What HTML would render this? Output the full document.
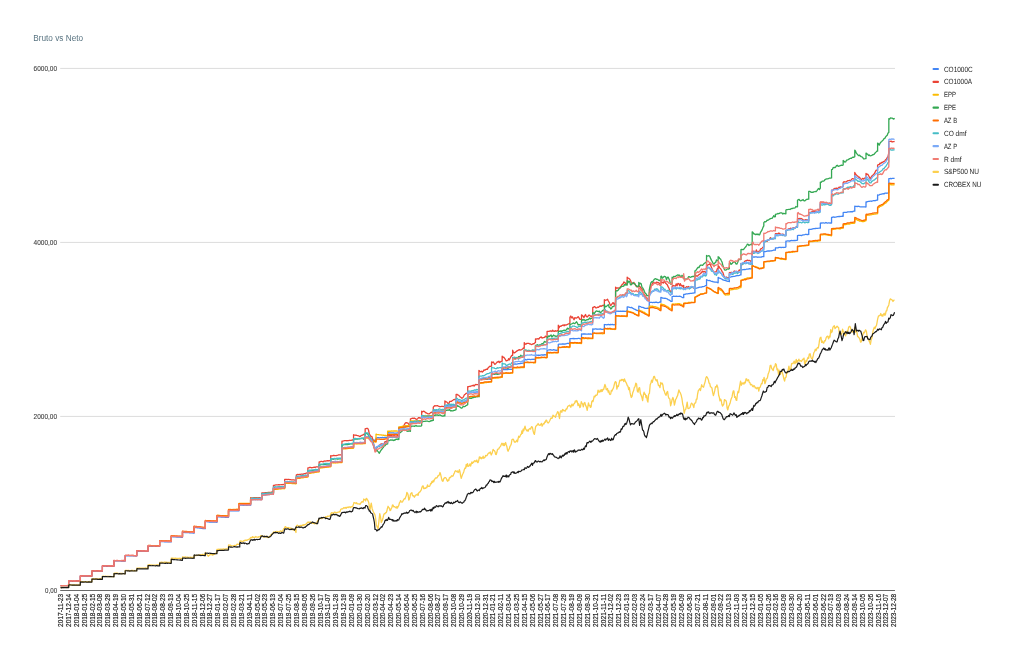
<!DOCTYPE html>
<html lang="hr"><head><meta charset="utf-8"><title>Bruto vs Neto</title>
<style>
html,body{margin:0;padding:0;background:#fff}
body{width:1024px;height:661px;position:relative;overflow:hidden;font-family:"Liberation Sans",Arial,sans-serif}
svg text{font-family:"Liberation Sans",Arial,sans-serif}
</style></head><body>
<svg width="1024" height="661" viewBox="0 0 1024 661" style="position:absolute;left:0;top:0">
<rect width="1024" height="661" fill="#fff"/>
<rect x="60.2" y="67.90" width="834.80" height="1" fill="#dcdcdc"/>
<rect x="60.2" y="241.90" width="834.80" height="1" fill="#dcdcdc"/>
<rect x="60.2" y="415.90" width="834.80" height="1" fill="#dcdcdc"/>
<g fill="none" stroke-width="1.30" stroke-linejoin="round" stroke-linecap="butt">
<path d="M60.50 585.88 L61.32 585.90 L62.14 585.94 L62.96 585.89 L63.77 585.83 L64.59 585.87 L65.41 585.91 L66.23 585.96 L67.05 585.86 L67.87 585.83 L68.69 585.90 L68.69 581.12 L69.51 581.20 L70.34 581.21 L71.17 581.17 L72.00 581.16 L72.83 581.30 L73.66 581.22 L74.49 581.18 L75.32 581.16 L76.14 581.22 L76.97 581.25 L77.80 581.25 L78.63 581.27 L79.46 581.30 L80.29 581.32 L80.29 576.14 L81.12 576.16 L81.95 576.07 L82.78 576.17 L83.60 576.11 L84.43 576.16 L85.26 576.12 L86.09 576.19 L86.92 576.18 L87.75 576.24 L88.58 576.41 L89.41 576.32 L90.24 576.34 L91.06 576.26 L91.89 576.31 L91.89 571.13 L92.70 571.14 L93.51 571.17 L94.31 571.18 L95.12 571.14 L95.92 571.21 L96.73 571.18 L97.54 571.31 L98.34 571.25 L99.15 571.30 L99.96 571.29 L100.76 571.34 L101.57 571.30 L102.37 571.34 L102.37 566.14 L103.20 566.21 L104.03 566.21 L104.86 566.20 L105.69 566.16 L106.52 566.23 L107.35 566.25 L108.18 566.32 L109.01 566.26 L109.83 566.29 L110.66 566.31 L111.49 566.31 L112.32 566.32 L113.15 566.33 L113.98 566.33 L113.98 560.72 L114.78 560.72 L115.58 560.80 L116.39 560.88 L117.19 560.90 L117.99 560.92 L118.79 560.93 L119.59 560.95 L120.40 560.94 L121.20 560.98 L122.00 561.05 L122.80 561.00 L123.60 560.97 L124.41 561.10 L125.21 561.05 L125.21 555.67 L126.04 555.73 L126.87 555.66 L127.70 555.82 L128.52 555.85 L129.35 555.81 L130.18 555.83 L131.01 555.82 L131.84 555.79 L132.67 555.83 L133.50 555.88 L134.33 555.94 L135.15 555.96 L135.98 555.95 L136.81 555.97 L136.81 551.15 L137.61 551.20 L138.42 551.26 L139.22 551.22 L140.02 551.15 L140.82 551.19 L141.63 551.26 L142.43 551.32 L143.23 551.40 L144.03 551.32 L144.83 551.36 L145.64 551.41 L146.44 551.41 L147.24 551.32 L148.04 551.45 L148.04 546.18 L148.87 546.26 L149.70 546.18 L150.53 546.19 L151.36 546.24 L152.19 546.37 L153.02 546.35 L153.84 546.33 L154.67 546.40 L155.50 546.37 L156.33 546.46 L157.16 546.39 L157.99 546.38 L158.82 546.45 L159.65 546.47 L159.65 541.65 L160.48 541.69 L161.30 541.61 L162.13 541.64 L162.96 541.67 L163.79 541.70 L164.62 541.78 L165.45 541.78 L166.28 541.84 L167.11 541.84 L167.94 541.84 L168.76 541.87 L169.59 541.91 L170.42 541.96 L171.25 541.94 L171.25 536.72 L172.05 536.70 L172.85 536.86 L173.66 536.94 L174.46 536.92 L175.26 536.92 L176.06 536.92 L176.87 537.01 L177.67 537.07 L178.47 537.21 L179.27 537.20 L180.07 537.18 L180.88 537.12 L181.68 537.30 L182.48 537.33 L182.48 532.29 L183.31 532.35 L184.14 532.35 L184.97 532.62 L185.80 532.64 L186.62 532.66 L187.45 532.67 L188.28 532.62 L189.11 532.73 L189.94 532.74 L190.77 532.88 L191.60 532.84 L192.43 532.92 L193.26 533.08 L194.08 533.14 L194.08 527.39 L194.89 527.41 L195.69 527.60 L196.49 527.72 L197.29 527.74 L198.10 527.82 L198.90 527.91 L199.70 527.98 L200.50 528.09 L201.30 528.27 L202.11 528.37 L202.91 528.53 L203.71 528.55 L204.51 528.61 L205.31 528.69 L205.31 521.73 L206.14 521.71 L206.97 521.71 L207.80 521.86 L208.63 521.97 L209.46 522.01 L210.29 522.07 L211.12 522.07 L211.95 522.06 L212.77 522.12 L213.60 522.14 L214.43 522.15 L215.26 522.15 L216.09 522.19 L216.92 522.32 L216.92 516.76 L217.75 516.78 L218.58 516.91 L219.40 516.92 L220.23 516.97 L221.06 517.05 L221.89 517.01 L222.72 516.97 L223.55 517.11 L224.38 517.12 L225.21 517.24 L226.04 517.27 L226.86 517.34 L227.69 517.38 L228.52 517.34 L228.52 511.00 L229.33 510.95 L230.13 510.92 L230.94 510.92 L231.75 510.96 L232.55 510.97 L233.36 510.97 L234.17 510.84 L234.97 510.83 L235.78 510.73 L236.58 510.80 L237.39 510.84 L238.20 510.78 L239.00 510.80 L239.00 505.15 L239.83 505.21 L240.66 505.14 L241.49 505.12 L242.32 505.13 L243.15 505.25 L243.98 505.27 L244.81 505.22 L245.63 505.22 L246.46 505.23 L247.29 505.23 L248.12 505.22 L248.95 505.22 L249.78 505.18 L250.61 505.23 L250.61 499.62 L251.41 499.64 L252.21 499.62 L253.01 499.60 L253.82 499.60 L254.62 499.62 L255.42 499.58 L256.22 499.60 L257.02 499.61 L257.83 499.57 L258.63 499.55 L259.43 499.54 L260.23 499.53 L261.04 499.62 L261.84 499.57 L261.84 495.09 L262.67 494.99 L263.50 494.93 L264.32 494.90 L265.15 494.89 L265.98 494.80 L266.81 494.71 L267.64 494.62 L268.47 494.57 L269.30 494.56 L270.13 494.44 L270.95 494.26 L271.78 494.14 L272.61 494.07 L273.44 494.13 L273.44 488.41 L274.24 488.40 L275.05 488.29 L275.85 488.41 L276.65 488.18 L277.45 488.23 L278.25 488.22 L279.06 487.92 L279.86 487.78 L280.66 487.77 L281.46 487.94 L282.26 488.01 L283.07 487.72 L283.87 487.84 L284.67 487.70 L284.67 482.19 L285.50 482.16 L286.33 482.21 L287.16 482.08 L287.99 482.15 L288.82 482.17 L289.64 482.40 L290.47 482.68 L291.30 482.87 L292.13 482.62 L292.96 482.40 L293.79 482.49 L294.62 482.49 L295.45 482.84 L296.28 482.74 L296.28 477.69 L297.10 477.68 L297.93 477.58 L298.76 477.23 L299.59 477.16 L300.42 477.10 L301.25 477.03 L302.08 476.96 L302.91 476.81 L303.74 476.74 L304.56 476.56 L305.39 476.40 L306.22 476.54 L307.05 476.39 L307.88 476.22 L307.88 472.55 L308.68 472.41 L309.48 472.44 L310.29 472.13 L311.09 472.22 L311.89 472.01 L312.69 471.95 L313.49 471.80 L314.30 471.71 L315.10 471.71 L315.90 471.46 L316.70 471.52 L317.51 471.20 L318.31 471.00 L319.11 471.01 L319.11 467.17 L319.94 467.03 L320.77 467.09 L321.60 467.08 L322.42 466.69 L323.25 466.74 L324.08 466.85 L324.91 466.76 L325.74 466.50 L326.57 466.31 L327.40 466.22 L328.23 466.03 L329.06 466.00 L329.88 465.94 L330.71 465.89 L330.71 462.24 L331.52 462.17 L332.32 461.96 L333.12 462.13 L333.92 461.93 L334.72 461.90 L335.53 461.90 L336.33 461.84 L337.13 461.72 L337.93 461.74 L338.73 461.99 L339.54 461.74 L340.34 461.67 L341.14 461.76 L341.94 461.64 L341.94 448.24 L342.77 448.27 L343.60 447.89 L344.43 447.83 L345.26 447.87 L346.09 447.88 L346.92 447.93 L347.75 447.81 L348.57 447.64 L349.40 447.56 L350.23 447.46 L351.06 447.43 L351.89 447.42 L352.72 447.26 L353.55 447.17 L353.55 443.16 L354.38 443.23 L355.21 443.28 L356.03 443.24 L356.86 443.18 L357.69 443.13 L358.52 442.99 L359.35 442.99 L360.18 442.77 L361.01 442.76 L361.84 442.67 L362.66 442.77 L363.49 442.64 L364.32 442.61 L365.15 442.61 L365.15 437.05 L365.99 437.02 L366.82 436.99 L367.66 437.20 L368.49 437.15 L369.33 437.86 L370.16 438.38 L371.00 438.99 L371.83 439.33 L372.67 439.78 L373.50 439.96 L374.34 440.12 L375.17 440.67 L376.01 440.54 L376.01 437.83 L376.84 437.88 L377.66 437.70 L378.49 437.68 L379.32 437.83 L380.15 437.69 L380.98 437.68 L381.81 437.68 L382.64 437.51 L383.47 437.56 L384.30 437.50 L385.12 437.38 L385.95 437.57 L386.78 437.60 L387.61 437.51 L387.61 432.97 L388.41 432.74 L389.22 432.96 L390.02 432.98 L390.82 432.80 L391.62 432.92 L392.42 432.80 L393.23 432.93 L394.03 432.99 L394.83 433.03 L395.63 433.04 L396.43 433.03 L397.24 432.88 L398.04 432.91 L398.84 432.97 L398.84 427.48 L399.67 427.40 L400.50 427.36 L401.33 427.39 L402.16 426.86 L402.99 426.93 L403.81 426.82 L404.64 426.99 L405.47 426.83 L406.30 426.42 L407.13 426.43 L407.96 426.26 L408.79 426.30 L409.62 426.02 L410.44 425.99 L410.44 422.49 L411.25 422.41 L412.05 422.28 L412.85 422.05 L413.65 422.18 L414.46 422.24 L415.26 422.10 L416.06 421.89 L416.86 421.91 L417.66 421.91 L418.47 421.78 L419.27 421.71 L420.07 421.80 L420.87 421.50 L421.67 421.47 L421.67 416.43 L422.50 416.30 L423.33 416.29 L424.16 416.24 L424.99 416.22 L425.82 416.47 L426.65 416.32 L427.48 416.25 L428.31 416.46 L429.13 416.26 L429.96 415.98 L430.79 416.09 L431.62 415.96 L432.45 416.18 L433.28 415.97 L433.28 410.77 L434.11 410.60 L434.94 410.76 L435.77 410.71 L436.59 410.80 L437.42 410.81 L438.25 410.79 L439.08 410.97 L439.91 411.04 L440.74 410.98 L441.57 410.86 L442.40 410.81 L443.23 410.95 L444.05 411.24 L444.88 411.01 L444.88 405.98 L445.69 405.86 L446.49 405.77 L447.29 405.73 L448.09 405.78 L448.89 405.95 L449.70 405.83 L450.50 405.71 L451.30 405.52 L452.10 405.63 L452.90 405.62 L453.71 405.46 L454.51 405.40 L455.31 405.47 L456.11 405.53 L456.11 400.53 L456.94 400.77 L457.77 400.91 L458.60 401.17 L459.43 401.36 L460.26 401.82 L461.09 401.74 L461.91 401.94 L462.74 401.83 L463.57 401.44 L464.40 401.30 L465.23 400.91 L466.06 400.60 L466.89 400.25 L467.72 399.95 L467.72 392.45 L468.52 392.65 L469.32 392.57 L470.12 392.51 L470.93 392.50 L471.73 392.43 L472.53 392.44 L473.33 392.27 L474.13 392.20 L474.94 392.28 L475.74 392.14 L476.54 391.96 L477.34 391.99 L478.14 391.95 L478.95 392.01 L478.95 379.18 L479.79 379.04 L480.63 379.06 L481.47 379.35 L482.31 379.20 L483.15 379.18 L483.99 379.13 L484.83 379.15 L485.67 379.25 L486.51 379.34 L487.35 378.91 L488.19 379.20 L489.03 379.09 L489.87 378.99 L490.71 379.36 L491.55 379.03 L491.55 374.10 L492.37 374.22 L493.18 373.86 L494.00 373.93 L494.81 373.97 L495.63 373.83 L496.44 373.43 L497.26 373.56 L498.08 373.60 L498.89 373.46 L499.71 373.82 L500.52 373.61 L501.34 373.49 L502.15 373.48 L502.15 369.76 L502.96 369.60 L503.77 369.68 L504.57 369.71 L505.38 369.58 L506.19 369.57 L506.99 369.35 L507.80 369.53 L508.60 369.38 L509.41 369.44 L510.22 369.28 L511.02 369.25 L511.83 369.32 L512.64 369.24 L512.64 364.29 L513.46 364.23 L514.29 364.09 L515.12 363.90 L515.95 364.14 L516.78 364.15 L517.61 363.95 L518.44 363.59 L519.27 363.55 L520.10 363.67 L520.92 363.49 L521.75 363.29 L522.58 363.18 L523.41 363.16 L524.24 363.28 L524.24 359.46 L525.04 359.44 L525.84 359.87 L526.65 359.86 L527.45 359.43 L528.25 359.47 L529.05 359.44 L529.85 359.39 L530.66 359.54 L531.46 359.37 L532.26 359.31 L533.06 359.27 L533.87 359.29 L534.67 359.49 L535.47 359.35 L535.47 355.26 L536.30 355.15 L537.13 355.07 L537.96 355.26 L538.79 355.21 L539.61 355.27 L540.44 355.13 L541.27 354.78 L542.10 354.99 L542.93 355.00 L543.76 355.02 L544.59 354.74 L545.42 354.82 L546.25 354.72 L547.07 354.76 L547.07 350.10 L547.88 350.14 L548.68 349.97 L549.48 349.78 L550.28 349.60 L551.08 349.81 L551.89 350.13 L552.69 350.07 L553.49 349.71 L554.29 349.79 L555.10 350.00 L555.90 350.26 L556.70 350.27 L557.50 350.15 L558.30 350.02 L558.30 344.36 L559.13 344.21 L559.96 344.17 L560.79 344.04 L561.62 344.07 L562.45 343.97 L563.28 343.99 L564.11 344.12 L564.93 344.01 L565.76 343.88 L566.59 343.69 L567.42 343.39 L568.25 343.45 L569.08 343.52 L569.91 343.36 L569.91 338.74 L570.74 338.68 L571.57 338.72 L572.39 338.63 L573.22 338.44 L574.05 338.87 L574.88 338.52 L575.71 338.70 L576.54 338.54 L577.37 338.59 L578.20 338.44 L579.03 338.44 L579.85 338.63 L580.68 338.84 L581.51 338.50 L581.51 333.90 L582.31 334.05 L583.12 333.87 L583.92 334.01 L584.72 333.84 L585.52 333.99 L586.32 334.03 L587.13 334.16 L587.93 334.08 L588.73 333.83 L589.53 334.02 L590.34 333.83 L591.14 334.04 L591.94 334.24 L592.74 334.05 L592.74 328.89 L593.57 329.10 L594.40 329.05 L595.23 328.85 L596.06 328.93 L596.89 329.25 L597.71 329.13 L598.54 329.17 L599.37 329.14 L600.20 328.95 L601.03 329.09 L601.86 329.28 L602.69 329.36 L603.52 329.35 L604.35 329.30 L604.35 324.52 L605.15 324.64 L605.95 324.72 L606.75 324.80 L607.55 324.58 L608.36 324.49 L609.16 324.60 L609.96 324.85 L610.76 324.45 L611.57 324.54 L612.37 324.50 L613.17 324.69 L613.97 324.90 L614.77 324.72 L615.58 324.65 L615.58 311.28 L616.40 311.24 L617.23 311.05 L618.06 311.34 L618.89 311.24 L619.72 311.38 L620.55 311.13 L621.38 311.40 L622.21 311.12 L623.04 311.39 L623.86 311.06 L624.69 311.42 L625.52 311.28 L626.35 311.06 L627.18 311.26 L627.18 306.90 L628.01 306.93 L628.84 307.13 L629.67 307.43 L630.50 307.59 L631.32 307.32 L632.15 307.82 L632.98 308.39 L633.81 308.81 L634.64 309.30 L635.47 309.45 L636.30 310.23 L637.13 310.47 L637.96 310.72 L638.78 310.76 L638.78 306.06 L639.59 306.40 L640.40 306.55 L641.20 307.05 L642.01 307.34 L642.82 307.29 L643.62 307.59 L644.43 308.13 L645.23 308.39 L646.04 308.35 L646.85 308.34 L647.65 308.21 L648.46 308.33 L649.27 308.00 L649.27 302.28 L650.09 302.33 L650.92 302.42 L651.75 302.46 L652.58 302.58 L653.41 302.32 L654.24 302.48 L655.07 302.43 L655.90 302.19 L656.72 302.24 L657.55 302.59 L658.38 302.52 L659.21 302.30 L660.04 301.94 L660.87 302.23 L660.87 297.34 L661.67 297.53 L662.47 298.10 L663.28 298.19 L664.08 298.29 L664.88 298.25 L665.68 298.33 L666.48 298.63 L667.29 298.82 L668.09 299.73 L668.89 299.94 L669.69 300.33 L670.49 301.07 L671.30 301.46 L672.10 301.35 L672.10 296.54 L672.93 296.46 L673.76 296.21 L674.59 296.35 L675.41 296.39 L676.24 296.26 L677.07 296.33 L677.90 296.35 L678.73 296.32 L679.56 296.26 L680.39 296.32 L681.22 296.81 L682.05 297.32 L682.87 297.59 L683.70 297.68 L683.70 294.41 L684.51 294.33 L685.31 294.30 L686.11 293.84 L686.91 293.95 L687.71 293.87 L688.52 293.71 L689.32 293.54 L690.12 293.31 L690.92 293.35 L691.72 293.47 L692.53 293.20 L693.33 293.18 L694.13 292.93 L694.93 292.90 L694.93 288.56 L695.76 288.38 L696.59 288.12 L697.42 287.97 L698.25 287.63 L699.08 287.29 L699.91 287.15 L700.73 287.16 L701.56 287.10 L702.39 286.65 L703.22 286.52 L704.05 286.32 L704.88 286.06 L705.71 285.53 L706.54 285.49 L706.54 279.55 L707.37 280.01 L708.19 280.33 L709.02 280.60 L709.85 280.41 L710.68 281.00 L711.51 281.41 L712.34 281.44 L713.17 281.84 L714.00 281.95 L714.83 282.06 L715.65 282.12 L716.48 282.19 L717.31 282.41 L718.14 282.82 L718.14 277.35 L718.94 277.82 L719.75 278.09 L720.55 278.47 L721.35 278.89 L722.15 279.27 L722.95 279.94 L723.76 280.13 L724.56 280.47 L725.36 280.43 L726.16 280.86 L726.96 281.00 L727.77 281.29 L728.57 281.41 L729.37 281.56 L729.37 277.34 L730.20 277.11 L731.03 276.93 L731.86 276.64 L732.69 276.59 L733.52 276.38 L734.34 276.29 L735.17 276.16 L736.00 275.84 L736.83 275.52 L737.66 275.56 L738.49 275.54 L739.32 275.39 L740.15 274.95 L740.97 274.91 L740.97 269.82 L741.78 269.79 L742.58 269.73 L743.38 269.54 L744.18 269.51 L744.99 269.55 L745.79 269.30 L746.59 269.03 L747.39 269.08 L748.19 269.09 L749.00 268.74 L749.80 268.74 L750.60 268.87 L751.40 268.76 L752.20 268.70 L752.20 256.64 L753.03 256.84 L753.86 257.13 L754.69 256.98 L755.52 256.90 L756.35 256.85 L757.18 257.19 L758.01 257.24 L758.84 257.02 L759.66 257.20 L760.49 257.15 L761.32 257.06 L762.15 256.63 L762.98 256.68 L763.81 256.72 L763.81 251.45 L764.64 251.48 L765.47 251.54 L766.30 251.44 L767.12 251.07 L767.95 250.88 L768.78 251.00 L769.61 250.98 L770.44 250.95 L771.27 250.86 L772.10 250.58 L772.93 250.36 L773.76 250.01 L774.58 250.21 L775.41 250.20 L775.41 248.01 L776.22 247.86 L777.03 247.91 L777.83 247.83 L778.64 247.48 L779.44 247.41 L780.25 247.27 L781.06 247.63 L781.86 247.29 L782.67 247.35 L783.48 247.48 L784.28 247.46 L785.09 247.33 L785.89 247.01 L785.89 241.23 L786.72 241.09 L787.55 240.94 L788.38 240.89 L789.21 241.25 L790.04 240.68 L790.87 240.75 L791.70 240.45 L792.52 240.67 L793.35 240.69 L794.18 240.36 L795.01 240.58 L795.84 240.30 L796.67 240.32 L797.50 240.04 L797.50 235.59 L798.30 235.44 L799.10 235.38 L799.90 235.42 L800.71 235.30 L801.51 235.54 L802.31 235.18 L803.11 234.96 L803.92 234.79 L804.72 234.67 L805.52 234.47 L806.32 234.41 L807.12 234.62 L807.93 234.51 L808.73 234.39 L808.73 229.41 L809.56 229.48 L810.39 229.37 L811.21 229.29 L812.04 229.00 L812.87 228.89 L813.70 228.71 L814.53 228.69 L815.36 228.51 L816.19 228.46 L817.02 228.41 L817.85 228.32 L818.67 228.22 L819.50 228.10 L820.33 228.15 L820.33 223.10 L821.13 222.95 L821.94 223.07 L822.74 222.93 L823.54 222.88 L824.34 223.03 L825.14 222.83 L825.95 222.52 L826.75 222.94 L827.55 223.20 L828.35 222.88 L829.16 222.89 L829.96 223.11 L830.76 222.81 L831.56 223.03 L831.56 217.42 L832.39 217.29 L833.22 216.98 L834.05 217.25 L834.88 217.12 L835.71 217.09 L836.54 216.93 L837.36 216.54 L838.19 216.65 L839.02 216.45 L839.85 216.52 L840.68 216.36 L841.51 216.32 L842.34 216.27 L843.17 216.28 L843.17 212.54 L843.99 212.31 L844.82 212.28 L845.65 212.43 L846.48 212.29 L847.31 211.99 L848.14 211.92 L848.97 211.81 L849.80 211.90 L850.63 211.74 L851.45 211.68 L852.28 211.87 L853.11 211.35 L853.94 211.16 L854.77 211.15 L854.77 206.14 L855.57 206.30 L856.37 206.39 L857.18 206.65 L857.98 206.23 L858.78 206.28 L859.58 206.67 L860.38 206.78 L861.19 206.82 L861.99 206.87 L862.79 206.79 L863.59 206.78 L864.40 206.82 L865.20 206.98 L866.00 206.91 L866.00 201.92 L866.83 202.00 L867.66 201.54 L868.49 201.35 L869.32 201.39 L870.14 201.19 L870.97 201.05 L871.80 201.25 L872.63 200.98 L873.46 200.67 L874.29 200.70 L875.12 200.84 L875.95 200.26 L876.78 200.03 L877.60 199.99 L877.60 194.97 L878.41 195.11 L879.21 194.82 L880.01 194.47 L880.81 194.36 L881.61 194.01 L882.42 193.80 L883.22 193.72 L884.02 193.92 L884.82 193.18 L885.63 193.20 L886.43 193.23 L887.23 193.03 L888.03 193.03 L888.83 192.56 L888.83 178.73 L889.66 178.67 L890.48 178.49 L891.31 178.77 L892.13 178.42 L892.95 178.43 L893.78 178.34 L894.60 178.35" stroke="#4285f4"/>
<path d="M60.50 585.57 L61.32 585.58 L62.14 585.57 L62.96 585.56 L63.77 585.65 L64.59 585.62 L65.41 585.59 L66.23 585.71 L67.05 585.61 L67.87 585.52 L68.69 585.56 L68.69 580.78 L69.51 580.83 L70.34 580.89 L71.17 580.94 L72.00 581.01 L72.83 581.04 L73.66 580.99 L74.49 581.03 L75.32 581.00 L76.14 580.92 L76.97 581.00 L77.80 580.98 L78.63 580.97 L79.46 581.12 L80.29 581.03 L80.29 575.80 L81.12 575.81 L81.95 575.99 L82.78 575.89 L83.60 575.92 L84.43 575.94 L85.26 575.95 L86.09 575.96 L86.92 575.91 L87.75 575.90 L88.58 575.92 L89.41 575.93 L90.24 576.02 L91.06 576.11 L91.89 576.00 L91.89 570.81 L92.70 570.77 L93.51 570.77 L94.31 570.81 L95.12 570.86 L95.92 570.85 L96.73 570.71 L97.54 570.94 L98.34 570.92 L99.15 570.90 L99.96 570.99 L100.76 570.94 L101.57 570.88 L102.37 571.00 L102.37 565.81 L103.20 565.77 L104.03 565.87 L104.86 565.89 L105.69 565.80 L106.52 565.97 L107.35 565.94 L108.18 565.85 L109.01 565.93 L109.83 565.95 L110.66 566.02 L111.49 565.90 L112.32 566.02 L113.15 566.07 L113.98 566.02 L113.98 560.42 L114.78 560.54 L115.58 560.54 L116.39 560.51 L117.19 560.45 L117.99 560.57 L118.79 560.62 L119.59 560.61 L120.40 560.60 L121.20 560.66 L122.00 560.47 L122.80 560.61 L123.60 560.48 L124.41 560.64 L125.21 560.72 L125.21 555.35 L126.04 555.35 L126.87 555.38 L127.70 555.38 L128.52 555.24 L129.35 555.41 L130.18 555.43 L131.01 555.46 L131.84 555.41 L132.67 555.47 L133.50 555.52 L134.33 555.62 L135.15 555.61 L135.98 555.83 L136.81 555.62 L136.81 550.70 L137.61 550.72 L138.42 550.69 L139.22 550.85 L140.02 550.86 L140.82 550.75 L141.63 550.82 L142.43 550.93 L143.23 550.81 L144.03 550.88 L144.83 550.90 L145.64 551.09 L146.44 551.04 L147.24 550.98 L148.04 550.99 L148.04 545.64 L148.87 545.63 L149.70 545.80 L150.53 545.62 L151.36 545.66 L152.19 545.68 L153.02 545.68 L153.84 545.72 L154.67 545.81 L155.50 545.76 L156.33 545.71 L157.16 545.89 L157.99 545.98 L158.82 545.88 L159.65 545.91 L159.65 540.95 L160.48 541.04 L161.30 540.96 L162.13 541.00 L162.96 541.21 L163.79 541.07 L164.62 541.12 L165.45 541.08 L166.28 541.02 L167.11 541.07 L167.94 541.19 L168.76 541.14 L169.59 541.19 L170.42 541.31 L171.25 541.30 L171.25 535.97 L172.05 536.12 L172.85 536.12 L173.66 536.24 L174.46 536.14 L175.26 536.32 L176.06 536.21 L176.87 536.17 L177.67 536.27 L178.47 536.34 L179.27 536.43 L180.07 536.44 L180.88 536.55 L181.68 536.66 L182.48 536.60 L182.48 531.47 L183.31 531.50 L184.14 531.65 L184.97 531.74 L185.80 531.73 L186.62 531.72 L187.45 531.82 L188.28 531.96 L189.11 531.93 L189.94 532.10 L190.77 532.12 L191.60 532.17 L192.43 532.16 L193.26 532.33 L194.08 532.31 L194.08 526.47 L194.89 526.62 L195.69 526.67 L196.49 526.85 L197.29 526.91 L198.10 526.94 L198.90 527.06 L199.70 527.12 L200.50 527.18 L201.30 527.32 L202.11 527.48 L202.91 527.55 L203.71 527.62 L204.51 527.67 L205.31 527.81 L205.31 520.81 L206.14 520.92 L206.97 520.94 L207.80 521.09 L208.63 520.93 L209.46 521.00 L210.29 521.09 L211.12 521.17 L211.95 521.07 L212.77 521.08 L213.60 521.19 L214.43 521.33 L215.26 521.41 L216.09 521.29 L216.92 521.40 L216.92 515.82 L217.75 515.87 L218.58 515.83 L219.40 515.86 L220.23 515.86 L221.06 516.06 L221.89 516.06 L222.72 516.07 L223.55 516.08 L224.38 516.16 L225.21 516.16 L226.04 516.18 L226.86 516.28 L227.69 516.33 L228.52 516.41 L228.52 510.01 L229.33 510.07 L230.13 510.00 L230.94 509.98 L231.75 509.97 L232.55 509.88 L233.36 509.98 L234.17 509.88 L234.97 509.77 L235.78 509.91 L236.58 509.91 L237.39 509.82 L238.20 509.88 L239.00 509.83 L239.00 503.92 L239.83 503.86 L240.66 503.91 L241.49 503.85 L242.32 503.87 L243.15 503.88 L243.98 503.87 L244.81 503.96 L245.63 503.91 L246.46 503.99 L247.29 503.99 L248.12 503.95 L248.95 503.99 L249.78 504.04 L250.61 504.03 L250.61 497.71 L251.41 497.82 L252.21 497.78 L253.01 497.82 L253.82 497.65 L254.62 497.61 L255.42 497.75 L256.22 497.71 L257.02 497.74 L257.83 497.79 L258.63 497.64 L259.43 497.71 L260.23 497.84 L261.04 497.80 L261.84 497.71 L261.84 492.92 L262.67 492.86 L263.50 492.83 L264.32 492.82 L265.15 492.67 L265.98 492.63 L266.81 492.55 L267.64 492.52 L268.47 492.47 L269.30 492.28 L270.13 492.45 L270.95 492.43 L271.78 492.01 L272.61 491.97 L273.44 491.91 L273.44 485.35 L274.24 485.34 L275.05 485.05 L275.85 484.97 L276.65 484.88 L277.45 484.83 L278.25 484.76 L279.06 484.63 L279.86 484.85 L280.66 484.73 L281.46 484.53 L282.26 484.75 L283.07 484.49 L283.87 484.63 L284.67 484.35 L284.67 479.46 L285.50 479.44 L286.33 479.31 L287.16 479.55 L287.99 479.33 L288.82 479.33 L289.64 479.61 L290.47 479.60 L291.30 479.79 L292.13 479.84 L292.96 479.90 L293.79 479.93 L294.62 480.08 L295.45 480.02 L296.28 480.07 L296.28 475.08 L297.10 474.59 L297.93 474.31 L298.76 474.75 L299.59 474.43 L300.42 474.35 L301.25 474.18 L302.08 474.11 L302.91 474.36 L303.74 473.81 L304.56 473.67 L305.39 473.52 L306.22 473.18 L307.05 473.01 L307.88 473.06 L307.88 467.99 L308.68 467.97 L309.48 467.47 L310.29 467.31 L311.09 467.80 L311.89 467.57 L312.69 467.62 L313.49 467.34 L314.30 467.12 L315.10 467.53 L315.90 466.97 L316.70 466.78 L317.51 466.95 L318.31 466.82 L319.11 466.61 L319.11 461.88 L319.94 461.93 L320.77 461.47 L321.60 461.44 L322.42 461.62 L323.25 461.84 L324.08 461.05 L324.91 461.02 L325.74 461.09 L326.57 460.87 L327.40 460.74 L328.23 460.71 L329.06 460.83 L329.88 460.51 L330.71 460.63 L330.71 455.66 L331.52 455.80 L332.32 455.90 L333.12 455.51 L333.92 455.44 L334.72 455.58 L335.53 455.66 L336.33 455.59 L337.13 455.28 L337.93 455.14 L338.73 454.90 L339.54 454.96 L340.34 454.86 L341.14 454.88 L341.94 454.96 L341.94 441.04 L342.77 441.14 L343.60 440.93 L344.43 440.60 L345.26 440.64 L346.09 440.71 L346.92 440.76 L347.75 440.61 L348.57 440.63 L349.40 440.31 L350.23 440.40 L351.06 440.40 L351.89 440.15 L352.72 439.93 L353.55 440.06 L353.55 434.77 L354.38 435.07 L355.21 435.13 L356.03 435.25 L356.86 435.42 L357.69 435.56 L358.52 435.79 L359.35 436.33 L360.18 436.49 L361.01 435.57 L361.84 435.27 L362.66 435.12 L363.49 434.31 L364.32 434.85 L365.15 434.19 L365.15 428.86 L365.99 428.55 L366.82 428.32 L367.66 428.31 L368.49 430.00 L369.33 433.77 L370.16 435.24 L371.00 436.77 L371.83 436.37 L372.67 439.04 L373.50 443.19 L374.34 447.36 L375.17 451.11 L376.01 450.93 L376.01 448.62 L376.84 447.86 L377.66 446.66 L378.49 445.98 L379.32 445.13 L380.15 444.78 L380.98 443.94 L381.81 443.99 L382.64 443.99 L383.47 444.31 L384.30 443.14 L385.12 441.52 L385.95 441.77 L386.78 441.08 L387.61 440.19 L387.61 435.86 L388.41 435.49 L389.22 435.53 L390.02 435.94 L390.82 435.67 L391.62 435.74 L392.42 435.87 L393.23 435.78 L394.03 435.59 L394.83 435.81 L395.63 436.19 L396.43 436.29 L397.24 435.46 L398.04 435.81 L398.84 435.31 L398.84 427.77 L399.67 427.63 L400.50 427.65 L401.33 427.82 L402.16 426.47 L402.99 426.94 L403.81 425.77 L404.64 424.11 L405.47 422.87 L406.30 422.62 L407.13 422.82 L407.96 423.21 L408.79 424.35 L409.62 424.86 L410.44 425.42 L410.44 418.79 L411.25 418.58 L412.05 418.27 L412.85 418.10 L413.65 418.54 L414.46 418.06 L415.26 418.65 L416.06 419.10 L416.86 419.34 L417.66 418.66 L418.47 417.76 L419.27 417.65 L420.07 418.17 L420.87 418.02 L421.67 417.22 L421.67 411.15 L422.50 411.89 L423.33 411.20 L424.16 411.38 L424.99 412.02 L425.82 412.92 L426.65 412.98 L427.48 413.67 L428.31 413.89 L429.13 413.93 L429.96 413.24 L430.79 412.51 L431.62 412.18 L432.45 412.90 L433.28 413.18 L433.28 407.09 L434.11 406.22 L434.94 405.62 L435.77 405.82 L436.59 405.73 L437.42 405.59 L438.25 406.21 L439.08 406.50 L439.91 406.53 L440.74 406.57 L441.57 406.34 L442.40 406.28 L443.23 406.53 L444.05 406.44 L444.88 406.45 L444.88 400.84 L445.69 401.76 L446.49 401.84 L447.29 402.60 L448.09 403.49 L448.89 403.41 L449.70 401.48 L450.50 401.42 L451.30 401.44 L452.10 400.70 L452.90 400.21 L453.71 399.59 L454.51 399.50 L455.31 399.58 L456.11 399.26 L456.11 394.32 L456.94 394.37 L457.77 395.06 L458.60 395.13 L459.43 396.07 L460.26 397.02 L461.09 397.54 L461.91 398.25 L462.74 397.66 L463.57 396.54 L464.40 394.82 L465.23 394.31 L466.06 393.39 L466.89 393.05 L467.72 392.62 L467.72 386.70 L468.52 386.74 L469.32 386.32 L470.12 386.48 L470.93 385.91 L471.73 385.96 L472.53 385.66 L473.33 385.10 L474.13 386.01 L474.94 385.04 L475.74 384.38 L476.54 384.62 L477.34 384.71 L478.14 384.58 L478.95 384.21 L478.95 370.36 L479.79 371.21 L480.63 371.76 L481.47 371.17 L482.31 372.12 L483.15 371.34 L483.99 369.82 L484.83 370.27 L485.67 369.50 L486.51 369.05 L487.35 369.37 L488.19 367.76 L489.03 366.94 L489.87 366.24 L490.71 366.36 L491.55 366.19 L491.55 361.99 L492.37 362.61 L493.18 361.88 L494.00 363.20 L494.81 364.41 L495.63 363.78 L496.44 362.84 L497.26 361.78 L498.08 362.08 L498.89 361.18 L499.71 362.57 L500.52 361.86 L501.34 361.30 L502.15 361.18 L502.15 356.21 L502.96 357.23 L503.77 357.15 L504.57 358.32 L505.38 359.46 L506.19 360.87 L506.99 360.63 L507.80 360.45 L508.60 358.70 L509.41 359.85 L510.22 358.01 L511.02 356.47 L511.83 355.49 L512.64 355.29 L512.64 350.22 L513.46 352.36 L514.29 352.95 L515.12 352.41 L515.95 351.74 L516.78 351.12 L517.61 350.52 L518.44 350.21 L519.27 349.62 L520.10 350.20 L520.92 349.79 L521.75 349.61 L522.58 348.95 L523.41 348.02 L524.24 348.31 L524.24 342.54 L525.04 343.91 L525.84 344.25 L526.65 343.32 L527.45 343.33 L528.25 343.39 L529.05 343.47 L529.85 344.10 L530.66 344.01 L531.46 344.52 L532.26 344.33 L533.06 343.71 L533.87 343.89 L534.67 342.97 L535.47 342.53 L535.47 339.01 L536.30 339.01 L537.13 338.79 L537.96 338.70 L538.79 339.18 L539.61 337.85 L540.44 337.32 L541.27 336.86 L542.10 338.07 L542.93 337.73 L543.76 337.54 L544.59 337.40 L545.42 336.09 L546.25 336.93 L547.07 336.73 L547.07 331.36 L547.88 331.41 L548.68 331.28 L549.48 331.23 L550.28 330.94 L551.08 331.01 L551.89 331.47 L552.69 330.20 L553.49 331.23 L554.29 331.46 L555.10 330.61 L555.90 331.10 L556.70 331.12 L557.50 330.67 L558.30 331.05 L558.30 325.22 L559.13 327.76 L559.96 326.05 L560.79 326.37 L561.62 325.71 L562.45 325.40 L563.28 324.89 L564.11 325.78 L564.93 324.74 L565.76 325.09 L566.59 324.77 L567.42 324.44 L568.25 323.97 L569.08 323.90 L569.91 322.87 L569.91 317.30 L570.74 315.97 L571.57 317.79 L572.39 316.85 L573.22 318.36 L574.05 319.79 L574.88 317.59 L575.71 318.04 L576.54 318.06 L577.37 317.39 L578.20 316.76 L579.03 317.85 L579.85 319.42 L580.68 319.30 L581.51 319.52 L581.51 314.82 L582.31 315.50 L583.12 316.26 L583.92 317.73 L584.72 315.85 L585.52 314.45 L586.32 316.41 L587.13 316.98 L587.93 316.26 L588.73 315.15 L589.53 315.25 L590.34 315.89 L591.14 316.84 L591.94 315.85 L592.74 315.06 L592.74 307.29 L593.57 307.38 L594.40 306.55 L595.23 307.14 L596.06 308.00 L596.89 307.63 L597.71 307.17 L598.54 307.30 L599.37 306.53 L600.20 305.86 L601.03 306.41 L601.86 305.91 L602.69 305.31 L603.52 305.66 L604.35 305.56 L604.35 299.64 L605.15 300.52 L605.95 300.03 L606.75 299.87 L607.55 299.23 L608.36 301.00 L609.16 302.24 L609.96 304.52 L610.76 305.54 L611.57 304.64 L612.37 303.24 L613.17 302.59 L613.97 304.11 L614.77 304.42 L615.58 301.45 L615.58 287.18 L616.40 288.23 L617.23 287.90 L618.06 288.15 L618.89 288.00 L619.72 288.25 L620.55 286.60 L621.38 285.58 L622.21 284.39 L623.04 283.94 L623.86 281.87 L624.69 282.59 L625.52 283.29 L626.35 284.63 L627.18 284.05 L627.18 277.10 L628.01 277.94 L628.84 278.43 L629.67 279.06 L630.50 280.58 L631.32 282.53 L632.15 283.65 L632.98 283.57 L633.81 282.38 L634.64 283.67 L635.47 285.03 L636.30 286.35 L637.13 286.88 L637.96 286.54 L638.78 285.96 L638.78 285.40 L639.59 286.71 L640.40 286.95 L641.20 288.75 L642.01 288.89 L642.82 291.90 L643.62 294.04 L644.43 294.65 L645.23 296.02 L646.04 297.05 L646.85 297.73 L647.65 299.90 L648.46 299.64 L649.27 299.10 L649.27 293.03 L650.09 289.84 L650.92 285.25 L651.75 285.06 L652.58 283.31 L653.41 282.71 L654.24 282.46 L655.07 283.59 L655.90 282.51 L656.72 282.11 L657.55 282.52 L658.38 282.67 L659.21 283.00 L660.04 285.36 L660.87 284.94 L660.87 281.30 L661.67 282.53 L662.47 282.28 L663.28 283.10 L664.08 281.46 L664.88 282.05 L665.68 283.33 L666.48 283.95 L667.29 284.79 L668.09 286.63 L668.89 288.02 L669.69 289.98 L670.49 291.48 L671.30 291.36 L672.10 291.73 L672.10 286.41 L672.93 285.47 L673.76 285.81 L674.59 285.81 L675.41 286.15 L676.24 283.81 L677.07 285.84 L677.90 283.40 L678.73 283.52 L679.56 285.62 L680.39 283.68 L681.22 285.88 L682.05 285.34 L682.87 286.56 L683.70 285.42 L683.70 288.82 L684.51 288.13 L685.31 287.96 L686.11 287.06 L686.91 286.58 L687.71 287.64 L688.52 286.52 L689.32 287.40 L690.12 287.50 L690.92 287.54 L691.72 286.92 L692.53 286.60 L693.33 288.06 L694.13 287.30 L694.93 287.81 L694.93 274.90 L695.76 275.13 L696.59 276.08 L697.42 276.22 L698.25 275.20 L699.08 274.57 L699.91 274.15 L700.73 273.16 L701.56 272.61 L702.39 271.06 L703.22 272.03 L704.05 271.37 L704.88 271.59 L705.71 272.87 L706.54 271.39 L706.54 264.60 L707.37 265.56 L708.19 264.63 L709.02 264.37 L709.85 263.81 L710.68 265.39 L711.51 267.52 L712.34 269.59 L713.17 271.15 L714.00 271.93 L714.83 272.07 L715.65 271.73 L716.48 271.20 L717.31 268.67 L718.14 269.68 L718.14 265.64 L718.94 266.42 L719.75 267.98 L720.55 268.64 L721.35 269.99 L722.15 271.65 L722.95 272.65 L723.76 275.31 L724.56 277.26 L725.36 278.05 L726.16 277.04 L726.96 277.45 L727.77 277.62 L728.57 278.13 L729.37 278.37 L729.37 272.55 L730.20 272.46 L731.03 273.01 L731.86 272.26 L732.69 272.72 L733.52 272.26 L734.34 270.97 L735.17 271.49 L736.00 271.74 L736.83 271.28 L737.66 272.73 L738.49 271.37 L739.32 269.94 L740.15 270.30 L740.97 270.61 L740.97 263.29 L741.78 265.01 L742.58 263.60 L743.38 263.48 L744.18 262.14 L744.99 261.17 L745.79 260.70 L746.59 260.62 L747.39 260.11 L748.19 260.50 L749.00 260.56 L749.80 260.44 L750.60 260.99 L751.40 262.64 L752.20 262.57 L752.20 251.10 L753.03 252.49 L753.86 251.05 L754.69 252.00 L755.52 252.38 L756.35 249.97 L757.18 251.85 L758.01 252.44 L758.84 251.28 L759.66 251.79 L760.49 248.93 L761.32 248.84 L762.15 248.13 L762.98 247.05 L763.81 246.98 L763.81 241.48 L764.64 241.40 L765.47 241.31 L766.30 241.38 L767.12 241.27 L767.95 240.03 L768.78 239.94 L769.61 239.16 L770.44 237.60 L771.27 238.68 L772.10 238.99 L772.93 238.46 L773.76 238.80 L774.58 237.89 L775.41 237.29 L775.41 233.61 L776.22 233.57 L777.03 234.00 L777.83 233.90 L778.64 233.07 L779.44 233.32 L780.25 233.99 L781.06 234.89 L781.86 234.43 L782.67 234.04 L783.48 234.36 L784.28 235.20 L785.09 235.69 L785.89 234.93 L785.89 230.07 L786.72 230.45 L787.55 230.10 L788.38 228.90 L789.21 229.11 L790.04 228.49 L790.87 228.10 L791.70 228.94 L792.52 228.13 L793.35 227.93 L794.18 228.02 L795.01 228.08 L795.84 227.28 L796.67 226.41 L797.50 226.23 L797.50 218.65 L798.30 218.71 L799.10 218.90 L799.90 218.41 L800.71 218.65 L801.51 218.52 L802.31 219.21 L803.11 219.94 L803.92 220.25 L804.72 220.19 L805.52 219.71 L806.32 220.05 L807.12 219.64 L807.93 220.50 L808.73 220.39 L808.73 212.34 L809.56 213.04 L810.39 212.74 L811.21 211.92 L812.04 211.94 L812.87 211.50 L813.70 211.40 L814.53 211.48 L815.36 211.25 L816.19 211.60 L817.02 212.08 L817.85 211.28 L818.67 210.91 L819.50 210.78 L820.33 211.10 L820.33 202.47 L821.13 202.22 L821.94 202.11 L822.74 202.21 L823.54 203.08 L824.34 203.42 L825.14 203.62 L825.95 203.33 L826.75 202.74 L827.55 203.68 L828.35 204.45 L829.16 203.41 L829.96 203.12 L830.76 203.86 L831.56 203.64 L831.56 190.11 L832.39 190.79 L833.22 189.65 L834.05 188.75 L834.88 188.42 L835.71 188.37 L836.54 188.13 L837.36 188.33 L838.19 188.07 L839.02 187.14 L839.85 187.36 L840.68 186.86 L841.51 187.35 L842.34 187.21 L843.17 186.20 L843.17 182.48 L843.99 181.66 L844.82 182.01 L845.65 181.81 L846.48 181.78 L847.31 180.84 L848.14 180.54 L848.97 180.44 L849.80 180.32 L850.63 180.50 L851.45 179.65 L852.28 178.58 L853.11 178.70 L853.94 179.16 L854.77 178.84 L854.77 172.47 L855.57 173.85 L856.37 174.90 L857.18 175.83 L857.98 176.28 L858.78 177.35 L859.58 177.18 L860.38 178.89 L861.19 179.84 L861.99 179.05 L862.79 178.32 L863.59 179.18 L864.40 178.15 L865.20 178.05 L866.00 178.50 L866.00 173.38 L866.83 174.37 L867.66 174.23 L868.49 175.44 L869.32 177.06 L870.14 178.79 L870.97 177.44 L871.80 176.20 L872.63 175.22 L873.46 174.71 L874.29 173.77 L875.12 172.13 L875.95 170.45 L876.78 170.10 L877.60 170.19 L877.60 165.32 L878.41 164.57 L879.21 164.64 L880.01 163.11 L880.81 163.64 L881.61 162.48 L882.42 162.34 L883.22 161.83 L884.02 161.44 L884.82 160.92 L885.63 159.71 L886.43 159.16 L887.23 157.50 L888.03 156.55 L888.83 152.36 L888.83 141.54 L889.66 141.47 L890.48 141.45 L891.31 141.16 L892.13 142.01 L892.95 141.65 L893.78 141.64 L894.60 141.29" stroke="#ea4335"/>
<path d="M216.92 515.32 L217.75 515.43 L218.58 515.39 L219.40 515.36 L220.23 515.47 L221.06 515.56 L221.89 515.60 L222.72 515.65 L223.55 515.67 L224.38 515.68 L225.21 515.71 L226.04 515.77 L226.86 515.81 L227.69 515.91 L228.52 515.93 L228.52 509.49 L229.33 509.51 L230.13 509.48 L230.94 509.51 L231.75 509.53 L232.55 509.49 L233.36 509.35 L234.17 509.41 L234.97 509.31 L235.78 509.42 L236.58 509.34 L237.39 509.32 L238.20 509.40 L239.00 509.29 L239.00 503.40 L239.83 503.36 L240.66 503.38 L241.49 503.38 L242.32 503.45 L243.15 503.43 L243.98 503.46 L244.81 503.49 L245.63 503.40 L246.46 503.51 L247.29 503.48 L248.12 503.41 L248.95 503.44 L249.78 503.52 L250.61 503.52 L250.61 498.50 L251.41 498.51 L252.21 498.52 L253.01 498.56 L253.82 498.52 L254.62 498.56 L255.42 498.48 L256.22 498.47 L257.02 498.52 L257.83 498.55 L258.63 498.52 L259.43 498.54 L260.23 498.53 L261.04 498.55 L261.84 498.52 L261.84 493.92 L262.67 493.90 L263.50 493.78 L264.32 493.69 L265.15 493.53 L265.98 493.56 L266.81 493.52 L267.64 493.48 L268.47 493.31 L269.30 493.28 L270.13 493.17 L270.95 492.97 L271.78 493.17 L272.61 493.23 L273.44 492.98 L273.44 489.36 L274.24 489.52 L275.05 489.19 L275.85 489.30 L276.65 489.36 L277.45 489.39 L278.25 488.99 L279.06 488.85 L279.86 488.91 L280.66 489.01 L281.46 488.73 L282.26 488.66 L283.07 488.56 L283.87 488.74 L284.67 488.59 L284.67 483.12 L285.50 483.25 L286.33 483.35 L287.16 483.33 L287.99 483.34 L288.82 483.45 L289.64 483.44 L290.47 483.26 L291.30 483.31 L292.13 483.51 L292.96 483.52 L293.79 483.49 L294.62 483.57 L295.45 483.97 L296.28 483.64 L296.28 478.64 L297.10 478.60 L297.93 478.40 L298.76 478.43 L299.59 478.33 L300.42 478.18 L301.25 477.86 L302.08 477.97 L302.91 477.88 L303.74 477.69 L304.56 477.25 L305.39 477.33 L306.22 477.16 L307.05 477.14 L307.88 477.08 L307.88 473.47 L308.68 473.48 L309.48 473.33 L310.29 473.33 L311.09 473.01 L311.89 472.91 L312.69 472.97 L313.49 472.80 L314.30 472.55 L315.10 472.37 L315.90 472.27 L316.70 472.21 L317.51 472.21 L318.31 472.07 L319.11 471.94 L319.11 468.14 L319.94 468.08 L320.77 468.10 L321.60 467.98 L322.42 467.78 L323.25 467.65 L324.08 467.56 L324.91 467.38 L325.74 467.19 L326.57 467.22 L327.40 467.11 L328.23 467.14 L329.06 466.95 L329.88 466.90 L330.71 466.81 L330.71 463.09 L331.52 463.08 L332.32 462.95 L333.12 462.91 L333.92 463.01 L334.72 462.97 L335.53 462.88 L336.33 462.74 L337.13 462.83 L337.93 462.98 L338.73 462.53 L339.54 462.71 L340.34 462.65 L341.14 462.70 L341.94 462.56 L341.94 449.09 L342.77 449.23 L343.60 448.97 L344.43 448.87 L345.26 448.89 L346.09 448.77 L346.92 448.72 L347.75 448.57 L348.57 448.41 L349.40 448.43 L350.23 448.26 L351.06 448.44 L351.89 448.32 L352.72 448.37 L353.55 448.08 L353.55 444.13 L354.38 443.82 L355.21 443.97 L356.03 443.88 L356.86 444.01 L357.69 443.83 L358.52 443.74 L359.35 443.87 L360.18 443.81 L361.01 443.89 L361.84 443.90 L362.66 443.82 L363.49 443.59 L364.32 443.52 L365.15 443.67 L365.15 437.92 L365.99 438.02 L366.82 438.05 L367.66 438.08 L368.49 438.16 L369.33 438.75 L370.16 439.38 L371.00 439.85 L371.83 440.79 L372.67 441.06 L373.50 441.24 L374.34 441.75 L375.17 442.16 L376.01 442.06 L376.01 434.17 L376.84 434.46 L377.66 434.55 L378.49 434.65 L379.32 434.82 L380.15 434.82 L380.98 434.88 L381.81 435.19 L382.64 435.17 L383.47 435.25 L384.30 435.43 L385.12 435.50 L385.95 435.46 L386.78 435.87 L387.61 435.82 L387.61 431.17 L388.41 431.25 L389.22 431.05 L390.02 431.25 L390.82 431.12 L391.62 431.00 L392.42 431.04 L393.23 430.81 L394.03 431.02 L394.83 430.95 L395.63 430.98 L396.43 430.91 L397.24 431.06 L398.04 431.08 L398.84 431.05 L398.84 426.88 L399.67 426.82 L400.50 426.64 L401.33 426.53 L402.16 426.29 L402.99 426.16 L403.81 426.19 L404.64 425.94 L405.47 425.65 L406.30 425.66 L407.13 425.66 L407.96 425.72 L408.79 425.42 L409.62 425.22 L410.44 425.20 L410.44 421.00 L411.25 421.00 L412.05 420.89 L412.85 420.91 L413.65 420.81 L414.46 420.93 L415.26 420.86 L416.06 420.85 L416.86 420.71 L417.66 420.53 L418.47 420.60 L419.27 420.60 L420.07 420.70 L420.87 420.70 L421.67 420.52 L421.67 415.71 L422.50 415.59 L423.33 415.64 L424.16 415.68 L424.99 415.61 L425.82 415.51 L426.65 415.73 L427.48 415.54 L428.31 415.76 L429.13 415.78 L429.96 415.81 L430.79 415.55 L431.62 415.61 L432.45 415.40 L433.28 415.48 L433.28 411.24 L434.11 411.15 L434.94 411.19 L435.77 411.36 L436.59 411.43 L437.42 411.29 L438.25 411.24 L439.08 411.15 L439.91 411.09 L440.74 410.99 L441.57 411.13 L442.40 411.26 L443.23 411.15 L444.05 411.24 L444.88 411.17 L444.88 406.76 L445.69 406.67 L446.49 406.82 L447.29 406.69 L448.09 406.77 L448.89 406.66 L449.70 406.51 L450.50 406.34 L451.30 406.44 L452.10 406.40 L452.90 406.57 L453.71 406.56 L454.51 406.31 L455.31 406.48 L456.11 406.43 L456.11 401.31 L456.94 401.42 L457.77 401.82 L458.60 401.90 L459.43 402.18 L460.26 402.56 L461.09 402.81 L461.91 403.07 L462.74 402.82 L463.57 402.37 L464.40 402.40 L465.23 402.01 L466.06 401.87 L466.89 401.37 L467.72 401.03 L467.72 397.02 L468.52 396.98 L469.32 396.98 L470.12 396.95 L470.93 396.98 L471.73 396.91 L472.53 396.83 L473.33 396.83 L474.13 396.91 L474.94 396.76 L475.74 396.75 L476.54 396.67 L477.34 396.38 L478.14 396.38 L478.95 396.45 L478.95 383.44 L479.79 383.27 L480.63 382.99 L481.47 383.14 L482.31 383.01 L483.15 383.16 L483.99 383.02 L484.83 382.66 L485.67 382.63 L486.51 382.59 L487.35 382.41 L488.19 382.32 L489.03 382.12 L489.87 382.04 L490.71 382.09 L491.55 381.99 L491.55 378.35 L492.37 377.99 L493.18 377.97 L494.00 377.98 L494.81 378.21 L495.63 378.20 L496.44 378.09 L497.26 378.04 L498.08 378.07 L498.89 377.90 L499.71 377.66 L500.52 377.59 L501.34 377.39 L502.15 377.38 L502.15 373.61 L502.96 373.51 L503.77 373.53 L504.57 373.43 L505.38 373.24 L506.19 373.13 L506.99 373.38 L507.80 373.35 L508.60 373.43 L509.41 373.29 L510.22 373.24 L511.02 373.23 L511.83 373.11 L512.64 373.16 L512.64 368.07 L513.46 368.11 L514.29 367.83 L515.12 367.79 L515.95 367.86 L516.78 368.00 L517.61 367.85 L518.44 367.77 L519.27 367.81 L520.10 367.73 L520.92 367.64 L521.75 367.45 L522.58 367.70 L523.41 367.58 L524.24 367.48 L524.24 362.79 L525.04 362.60 L525.84 362.49 L526.65 362.43 L527.45 362.73 L528.25 362.58 L529.05 362.74 L529.85 362.61 L530.66 362.47 L531.46 362.60 L532.26 362.62 L533.06 362.64 L533.87 363.00 L534.67 362.90 L535.47 362.79 L535.47 358.13 L536.30 358.07 L537.13 358.22 L537.96 357.85 L538.79 358.09 L539.61 357.84 L540.44 357.78 L541.27 357.88 L542.10 357.71 L542.93 357.54 L543.76 357.65 L544.59 357.69 L545.42 357.48 L546.25 357.78 L547.07 357.67 L547.07 352.96 L547.88 352.91 L548.68 352.95 L549.48 353.11 L550.28 352.68 L551.08 352.84 L551.89 353.01 L552.69 352.97 L553.49 352.90 L554.29 352.71 L555.10 352.85 L555.90 352.77 L556.70 352.82 L557.50 352.66 L558.30 352.77 L558.30 347.68 L559.13 347.42 L559.96 347.70 L560.79 347.60 L561.62 347.37 L562.45 347.42 L563.28 347.47 L564.11 347.39 L564.93 347.24 L565.76 347.28 L566.59 347.11 L567.42 346.98 L568.25 347.33 L569.08 347.51 L569.91 347.31 L569.91 343.14 L570.74 343.40 L571.57 343.06 L572.39 343.02 L573.22 343.27 L574.05 343.15 L574.88 343.15 L575.71 343.22 L576.54 343.34 L577.37 343.14 L578.20 343.30 L579.03 343.44 L579.85 343.14 L580.68 343.53 L581.51 343.54 L581.51 338.28 L582.31 338.58 L583.12 338.52 L583.92 338.53 L584.72 338.71 L585.52 338.19 L586.32 338.41 L587.13 338.67 L587.93 338.84 L588.73 338.70 L589.53 338.66 L590.34 338.58 L591.14 338.64 L591.94 338.60 L592.74 338.68 L592.74 333.53 L593.57 333.37 L594.40 333.43 L595.23 333.47 L596.06 333.48 L596.89 333.57 L597.71 333.58 L598.54 333.54 L599.37 333.49 L600.20 333.54 L601.03 333.53 L601.86 333.56 L602.69 333.79 L603.52 333.70 L604.35 333.59 L604.35 328.81 L605.15 328.61 L605.95 328.42 L606.75 328.94 L607.55 329.18 L608.36 329.07 L609.16 329.04 L609.96 329.19 L610.76 329.28 L611.57 329.00 L612.37 329.14 L613.17 329.20 L613.97 329.11 L614.77 329.50 L615.58 329.45 L615.58 316.09 L616.40 316.11 L617.23 316.07 L618.06 316.08 L618.89 316.12 L619.72 316.36 L620.55 316.31 L621.38 316.24 L622.21 316.21 L623.04 316.35 L623.86 316.25 L624.69 316.13 L625.52 316.32 L626.35 316.66 L627.18 316.49 L627.18 310.80 L628.01 311.02 L628.84 311.47 L629.67 311.68 L630.50 311.66 L631.32 312.26 L632.15 312.44 L632.98 312.69 L633.81 313.11 L634.64 313.62 L635.47 314.23 L636.30 314.52 L637.13 314.83 L637.96 315.53 L638.78 315.59 L638.78 309.81 L639.59 310.23 L640.40 310.65 L641.20 310.96 L642.01 311.23 L642.82 311.87 L643.62 312.04 L644.43 312.30 L645.23 313.03 L646.04 313.67 L646.85 314.13 L647.65 314.34 L648.46 314.79 L649.27 314.95 L649.27 306.66 L650.09 306.17 L650.92 306.19 L651.75 306.45 L652.58 306.09 L653.41 306.58 L654.24 306.70 L655.07 306.56 L655.90 307.09 L656.72 307.14 L657.55 307.53 L658.38 307.86 L659.21 308.36 L660.04 308.91 L660.87 309.44 L660.87 303.84 L661.67 304.02 L662.47 304.62 L663.28 304.64 L664.08 304.94 L664.88 305.23 L665.68 305.73 L666.48 306.10 L667.29 306.65 L668.09 307.03 L668.89 308.03 L669.69 308.14 L670.49 308.79 L671.30 309.28 L672.10 309.50 L672.10 304.08 L672.93 303.95 L673.76 304.10 L674.59 304.12 L675.41 303.93 L676.24 303.82 L677.07 303.80 L677.90 303.71 L678.73 303.72 L679.56 303.74 L680.39 304.16 L681.22 304.34 L682.05 304.94 L682.87 305.33 L683.70 306.00 L683.70 303.19 L684.51 303.13 L685.31 303.00 L686.11 303.04 L686.91 303.05 L687.71 302.81 L688.52 302.42 L689.32 302.44 L690.12 302.67 L690.92 302.29 L691.72 302.19 L692.53 302.46 L693.33 302.38 L694.13 302.13 L694.93 301.83 L694.93 297.05 L695.76 296.84 L696.59 296.40 L697.42 295.57 L698.25 295.22 L699.08 294.80 L699.91 294.38 L700.73 293.84 L701.56 294.10 L702.39 293.58 L703.22 293.63 L704.05 293.41 L704.88 293.12 L705.71 292.97 L706.54 292.74 L706.54 287.28 L707.37 287.60 L708.19 288.22 L709.02 288.64 L709.85 288.95 L710.68 289.21 L711.51 289.61 L712.34 290.57 L713.17 291.26 L714.00 291.73 L714.83 292.20 L715.65 292.45 L716.48 292.91 L717.31 293.43 L718.14 293.66 L718.14 288.70 L718.94 289.23 L719.75 289.59 L720.55 290.10 L721.35 290.43 L722.15 291.11 L722.95 292.25 L723.76 293.49 L724.56 294.45 L725.36 294.99 L726.16 294.82 L726.96 294.84 L727.77 294.68 L728.57 294.87 L729.37 294.60 L729.37 289.80 L730.20 289.89 L731.03 289.92 L731.86 289.49 L732.69 289.67 L733.52 289.31 L734.34 289.14 L735.17 289.05 L736.00 289.24 L736.83 288.94 L737.66 288.95 L738.49 288.53 L739.32 288.00 L740.15 287.61 L740.97 287.50 L740.97 280.11 L741.78 279.77 L742.58 279.57 L743.38 279.25 L744.18 279.02 L744.99 278.72 L745.79 278.63 L746.59 278.23 L747.39 277.88 L748.19 277.85 L749.00 277.80 L749.80 277.82 L750.60 277.66 L751.40 277.28 L752.20 277.15 L752.20 265.50 L753.03 265.85 L753.86 266.24 L754.69 266.67 L755.52 266.49 L756.35 266.87 L757.18 267.37 L758.01 267.51 L758.84 268.16 L759.66 268.33 L760.49 268.27 L761.32 268.00 L762.15 267.89 L762.98 267.75 L763.81 267.53 L763.81 262.05 L764.64 261.67 L765.47 261.78 L766.30 261.88 L767.12 261.69 L767.95 261.58 L768.78 261.65 L769.61 261.56 L770.44 261.22 L771.27 261.20 L772.10 261.07 L772.93 261.00 L773.76 260.89 L774.58 260.89 L775.41 260.71 L775.41 257.82 L776.22 257.98 L777.03 258.08 L777.83 258.15 L778.64 258.40 L779.44 258.61 L780.25 258.94 L781.06 259.29 L781.86 259.04 L782.67 259.05 L783.48 259.40 L784.28 259.40 L785.09 259.57 L785.89 259.65 L785.89 252.81 L786.72 252.51 L787.55 252.70 L788.38 252.44 L789.21 252.45 L790.04 252.51 L790.87 252.20 L791.70 252.14 L792.52 252.39 L793.35 251.90 L794.18 251.90 L795.01 251.53 L795.84 251.68 L796.67 251.60 L797.50 251.50 L797.50 246.48 L798.30 246.57 L799.10 246.51 L799.90 246.16 L800.71 246.27 L801.51 246.00 L802.31 245.87 L803.11 245.94 L803.92 245.83 L804.72 245.83 L805.52 245.85 L806.32 245.55 L807.12 245.56 L807.93 245.47 L808.73 245.24 L808.73 241.96 L809.56 242.03 L810.39 241.63 L811.21 241.59 L812.04 241.71 L812.87 241.68 L813.70 241.43 L814.53 241.30 L815.36 241.19 L816.19 240.95 L817.02 241.01 L817.85 241.27 L818.67 240.78 L819.50 240.76 L820.33 240.66 L820.33 235.15 L821.13 234.81 L821.94 234.94 L822.74 234.85 L823.54 234.55 L824.34 234.45 L825.14 234.50 L825.95 234.91 L826.75 234.94 L827.55 235.18 L828.35 235.35 L829.16 235.36 L829.96 235.45 L830.76 235.56 L831.56 235.78 L831.56 229.54 L832.39 229.61 L833.22 229.27 L834.05 229.14 L834.88 229.20 L835.71 229.02 L836.54 228.72 L837.36 228.54 L838.19 228.71 L839.02 228.76 L839.85 228.68 L840.68 228.74 L841.51 228.25 L842.34 227.99 L843.17 228.17 L843.17 224.98 L843.99 224.73 L844.82 224.70 L845.65 224.61 L846.48 224.38 L847.31 224.15 L848.14 224.07 L848.97 223.98 L849.80 223.99 L850.63 223.75 L851.45 223.49 L852.28 223.29 L853.11 223.23 L853.94 223.26 L854.77 223.07 L854.77 218.67 L855.57 219.09 L856.37 219.44 L857.18 220.05 L857.98 220.25 L858.78 220.57 L859.58 221.12 L860.38 220.94 L861.19 221.12 L861.99 221.55 L862.79 221.54 L863.59 221.53 L864.40 221.31 L865.20 220.90 L866.00 220.63 L866.00 215.59 L866.83 215.42 L867.66 215.17 L868.49 214.95 L869.32 215.08 L870.14 214.89 L870.97 214.80 L871.80 214.64 L872.63 214.40 L873.46 214.27 L874.29 214.11 L875.12 214.05 L875.95 213.85 L876.78 213.88 L877.60 213.66 L877.60 208.10 L878.41 207.66 L879.21 207.29 L880.01 206.33 L880.81 206.25 L881.61 205.88 L882.42 205.34 L883.22 204.87 L884.02 204.17 L884.82 203.31 L885.63 203.22 L886.43 202.27 L887.23 201.58 L888.03 200.65 L888.83 200.16 L888.83 184.78 L889.66 184.70 L890.48 184.64 L891.31 184.73 L892.13 184.81 L892.95 184.95 L893.78 184.79 L894.60 184.65" stroke="#fbbc04"/>
<path d="M250.61 498.62 L251.41 498.69 L252.21 498.54 L253.01 498.45 L253.82 498.54 L254.62 498.63 L255.42 498.60 L256.22 498.50 L257.02 498.53 L257.83 498.67 L258.63 498.53 L259.43 498.65 L260.23 498.65 L261.04 498.65 L261.84 498.62 L261.84 493.90 L262.67 493.82 L263.50 493.89 L264.32 493.72 L265.15 493.62 L265.98 493.48 L266.81 493.45 L267.64 493.48 L268.47 493.48 L269.30 493.40 L270.13 493.45 L270.95 493.37 L271.78 493.25 L272.61 493.30 L273.44 493.02 L273.44 487.77 L274.24 487.71 L275.05 487.31 L275.85 487.19 L276.65 487.32 L277.45 487.28 L278.25 487.08 L279.06 487.06 L279.86 487.20 L280.66 487.25 L281.46 487.31 L282.26 486.97 L283.07 487.05 L283.87 487.16 L284.67 486.94 L284.67 482.31 L285.50 482.28 L286.33 482.29 L287.16 482.35 L287.99 482.28 L288.82 482.35 L289.64 482.45 L290.47 482.46 L291.30 482.40 L292.13 482.41 L292.96 482.50 L293.79 482.29 L294.62 482.56 L295.45 482.44 L296.28 482.66 L296.28 477.03 L297.10 476.91 L297.93 476.75 L298.76 476.63 L299.59 476.42 L300.42 476.42 L301.25 476.61 L302.08 475.97 L302.91 476.09 L303.74 475.99 L304.56 475.76 L305.39 475.43 L306.22 475.76 L307.05 475.53 L307.88 475.37 L307.88 471.10 L308.68 470.87 L309.48 471.07 L310.29 471.01 L311.09 470.74 L311.89 470.60 L312.69 470.65 L313.49 470.34 L314.30 470.17 L315.10 470.19 L315.90 470.33 L316.70 470.29 L317.51 470.10 L318.31 470.18 L319.11 469.82 L319.11 464.78 L319.94 465.13 L320.77 464.70 L321.60 464.69 L322.42 464.63 L323.25 464.48 L324.08 464.40 L324.91 464.40 L325.74 464.33 L326.57 464.04 L327.40 464.00 L328.23 464.19 L329.06 464.08 L329.88 463.78 L330.71 463.70 L330.71 459.15 L331.52 458.87 L332.32 458.93 L333.12 459.32 L333.92 459.02 L334.72 458.65 L335.53 458.84 L336.33 458.77 L337.13 458.99 L337.93 459.13 L338.73 458.87 L339.54 458.84 L340.34 458.62 L341.14 458.91 L341.94 458.68 L341.94 444.79 L342.77 445.15 L343.60 444.63 L344.43 444.59 L345.26 444.49 L346.09 444.50 L346.92 444.45 L347.75 444.57 L348.57 444.37 L349.40 444.28 L350.23 443.86 L351.06 443.96 L351.89 443.62 L352.72 443.92 L353.55 443.71 L353.55 439.26 L354.38 439.14 L355.21 439.17 L356.03 439.12 L356.86 439.17 L357.69 439.05 L358.52 438.89 L359.35 438.85 L360.18 438.60 L361.01 438.42 L361.84 438.22 L362.66 438.04 L363.49 439.23 L364.32 438.62 L365.15 438.56 L365.15 433.37 L365.99 433.55 L366.82 433.44 L367.66 433.92 L368.49 435.54 L369.33 437.01 L370.16 438.82 L371.00 439.65 L371.83 441.02 L372.67 442.55 L373.50 445.31 L374.34 448.13 L375.17 449.96 L376.01 450.57 L376.01 449.18 L376.84 449.73 L377.66 451.12 L378.49 452.09 L379.32 453.26 L380.15 451.62 L380.98 450.21 L381.81 449.25 L382.64 448.16 L383.47 447.26 L384.30 445.80 L385.12 445.65 L385.95 444.39 L386.78 444.13 L387.61 443.89 L387.61 440.36 L388.41 440.36 L389.22 440.69 L390.02 440.17 L390.82 439.94 L391.62 440.13 L392.42 439.86 L393.23 440.64 L394.03 439.91 L394.83 440.31 L395.63 439.33 L396.43 439.06 L397.24 439.53 L398.04 438.87 L398.84 439.48 L398.84 432.43 L399.67 432.24 L400.50 432.56 L401.33 431.63 L402.16 431.06 L402.99 429.98 L403.81 429.70 L404.64 430.07 L405.47 429.36 L406.30 430.49 L407.13 431.17 L407.96 431.38 L408.79 430.83 L409.62 430.99 L410.44 431.29 L410.44 426.21 L411.25 426.59 L412.05 426.21 L412.85 426.17 L413.65 426.20 L414.46 426.39 L415.26 425.80 L416.06 425.56 L416.86 426.13 L417.66 426.20 L418.47 426.20 L419.27 426.01 L420.07 426.20 L420.87 426.14 L421.67 425.76 L421.67 421.29 L422.50 421.86 L423.33 421.47 L424.16 421.47 L424.99 421.30 L425.82 421.06 L426.65 421.18 L427.48 421.15 L428.31 421.42 L429.13 421.66 L429.96 421.45 L430.79 420.70 L431.62 420.77 L432.45 420.49 L433.28 420.44 L433.28 415.57 L434.11 415.11 L434.94 415.60 L435.77 414.72 L436.59 415.13 L437.42 414.84 L438.25 415.34 L439.08 415.26 L439.91 414.86 L440.74 415.32 L441.57 415.78 L442.40 416.00 L443.23 416.19 L444.05 415.59 L444.88 415.77 L444.88 410.83 L445.69 410.71 L446.49 410.06 L447.29 410.30 L448.09 409.86 L448.89 410.26 L449.70 409.63 L450.50 410.77 L451.30 410.72 L452.10 410.95 L452.90 410.83 L453.71 410.34 L454.51 410.25 L455.31 410.06 L456.11 409.60 L456.11 404.90 L456.94 405.18 L457.77 406.26 L458.60 406.03 L459.43 406.87 L460.26 407.16 L461.09 408.07 L461.91 408.05 L462.74 406.93 L463.57 406.20 L464.40 406.65 L465.23 406.34 L466.06 405.51 L466.89 405.24 L467.72 404.75 L467.72 398.18 L468.52 397.92 L469.32 398.04 L470.12 398.45 L470.93 398.42 L471.73 398.25 L472.53 397.67 L473.33 397.70 L474.13 397.15 L474.94 396.96 L475.74 397.02 L476.54 396.51 L477.34 396.79 L478.14 396.09 L478.95 396.82 L478.95 379.85 L479.79 379.87 L480.63 379.24 L481.47 378.95 L482.31 378.87 L483.15 378.12 L483.99 378.40 L484.83 378.17 L485.67 378.91 L486.51 379.34 L487.35 379.46 L488.19 377.98 L489.03 377.37 L489.87 378.52 L490.71 378.50 L491.55 378.03 L491.55 372.79 L492.37 373.22 L493.18 374.36 L494.00 374.30 L494.81 374.35 L495.63 373.68 L496.44 373.86 L497.26 374.38 L498.08 374.05 L498.89 373.99 L499.71 373.29 L500.52 373.39 L501.34 372.65 L502.15 372.56 L502.15 367.66 L502.96 368.64 L503.77 367.87 L504.57 367.71 L505.38 367.69 L506.19 367.76 L506.99 367.94 L507.80 368.31 L508.60 367.91 L509.41 367.40 L510.22 367.26 L511.02 365.89 L511.83 366.05 L512.64 366.37 L512.64 358.54 L513.46 358.11 L514.29 358.36 L515.12 358.75 L515.95 358.15 L516.78 357.45 L517.61 358.45 L518.44 356.73 L519.27 356.57 L520.10 356.37 L520.92 355.26 L521.75 356.55 L522.58 357.09 L523.41 355.41 L524.24 355.70 L524.24 350.03 L525.04 350.41 L525.84 350.16 L526.65 350.49 L527.45 350.57 L528.25 350.30 L529.05 350.33 L529.85 351.05 L530.66 350.63 L531.46 350.71 L532.26 350.37 L533.06 350.62 L533.87 351.15 L534.67 350.53 L535.47 350.07 L535.47 345.38 L536.30 345.64 L537.13 344.75 L537.96 344.92 L538.79 345.88 L539.61 344.86 L540.44 345.15 L541.27 344.18 L542.10 343.62 L542.93 343.61 L543.76 342.70 L544.59 341.41 L545.42 342.03 L546.25 341.74 L547.07 342.18 L547.07 336.90 L547.88 337.24 L548.68 335.97 L549.48 336.51 L550.28 335.53 L551.08 334.95 L551.89 336.96 L552.69 336.04 L553.49 335.03 L554.29 335.75 L555.10 335.92 L555.90 336.29 L556.70 336.06 L557.50 335.94 L558.30 336.12 L558.30 331.72 L559.13 331.14 L559.96 331.37 L560.79 330.84 L561.62 331.38 L562.45 330.90 L563.28 330.49 L564.11 330.08 L564.93 330.28 L565.76 330.38 L566.59 329.56 L567.42 328.10 L568.25 328.97 L569.08 328.30 L569.91 328.46 L569.91 324.13 L570.74 324.23 L571.57 323.91 L572.39 323.45 L573.22 322.95 L574.05 323.34 L574.88 323.53 L575.71 322.60 L576.54 321.79 L577.37 323.19 L578.20 325.06 L579.03 324.47 L579.85 324.84 L580.68 324.85 L581.51 325.34 L581.51 320.65 L582.31 319.68 L583.12 320.12 L583.92 319.66 L584.72 320.11 L585.52 320.68 L586.32 320.05 L587.13 319.49 L587.93 319.88 L588.73 319.16 L589.53 317.96 L590.34 319.09 L591.14 318.38 L591.94 318.38 L592.74 318.46 L592.74 312.78 L593.57 312.87 L594.40 313.31 L595.23 312.03 L596.06 311.10 L596.89 310.96 L597.71 311.48 L598.54 311.64 L599.37 311.07 L600.20 312.69 L601.03 312.17 L601.86 311.37 L602.69 310.29 L603.52 310.27 L604.35 310.26 L604.35 304.44 L605.15 306.78 L605.95 306.82 L606.75 306.12 L607.55 305.46 L608.36 304.67 L609.16 307.25 L609.96 307.46 L610.76 309.06 L611.57 308.44 L612.37 306.56 L613.17 306.61 L613.97 306.12 L614.77 305.73 L615.58 305.77 L615.58 291.52 L616.40 290.75 L617.23 290.85 L618.06 290.25 L618.89 289.10 L619.72 288.28 L620.55 287.45 L621.38 286.69 L622.21 286.30 L623.04 286.39 L623.86 285.86 L624.69 284.32 L625.52 285.10 L626.35 284.47 L627.18 285.12 L627.18 280.75 L628.01 282.77 L628.84 281.15 L629.67 281.79 L630.50 284.86 L631.32 284.75 L632.15 283.56 L632.98 282.79 L633.81 283.51 L634.64 283.68 L635.47 284.95 L636.30 285.64 L637.13 286.52 L637.96 286.26 L638.78 286.38 L638.78 282.34 L639.59 284.14 L640.40 283.20 L641.20 283.79 L642.01 287.42 L642.82 288.04 L643.62 289.60 L644.43 291.60 L645.23 293.21 L646.04 293.69 L646.85 295.38 L647.65 295.63 L648.46 295.97 L649.27 296.03 L649.27 290.09 L650.09 285.85 L650.92 282.60 L651.75 281.71 L652.58 282.04 L653.41 280.59 L654.24 279.41 L655.07 278.93 L655.90 278.72 L656.72 279.39 L657.55 279.35 L658.38 280.08 L659.21 280.67 L660.04 279.87 L660.87 280.31 L660.87 276.37 L661.67 276.23 L662.47 278.17 L663.28 277.39 L664.08 276.50 L664.88 276.48 L665.68 276.91 L666.48 279.83 L667.29 277.57 L668.09 277.07 L668.89 278.80 L669.69 280.85 L670.49 283.92 L671.30 284.34 L672.10 282.93 L672.10 277.09 L672.93 277.94 L673.76 276.35 L674.59 276.61 L675.41 276.41 L676.24 275.81 L677.07 275.24 L677.90 274.81 L678.73 275.44 L679.56 275.19 L680.39 276.33 L681.22 276.74 L682.05 275.30 L682.87 276.40 L683.70 276.36 L683.70 278.87 L684.51 278.46 L685.31 279.23 L686.11 279.11 L686.91 279.01 L687.71 278.62 L688.52 276.62 L689.32 276.65 L690.12 277.29 L690.92 277.10 L691.72 276.68 L692.53 276.50 L693.33 276.63 L694.13 275.90 L694.93 276.49 L694.93 270.89 L695.76 270.61 L696.59 269.28 L697.42 268.02 L698.25 267.27 L699.08 267.59 L699.91 265.64 L700.73 265.13 L701.56 265.09 L702.39 265.37 L703.22 264.72 L704.05 263.54 L704.88 263.07 L705.71 262.35 L706.54 263.05 L706.54 255.48 L707.37 256.09 L708.19 255.97 L709.02 255.70 L709.85 256.46 L710.68 258.66 L711.51 260.35 L712.34 261.76 L713.17 263.50 L714.00 264.12 L714.83 262.91 L715.65 262.45 L716.48 259.96 L717.31 260.68 L718.14 260.34 L718.14 256.75 L718.94 257.20 L719.75 258.54 L720.55 259.09 L721.35 260.80 L722.15 262.28 L722.95 265.89 L723.76 267.56 L724.56 269.94 L725.36 270.07 L726.16 269.90 L726.96 269.16 L727.77 268.56 L728.57 269.12 L729.37 268.76 L729.37 263.40 L730.20 262.66 L731.03 264.38 L731.86 263.82 L732.69 262.75 L733.52 262.13 L734.34 261.94 L735.17 262.26 L736.00 263.97 L736.83 264.14 L737.66 262.52 L738.49 260.06 L739.32 259.35 L740.15 259.57 L740.97 259.39 L740.97 249.67 L741.78 249.31 L742.58 249.60 L743.38 249.56 L744.18 248.73 L744.99 247.60 L745.79 246.84 L746.59 245.51 L747.39 244.09 L748.19 244.35 L749.00 245.54 L749.80 244.84 L750.60 244.64 L751.40 244.11 L752.20 244.99 L752.20 231.86 L753.03 232.51 L753.86 234.01 L754.69 233.86 L755.52 234.68 L756.35 234.09 L757.18 234.61 L758.01 234.04 L758.84 234.89 L759.66 234.77 L760.49 232.41 L761.32 231.19 L762.15 229.61 L762.98 227.37 L763.81 225.83 L763.81 222.58 L764.64 221.73 L765.47 221.84 L766.30 221.39 L767.12 220.24 L767.95 220.33 L768.78 219.72 L769.61 219.10 L770.44 218.63 L771.27 218.32 L772.10 218.34 L772.93 217.21 L773.76 215.65 L774.58 216.80 L775.41 216.63 L775.41 214.31 L776.22 214.13 L777.03 214.16 L777.83 213.36 L778.64 213.73 L779.44 213.32 L780.25 212.96 L781.06 212.97 L781.86 212.81 L782.67 213.98 L783.48 213.39 L784.28 213.55 L785.09 213.51 L785.89 213.77 L785.89 210.02 L786.72 209.69 L787.55 209.57 L788.38 209.44 L789.21 209.28 L790.04 209.48 L790.87 208.86 L791.70 208.50 L792.52 208.51 L793.35 208.06 L794.18 208.03 L795.01 207.96 L795.84 206.46 L796.67 206.89 L797.50 206.82 L797.50 200.36 L798.30 199.66 L799.10 199.49 L799.90 200.51 L800.71 200.88 L801.51 200.44 L802.31 200.16 L803.11 199.53 L803.92 200.76 L804.72 200.86 L805.52 200.25 L806.32 199.48 L807.12 199.47 L807.93 199.17 L808.73 199.20 L808.73 191.48 L809.56 191.28 L810.39 191.65 L811.21 192.45 L812.04 192.23 L812.87 192.37 L813.70 191.89 L814.53 191.73 L815.36 191.51 L816.19 191.54 L817.02 190.57 L817.85 189.24 L818.67 188.50 L819.50 189.53 L820.33 188.19 L820.33 182.22 L821.13 182.32 L821.94 181.45 L822.74 181.04 L823.54 181.19 L824.34 180.49 L825.14 179.53 L825.95 179.13 L826.75 178.88 L827.55 178.87 L828.35 178.73 L829.16 178.18 L829.96 178.07 L830.76 178.08 L831.56 177.90 L831.56 169.54 L832.39 169.41 L833.22 167.55 L834.05 167.45 L834.88 167.63 L835.71 166.97 L836.54 165.67 L837.36 165.25 L838.19 166.46 L839.02 166.20 L839.85 165.69 L840.68 165.51 L841.51 165.19 L842.34 165.31 L843.17 165.00 L843.17 160.50 L843.99 161.20 L844.82 162.05 L845.65 161.96 L846.48 160.22 L847.31 160.01 L848.14 159.67 L848.97 159.17 L849.80 158.50 L850.63 158.25 L851.45 158.33 L852.28 157.43 L853.11 157.23 L853.94 157.23 L854.77 156.73 L854.77 150.07 L855.57 151.16 L856.37 153.17 L857.18 154.15 L857.98 155.09 L858.78 155.71 L859.58 155.16 L860.38 156.14 L861.19 156.60 L861.99 156.88 L862.79 157.60 L863.59 158.96 L864.40 158.84 L865.20 158.72 L866.00 158.52 L866.00 153.03 L866.83 153.83 L867.66 154.13 L868.49 155.54 L869.32 154.98 L870.14 155.95 L870.97 155.72 L871.80 155.36 L872.63 154.75 L873.46 154.63 L874.29 154.13 L875.12 152.99 L875.95 152.06 L876.78 151.08 L877.60 151.18 L877.60 143.09 L878.41 143.78 L879.21 145.19 L880.01 143.29 L880.81 142.14 L881.61 141.71 L882.42 140.66 L883.22 140.05 L884.02 138.63 L884.82 138.37 L885.63 136.87 L886.43 135.93 L887.23 135.16 L888.03 133.03 L888.83 132.42 L888.83 118.73 L889.66 119.01 L890.48 117.96 L891.31 118.13 L892.13 118.05 L892.95 118.67 L893.78 119.17 L894.60 118.31" stroke="#34a853"/>
<path d="M148.04 545.45 L148.87 545.47 L149.70 545.49 L150.53 545.49 L151.36 545.53 L152.19 545.56 L153.02 545.63 L153.84 545.57 L154.67 545.73 L155.50 545.53 L156.33 545.63 L157.16 545.71 L157.99 545.71 L158.82 545.69 L159.65 545.75 L159.65 540.82 L160.48 540.90 L161.30 540.81 L162.13 540.87 L162.96 540.86 L163.79 540.96 L164.62 540.93 L165.45 540.96 L166.28 541.03 L167.11 541.01 L167.94 541.04 L168.76 541.01 L169.59 541.04 L170.42 540.98 L171.25 541.09 L171.25 535.76 L172.05 535.76 L172.85 535.94 L173.66 535.82 L174.46 535.81 L175.26 535.95 L176.06 536.04 L176.87 536.08 L177.67 536.17 L178.47 536.27 L179.27 536.22 L180.07 536.18 L180.88 536.25 L181.68 536.37 L182.48 536.38 L182.48 531.24 L183.31 531.30 L184.14 531.36 L184.97 531.33 L185.80 531.45 L186.62 531.48 L187.45 531.55 L188.28 531.60 L189.11 531.68 L189.94 531.79 L190.77 531.81 L191.60 531.87 L192.43 531.96 L193.26 532.01 L194.08 532.03 L194.08 526.21 L194.89 526.28 L195.69 526.36 L196.49 526.48 L197.29 526.64 L198.10 526.64 L198.90 526.73 L199.70 526.84 L200.50 526.90 L201.30 527.02 L202.11 527.18 L202.91 527.15 L203.71 527.29 L204.51 527.36 L205.31 527.52 L205.31 520.50 L206.14 520.57 L206.97 520.57 L207.80 520.56 L208.63 520.64 L209.46 520.70 L210.29 520.74 L211.12 520.86 L211.95 520.89 L212.77 520.84 L213.60 520.88 L214.43 520.95 L215.26 520.94 L216.09 521.01 L216.92 521.07 L216.92 515.46 L217.75 515.51 L218.58 515.52 L219.40 515.64 L220.23 515.62 L221.06 515.70 L221.89 515.68 L222.72 515.70 L223.55 515.75 L224.38 515.81 L225.21 515.92 L226.04 515.87 L226.86 516.03 L227.69 515.98 L228.52 516.08 L228.52 509.66 L229.33 509.62 L230.13 509.65 L230.94 509.59 L231.75 509.58 L232.55 509.57 L233.36 509.69 L234.17 509.54 L234.97 509.61 L235.78 509.53 L236.58 509.46 L237.39 509.44 L238.20 509.51 L239.00 509.45 L239.00 503.54 L239.83 503.57 L240.66 503.58 L241.49 503.62 L242.32 503.54 L243.15 503.64 L243.98 503.67 L244.81 503.59 L245.63 503.58 L246.46 503.62 L247.29 503.61 L248.12 503.66 L248.95 503.67 L249.78 503.65 L250.61 503.63 L250.61 498.66 L251.41 498.67 L252.21 498.63 L253.01 498.72 L253.82 498.79 L254.62 498.73 L255.42 498.75 L256.22 498.77 L257.02 498.76 L257.83 498.66 L258.63 498.64 L259.43 498.65 L260.23 498.68 L261.04 498.65 L261.84 498.70 L261.84 494.22 L262.67 494.13 L263.50 494.07 L264.32 493.95 L265.15 493.91 L265.98 493.91 L266.81 493.88 L267.64 493.78 L268.47 493.66 L269.30 493.70 L270.13 493.38 L270.95 493.37 L271.78 493.29 L272.61 493.31 L273.44 493.31 L273.44 488.74 L274.24 489.08 L275.05 489.00 L275.85 488.80 L276.65 488.55 L277.45 488.30 L278.25 488.49 L279.06 488.49 L279.86 488.41 L280.66 488.45 L281.46 488.33 L282.26 488.03 L283.07 487.84 L283.87 487.91 L284.67 487.99 L284.67 482.51 L285.50 482.58 L286.33 482.56 L287.16 482.50 L287.99 482.66 L288.82 482.76 L289.64 482.67 L290.47 482.62 L291.30 482.68 L292.13 482.66 L292.96 482.82 L293.79 482.73 L294.62 482.90 L295.45 482.85 L296.28 483.00 L296.28 478.08 L297.10 477.85 L297.93 477.77 L298.76 477.94 L299.59 477.76 L300.42 477.54 L301.25 477.44 L302.08 477.24 L302.91 476.97 L303.74 476.67 L304.56 476.71 L305.39 476.66 L306.22 476.78 L307.05 476.65 L307.88 476.45 L307.88 472.89 L308.68 472.63 L309.48 472.74 L310.29 472.45 L311.09 472.49 L311.89 472.35 L312.69 472.15 L313.49 472.19 L314.30 471.98 L315.10 471.58 L315.90 471.69 L316.70 471.50 L317.51 471.42 L318.31 471.39 L319.11 471.32 L319.11 467.51 L319.94 467.29 L320.77 467.18 L321.60 467.03 L322.42 467.02 L323.25 466.91 L324.08 466.98 L324.91 466.77 L325.74 466.83 L326.57 466.88 L327.40 466.69 L328.23 466.49 L329.06 466.51 L329.88 466.23 L330.71 466.19 L330.71 462.54 L331.52 462.56 L332.32 462.42 L333.12 462.33 L333.92 462.24 L334.72 462.41 L335.53 462.50 L336.33 462.45 L337.13 462.24 L337.93 462.17 L338.73 461.98 L339.54 461.86 L340.34 461.99 L341.14 462.01 L341.94 461.86 L341.94 448.44 L342.77 448.39 L343.60 448.18 L344.43 448.34 L345.26 448.36 L346.09 448.05 L346.92 447.99 L347.75 448.07 L348.57 448.06 L349.40 447.89 L350.23 447.77 L351.06 447.67 L351.89 447.68 L352.72 447.64 L353.55 447.50 L353.55 443.58 L354.38 443.51 L355.21 443.46 L356.03 443.39 L356.86 443.24 L357.69 443.32 L358.52 443.40 L359.35 443.32 L360.18 443.39 L361.01 443.29 L361.84 443.27 L362.66 443.25 L363.49 442.88 L364.32 443.04 L365.15 443.03 L365.15 437.27 L365.99 437.09 L366.82 437.18 L367.66 437.33 L368.49 437.54 L369.33 438.01 L370.16 438.74 L371.00 439.30 L371.83 440.02 L372.67 440.37 L373.50 440.76 L374.34 441.04 L375.17 441.37 L376.01 441.52 L376.01 439.26 L376.84 439.21 L377.66 439.15 L378.49 439.15 L379.32 439.08 L380.15 439.27 L380.98 439.29 L381.81 439.15 L382.64 439.34 L383.47 439.19 L384.30 439.27 L385.12 438.99 L385.95 438.94 L386.78 438.90 L387.61 439.05 L387.61 434.45 L388.41 434.40 L389.22 434.42 L390.02 434.38 L390.82 434.37 L391.62 434.27 L392.42 434.45 L393.23 434.45 L394.03 434.32 L394.83 434.40 L395.63 434.49 L396.43 434.45 L397.24 434.37 L398.04 434.45 L398.84 434.43 L398.84 428.07 L399.67 427.91 L400.50 427.82 L401.33 427.68 L402.16 427.51 L402.99 427.44 L403.81 427.18 L404.64 427.09 L405.47 426.92 L406.30 426.98 L407.13 426.85 L407.96 426.68 L408.79 426.60 L409.62 426.62 L410.44 426.48 L410.44 421.90 L411.25 422.06 L412.05 421.85 L412.85 421.87 L413.65 421.61 L414.46 421.55 L415.26 421.54 L416.06 421.51 L416.86 421.36 L417.66 421.53 L418.47 421.25 L419.27 421.15 L420.07 421.35 L420.87 421.15 L421.67 420.95 L421.67 416.90 L422.50 416.89 L423.33 416.94 L424.16 416.98 L424.99 416.74 L425.82 416.73 L426.65 416.57 L427.48 416.36 L428.31 416.25 L429.13 416.16 L429.96 416.02 L430.79 416.28 L431.62 416.07 L432.45 415.89 L433.28 415.98 L433.28 412.15 L434.11 412.24 L434.94 412.40 L435.77 412.28 L436.59 412.17 L437.42 412.09 L438.25 412.15 L439.08 412.21 L439.91 412.23 L440.74 412.07 L441.57 412.08 L442.40 411.88 L443.23 411.99 L444.05 412.10 L444.88 412.04 L444.88 407.48 L445.69 407.27 L446.49 407.58 L447.29 407.44 L448.09 407.34 L448.89 407.35 L449.70 407.26 L450.50 407.30 L451.30 407.29 L452.10 407.12 L452.90 406.96 L453.71 406.98 L454.51 406.65 L455.31 406.98 L456.11 406.97 L456.11 401.85 L456.94 402.11 L457.77 402.42 L458.60 402.56 L459.43 402.70 L460.26 402.80 L461.09 403.08 L461.91 403.34 L462.74 402.97 L463.57 402.81 L464.40 402.63 L465.23 402.31 L466.06 402.29 L466.89 401.86 L467.72 401.52 L467.72 396.63 L468.52 396.80 L469.32 396.56 L470.12 396.48 L470.93 396.37 L471.73 396.35 L472.53 396.27 L473.33 396.08 L474.13 396.00 L474.94 396.18 L475.74 396.34 L476.54 396.20 L477.34 395.99 L478.14 395.86 L478.95 396.03 L478.95 383.07 L479.79 383.11 L480.63 382.88 L481.47 382.65 L482.31 382.74 L483.15 382.51 L483.99 382.24 L484.83 381.90 L485.67 381.96 L486.51 381.98 L487.35 381.82 L488.19 382.05 L489.03 381.71 L489.87 381.84 L490.71 381.67 L491.55 381.50 L491.55 377.83 L492.37 377.58 L493.18 377.81 L494.00 377.56 L494.81 377.44 L495.63 377.50 L496.44 377.43 L497.26 377.20 L498.08 377.33 L498.89 377.05 L499.71 377.06 L500.52 376.90 L501.34 376.90 L502.15 376.92 L502.15 373.10 L502.96 372.91 L503.77 373.13 L504.57 373.10 L505.38 372.86 L506.19 372.80 L506.99 372.75 L507.80 373.17 L508.60 372.94 L509.41 373.03 L510.22 372.91 L511.02 372.86 L511.83 372.73 L512.64 372.52 L512.64 367.46 L513.46 367.46 L514.29 367.31 L515.12 367.59 L515.95 367.44 L516.78 367.34 L517.61 366.95 L518.44 367.28 L519.27 367.38 L520.10 367.02 L520.92 366.88 L521.75 367.16 L522.58 366.88 L523.41 367.00 L524.24 366.98 L524.24 362.35 L525.04 362.34 L525.84 362.38 L526.65 362.28 L527.45 361.99 L528.25 362.16 L529.05 362.44 L529.85 362.31 L530.66 362.33 L531.46 362.29 L532.26 362.38 L533.06 362.40 L533.87 362.49 L534.67 362.20 L535.47 362.20 L535.47 357.61 L536.30 357.50 L537.13 357.51 L537.96 357.72 L538.79 357.47 L539.61 357.71 L540.44 357.51 L541.27 357.12 L542.10 357.26 L542.93 357.32 L543.76 357.32 L544.59 357.25 L545.42 357.60 L546.25 357.56 L547.07 357.27 L547.07 352.50 L547.88 352.47 L548.68 352.52 L549.48 352.70 L550.28 352.30 L551.08 352.57 L551.89 352.64 L552.69 352.54 L553.49 352.50 L554.29 352.32 L555.10 352.31 L555.90 352.51 L556.70 352.48 L557.50 352.55 L558.30 352.36 L558.30 347.20 L559.13 347.31 L559.96 347.44 L560.79 347.47 L561.62 347.28 L562.45 346.87 L563.28 347.06 L564.11 346.71 L564.93 347.09 L565.76 346.83 L566.59 346.66 L567.42 346.91 L568.25 346.89 L569.08 346.80 L569.91 346.77 L569.91 342.51 L570.74 342.64 L571.57 342.68 L572.39 342.73 L573.22 342.77 L574.05 342.80 L574.88 342.48 L575.71 342.60 L576.54 342.75 L577.37 342.67 L578.20 342.92 L579.03 342.85 L579.85 342.75 L580.68 342.98 L581.51 342.96 L581.51 337.76 L582.31 337.73 L583.12 337.75 L583.92 337.89 L584.72 338.07 L585.52 337.92 L586.32 338.03 L587.13 338.00 L587.93 338.04 L588.73 337.96 L589.53 338.17 L590.34 338.13 L591.14 338.16 L591.94 338.15 L592.74 338.25 L592.74 333.10 L593.57 333.07 L594.40 332.88 L595.23 333.17 L596.06 333.37 L596.89 333.09 L597.71 333.21 L598.54 333.04 L599.37 333.09 L600.20 333.21 L601.03 332.99 L601.86 332.90 L602.69 332.94 L603.52 333.09 L604.35 333.13 L604.35 328.38 L605.15 328.43 L605.95 328.74 L606.75 328.64 L607.55 328.37 L608.36 328.57 L609.16 328.42 L609.96 328.47 L610.76 328.52 L611.57 328.82 L612.37 329.09 L613.17 329.10 L613.97 329.09 L614.77 328.86 L615.58 328.96 L615.58 315.68 L616.40 315.57 L617.23 315.93 L618.06 315.82 L618.89 315.77 L619.72 315.88 L620.55 316.10 L621.38 315.89 L622.21 316.01 L623.04 316.16 L623.86 315.98 L624.69 316.15 L625.52 316.05 L626.35 315.96 L627.18 316.01 L627.18 311.22 L628.01 311.67 L628.84 312.02 L629.67 312.19 L630.50 312.31 L631.32 312.50 L632.15 312.76 L632.98 312.93 L633.81 313.60 L634.64 314.28 L635.47 314.42 L636.30 314.93 L637.13 315.36 L637.96 315.77 L638.78 315.85 L638.78 310.62 L639.59 311.01 L640.40 311.50 L641.20 311.77 L642.01 312.35 L642.82 312.66 L643.62 313.10 L644.43 313.48 L645.23 314.14 L646.04 314.51 L646.85 314.89 L647.65 315.10 L648.46 315.98 L649.27 315.96 L649.27 308.01 L650.09 307.76 L650.92 307.65 L651.75 307.52 L652.58 307.33 L653.41 307.58 L654.24 307.82 L655.07 308.19 L655.90 308.43 L656.72 308.36 L657.55 308.79 L658.38 309.09 L659.21 309.84 L660.04 310.38 L660.87 310.76 L660.87 305.09 L661.67 305.35 L662.47 305.81 L663.28 305.92 L664.08 306.27 L664.88 306.21 L665.68 306.54 L666.48 307.20 L667.29 307.72 L668.09 308.18 L668.89 308.94 L669.69 309.44 L670.49 310.04 L671.30 310.54 L672.10 310.75 L672.10 305.03 L672.93 304.67 L673.76 304.91 L674.59 305.09 L675.41 304.95 L676.24 304.92 L677.07 304.77 L677.90 304.86 L678.73 304.78 L679.56 304.54 L680.39 305.26 L681.22 305.52 L682.05 305.77 L682.87 306.60 L683.70 307.01 L683.70 303.71 L684.51 303.41 L685.31 303.49 L686.11 303.38 L686.91 303.27 L687.71 303.41 L688.52 303.19 L689.32 303.18 L690.12 302.88 L690.92 302.80 L691.72 302.61 L692.53 302.67 L693.33 302.65 L694.13 302.52 L694.93 302.31 L694.93 297.34 L695.76 296.83 L696.59 296.72 L697.42 296.16 L698.25 295.73 L699.08 295.45 L699.91 294.77 L700.73 294.24 L701.56 294.11 L702.39 294.05 L703.22 293.99 L704.05 293.71 L704.88 293.35 L705.71 293.21 L706.54 293.02 L706.54 287.07 L707.37 287.30 L708.19 287.81 L709.02 288.19 L709.85 288.65 L710.68 289.10 L711.51 289.77 L712.34 290.23 L713.17 290.76 L714.00 291.64 L714.83 291.80 L715.65 292.46 L716.48 292.72 L717.31 292.93 L718.14 293.35 L718.14 287.40 L718.94 287.87 L719.75 288.27 L720.55 288.93 L721.35 289.16 L722.15 290.11 L722.95 291.09 L723.76 292.34 L724.56 293.48 L725.36 293.88 L726.16 293.58 L726.96 293.46 L727.77 293.26 L728.57 293.35 L729.37 293.27 L729.37 288.59 L730.20 288.32 L731.03 288.38 L731.86 288.62 L732.69 288.34 L733.52 288.23 L734.34 287.99 L735.17 287.86 L736.00 287.87 L736.83 287.63 L737.66 287.48 L738.49 287.24 L739.32 286.44 L740.15 286.24 L740.97 286.11 L740.97 280.74 L741.78 280.51 L742.58 280.18 L743.38 280.16 L744.18 279.70 L744.99 279.58 L745.79 279.77 L746.59 279.30 L747.39 278.86 L748.19 278.79 L749.00 278.68 L749.80 278.35 L750.60 278.27 L751.40 278.07 L752.20 277.98 L752.20 265.89 L753.03 265.94 L753.86 266.41 L754.69 266.76 L755.52 267.32 L756.35 267.49 L757.18 267.61 L758.01 268.10 L758.84 268.59 L759.66 268.98 L760.49 268.41 L761.32 268.63 L762.15 268.28 L762.98 267.93 L763.81 267.94 L763.81 261.83 L764.64 261.58 L765.47 261.62 L766.30 261.46 L767.12 261.38 L767.95 261.06 L768.78 261.13 L769.61 261.15 L770.44 260.99 L771.27 260.84 L772.10 260.67 L772.93 260.95 L773.76 260.68 L774.58 260.38 L775.41 260.35 L775.41 257.50 L776.22 257.63 L777.03 257.60 L777.83 257.79 L778.64 257.96 L779.44 258.29 L780.25 258.35 L781.06 258.37 L781.86 258.22 L782.67 258.69 L783.48 258.89 L784.28 258.86 L785.09 259.10 L785.89 259.35 L785.89 252.49 L786.72 252.42 L787.55 252.46 L788.38 252.18 L789.21 251.97 L790.04 252.06 L790.87 251.87 L791.70 251.64 L792.52 251.37 L793.35 251.47 L794.18 251.65 L795.01 251.50 L795.84 251.47 L796.67 251.44 L797.50 251.33 L797.50 246.26 L798.30 246.28 L799.10 246.12 L799.90 245.99 L800.71 245.85 L801.51 245.87 L802.31 245.68 L803.11 245.67 L803.92 245.52 L804.72 245.33 L805.52 245.28 L806.32 245.17 L807.12 245.19 L807.93 245.03 L808.73 245.00 L808.73 241.22 L809.56 240.95 L810.39 241.07 L811.21 241.13 L812.04 241.04 L812.87 240.75 L813.70 240.58 L814.53 240.57 L815.36 240.33 L816.19 240.61 L817.02 240.48 L817.85 240.39 L818.67 240.21 L819.50 240.19 L820.33 240.06 L820.33 234.39 L821.13 234.15 L821.94 234.19 L822.74 234.21 L823.54 233.89 L824.34 233.95 L825.14 233.99 L825.95 233.95 L826.75 234.44 L827.55 234.36 L828.35 234.49 L829.16 234.75 L829.96 234.83 L830.76 234.95 L831.56 235.00 L831.56 228.74 L832.39 228.67 L833.22 228.35 L834.05 228.64 L834.88 228.42 L835.71 228.38 L836.54 228.13 L837.36 228.20 L838.19 228.05 L839.02 228.23 L839.85 227.79 L840.68 227.75 L841.51 227.41 L842.34 227.57 L843.17 227.57 L843.17 223.78 L843.99 223.75 L844.82 223.76 L845.65 223.59 L846.48 223.30 L847.31 222.96 L848.14 222.99 L848.97 222.86 L849.80 222.79 L850.63 222.40 L851.45 222.31 L852.28 222.58 L853.11 222.22 L853.94 222.04 L854.77 221.94 L854.77 217.51 L855.57 217.55 L856.37 218.16 L857.18 218.62 L857.98 218.84 L858.78 219.28 L859.58 219.50 L860.38 219.92 L861.19 220.25 L861.99 220.67 L862.79 220.60 L863.59 220.21 L864.40 220.24 L865.20 219.78 L866.00 219.52 L866.00 214.39 L866.83 214.25 L867.66 214.45 L868.49 214.12 L869.32 213.96 L870.14 213.80 L870.97 213.61 L871.80 213.53 L872.63 213.14 L873.46 213.20 L874.29 212.91 L875.12 212.97 L875.95 212.88 L876.78 212.70 L877.60 212.50 L877.60 206.96 L878.41 206.50 L879.21 205.65 L880.01 205.33 L880.81 205.04 L881.61 204.54 L882.42 204.27 L883.22 203.96 L884.02 203.01 L884.82 202.18 L885.63 201.63 L886.43 200.94 L887.23 200.05 L888.03 199.67 L888.83 198.98 L888.83 183.50 L889.66 183.09 L890.48 183.38 L891.31 183.34 L892.13 183.54 L892.95 183.38 L893.78 183.58 L894.60 183.27" stroke="#ff6d01"/>
<path d="M250.61 498.29 L251.41 498.33 L252.21 498.26 L253.01 498.31 L253.82 498.24 L254.62 498.32 L255.42 498.30 L256.22 498.38 L257.02 498.37 L257.83 498.33 L258.63 498.29 L259.43 498.32 L260.23 498.30 L261.04 498.25 L261.84 498.30 L261.84 493.66 L262.67 493.59 L263.50 493.67 L264.32 493.57 L265.15 493.39 L265.98 493.42 L266.81 493.34 L267.64 493.22 L268.47 493.14 L269.30 493.11 L270.13 493.16 L270.95 493.01 L271.78 493.17 L272.61 492.86 L273.44 492.83 L273.44 487.15 L274.24 486.82 L275.05 486.96 L275.85 487.02 L276.65 487.22 L277.45 486.95 L278.25 486.91 L279.06 486.65 L279.86 486.70 L280.66 486.74 L281.46 486.59 L282.26 486.70 L283.07 486.75 L283.87 486.62 L284.67 486.41 L284.67 481.70 L285.50 481.82 L286.33 481.66 L287.16 481.90 L287.99 481.80 L288.82 481.90 L289.64 481.77 L290.47 481.78 L291.30 481.82 L292.13 482.03 L292.96 482.07 L293.79 482.11 L294.62 482.27 L295.45 482.09 L296.28 482.23 L296.28 476.59 L297.10 476.34 L297.93 476.22 L298.76 476.32 L299.59 476.34 L300.42 475.97 L301.25 475.69 L302.08 475.44 L302.91 475.49 L303.74 475.47 L304.56 475.38 L305.39 475.24 L306.22 475.26 L307.05 475.01 L307.88 474.82 L307.88 470.60 L308.68 470.38 L309.48 470.07 L310.29 470.20 L311.09 470.11 L311.89 470.02 L312.69 469.92 L313.49 469.91 L314.30 469.86 L315.10 469.46 L315.90 469.51 L316.70 469.58 L317.51 469.53 L318.31 469.38 L319.11 469.30 L319.11 464.24 L319.94 464.19 L320.77 464.09 L321.60 464.05 L322.42 464.07 L323.25 463.95 L324.08 463.69 L324.91 463.43 L325.74 463.49 L326.57 463.52 L327.40 463.52 L328.23 463.57 L329.06 463.45 L329.88 463.35 L330.71 463.13 L330.71 458.71 L331.52 458.69 L332.32 458.92 L333.12 458.79 L333.92 458.52 L334.72 458.52 L335.53 458.57 L336.33 458.35 L337.13 458.15 L337.93 458.34 L338.73 458.26 L339.54 458.25 L340.34 458.26 L341.14 458.19 L341.94 458.23 L341.94 444.32 L342.77 444.28 L343.60 444.27 L344.43 444.10 L345.26 443.83 L346.09 443.85 L346.92 443.63 L347.75 443.71 L348.57 443.49 L349.40 443.52 L350.23 443.66 L351.06 443.57 L351.89 443.29 L352.72 443.06 L353.55 443.16 L353.55 438.73 L354.38 438.77 L355.21 438.45 L356.03 438.64 L356.86 438.61 L357.69 438.64 L358.52 438.71 L359.35 438.41 L360.18 438.54 L361.01 438.46 L361.84 438.66 L362.66 438.33 L363.49 437.90 L364.32 438.15 L365.15 438.27 L365.15 432.80 L365.99 432.79 L366.82 432.93 L367.66 432.93 L368.49 434.03 L369.33 436.37 L370.16 438.11 L371.00 438.73 L371.83 439.97 L372.67 442.36 L373.50 444.56 L374.34 446.65 L375.17 449.89 L376.01 449.86 L376.01 447.94 L376.84 446.96 L377.66 446.67 L378.49 446.67 L379.32 446.57 L380.15 445.90 L380.98 445.78 L381.81 445.73 L382.64 444.83 L383.47 444.83 L384.30 444.20 L385.12 443.12 L385.95 443.09 L386.78 442.92 L387.61 442.91 L387.61 437.28 L388.41 437.75 L389.22 437.41 L390.02 437.43 L390.82 437.23 L391.62 437.34 L392.42 437.56 L393.23 437.28 L394.03 437.03 L394.83 437.25 L395.63 437.07 L396.43 437.13 L397.24 437.34 L398.04 437.17 L398.84 437.05 L398.84 430.03 L399.67 429.96 L400.50 430.04 L401.33 430.09 L402.16 429.80 L402.99 429.08 L403.81 428.82 L404.64 429.28 L405.47 429.55 L406.30 429.53 L407.13 428.98 L407.96 428.91 L408.79 428.60 L409.62 428.68 L410.44 428.50 L410.44 421.62 L411.25 421.73 L412.05 421.64 L412.85 422.14 L413.65 422.02 L414.46 421.22 L415.26 421.56 L416.06 421.17 L416.86 421.07 L417.66 421.12 L418.47 420.80 L419.27 421.84 L420.07 421.57 L420.87 420.98 L421.67 421.09 L421.67 415.35 L422.50 415.73 L423.33 415.74 L424.16 415.82 L424.99 416.08 L425.82 416.03 L426.65 416.15 L427.48 415.83 L428.31 416.14 L429.13 416.10 L429.96 416.35 L430.79 416.29 L431.62 416.49 L432.45 416.35 L433.28 416.39 L433.28 409.70 L434.11 409.93 L434.94 409.75 L435.77 409.78 L436.59 409.65 L437.42 409.93 L438.25 409.55 L439.08 408.90 L439.91 409.19 L440.74 409.30 L441.57 409.82 L442.40 409.44 L443.23 409.37 L444.05 409.63 L444.88 409.58 L444.88 405.10 L445.69 405.40 L446.49 404.99 L447.29 404.97 L448.09 404.63 L448.89 404.12 L449.70 404.31 L450.50 404.35 L451.30 404.25 L452.10 405.04 L452.90 404.22 L453.71 404.45 L454.51 404.79 L455.31 404.64 L456.11 404.29 L456.11 398.09 L456.94 398.28 L457.77 399.09 L458.60 399.69 L459.43 399.52 L460.26 399.96 L461.09 400.22 L461.91 400.72 L462.74 399.96 L463.57 399.88 L464.40 399.20 L465.23 398.87 L466.06 398.22 L466.89 398.17 L467.72 397.50 L467.72 391.15 L468.52 391.06 L469.32 391.16 L470.12 391.02 L470.93 391.47 L471.73 390.67 L472.53 390.77 L473.33 390.36 L474.13 390.33 L474.94 389.76 L475.74 390.29 L476.54 389.43 L477.34 389.92 L478.14 389.40 L478.95 389.64 L478.95 376.42 L479.79 376.11 L480.63 376.22 L481.47 376.08 L482.31 375.76 L483.15 375.77 L483.99 375.79 L484.83 375.16 L485.67 374.58 L486.51 374.13 L487.35 373.64 L488.19 373.63 L489.03 373.36 L489.87 372.81 L490.71 372.63 L491.55 372.13 L491.55 367.47 L492.37 367.72 L493.18 367.80 L494.00 367.91 L494.81 368.37 L495.63 368.54 L496.44 368.67 L497.26 367.71 L498.08 368.04 L498.89 367.78 L499.71 367.64 L500.52 367.71 L501.34 367.80 L502.15 367.34 L502.15 362.89 L502.96 363.56 L503.77 363.81 L504.57 363.91 L505.38 364.17 L506.19 365.47 L506.99 365.38 L507.80 364.91 L508.60 364.44 L509.41 364.01 L510.22 364.38 L511.02 364.02 L511.83 362.68 L512.64 362.20 L512.64 357.31 L513.46 357.52 L514.29 357.20 L515.12 357.31 L515.95 357.91 L516.78 357.84 L517.61 357.95 L518.44 359.27 L519.27 358.33 L520.10 357.36 L520.92 357.26 L521.75 356.50 L522.58 356.14 L523.41 355.88 L524.24 355.66 L524.24 350.08 L525.04 350.15 L525.84 350.20 L526.65 350.59 L527.45 350.84 L528.25 350.58 L529.05 350.97 L529.85 351.19 L530.66 350.59 L531.46 350.78 L532.26 350.15 L533.06 349.85 L533.87 350.08 L534.67 350.43 L535.47 350.35 L535.47 346.00 L536.30 346.29 L537.13 345.39 L537.96 345.53 L538.79 345.79 L539.61 345.20 L540.44 345.14 L541.27 345.11 L542.10 345.49 L542.93 344.57 L543.76 344.23 L544.59 344.56 L545.42 344.64 L546.25 344.42 L547.07 343.99 L547.07 338.91 L547.88 339.58 L548.68 338.97 L549.48 339.12 L550.28 339.23 L551.08 338.52 L551.89 338.37 L552.69 338.66 L553.49 338.45 L554.29 338.43 L555.10 338.11 L555.90 338.10 L556.70 338.06 L557.50 338.63 L558.30 338.08 L558.30 333.65 L559.13 333.91 L559.96 333.56 L560.79 333.19 L561.62 333.19 L562.45 332.32 L563.28 332.35 L564.11 332.42 L564.93 332.21 L565.76 332.01 L566.59 331.91 L567.42 331.43 L568.25 331.81 L569.08 331.28 L569.91 331.27 L569.91 326.53 L570.74 327.38 L571.57 327.15 L572.39 326.23 L573.22 326.04 L574.05 326.06 L574.88 326.44 L575.71 326.56 L576.54 327.26 L577.37 327.57 L578.20 326.64 L579.03 326.65 L579.85 326.21 L580.68 326.46 L581.51 326.96 L581.51 322.84 L582.31 322.84 L583.12 323.14 L583.92 322.36 L584.72 322.12 L585.52 322.29 L586.32 322.51 L587.13 322.16 L587.93 322.15 L588.73 322.49 L589.53 321.84 L590.34 321.79 L591.14 321.32 L591.94 321.70 L592.74 321.27 L592.74 314.78 L593.57 315.49 L594.40 314.96 L595.23 314.60 L596.06 314.64 L596.89 314.59 L597.71 314.35 L598.54 314.16 L599.37 314.26 L600.20 314.30 L601.03 313.74 L601.86 314.11 L602.69 313.70 L603.52 313.70 L604.35 313.80 L604.35 309.94 L605.15 309.18 L605.95 311.38 L606.75 310.98 L607.55 311.31 L608.36 312.11 L609.16 313.08 L609.96 313.12 L610.76 312.75 L611.57 313.00 L612.37 312.68 L613.17 311.58 L613.97 311.19 L614.77 310.76 L615.58 310.97 L615.58 298.69 L616.40 297.81 L617.23 297.69 L618.06 296.60 L618.89 297.00 L619.72 297.32 L620.55 297.23 L621.38 296.59 L622.21 295.73 L623.04 295.48 L623.86 294.90 L624.69 294.93 L625.52 293.96 L626.35 292.99 L627.18 294.34 L627.18 290.38 L628.01 290.31 L628.84 290.91 L629.67 292.25 L630.50 292.46 L631.32 293.53 L632.15 294.01 L632.98 293.45 L633.81 294.87 L634.64 295.21 L635.47 294.47 L636.30 294.91 L637.13 294.62 L637.96 295.09 L638.78 295.53 L638.78 290.98 L639.59 291.30 L640.40 292.64 L641.20 292.80 L642.01 293.91 L642.82 295.42 L643.62 296.18 L644.43 296.25 L645.23 296.92 L646.04 298.54 L646.85 299.97 L647.65 299.77 L648.46 299.80 L649.27 299.87 L649.27 295.76 L650.09 293.58 L650.92 292.29 L651.75 291.64 L652.58 291.09 L653.41 291.37 L654.24 289.94 L655.07 289.00 L655.90 289.60 L656.72 288.75 L657.55 289.11 L658.38 290.45 L659.21 291.05 L660.04 291.43 L660.87 290.64 L660.87 286.42 L661.67 287.20 L662.47 287.12 L663.28 288.23 L664.08 289.51 L664.88 289.13 L665.68 290.79 L666.48 290.89 L667.29 290.86 L668.09 290.17 L668.89 291.03 L669.69 291.76 L670.49 292.22 L671.30 293.53 L672.10 293.63 L672.10 289.24 L672.93 289.01 L673.76 288.68 L674.59 288.09 L675.41 287.98 L676.24 289.05 L677.07 287.85 L677.90 288.20 L678.73 288.57 L679.56 288.35 L680.39 288.87 L681.22 288.59 L682.05 288.58 L682.87 288.75 L683.70 289.26 L683.70 289.63 L684.51 287.98 L685.31 288.65 L686.11 288.59 L686.91 288.57 L687.71 288.28 L688.52 288.20 L689.32 288.99 L690.12 288.30 L690.92 287.84 L691.72 286.49 L692.53 286.75 L693.33 287.23 L694.13 287.73 L694.93 288.77 L694.93 281.50 L695.76 280.14 L696.59 279.83 L697.42 279.93 L698.25 279.07 L699.08 278.89 L699.91 279.00 L700.73 277.24 L701.56 276.88 L702.39 276.85 L703.22 275.46 L704.05 275.64 L704.88 275.26 L705.71 276.01 L706.54 274.90 L706.54 267.77 L707.37 268.32 L708.19 267.48 L709.02 267.51 L709.85 268.87 L710.68 269.21 L711.51 271.21 L712.34 271.30 L713.17 271.78 L714.00 272.91 L714.83 274.69 L715.65 274.18 L716.48 275.24 L717.31 273.18 L718.14 273.16 L718.14 270.52 L718.94 271.46 L719.75 272.06 L720.55 273.31 L721.35 273.46 L722.15 275.15 L722.95 276.15 L723.76 276.99 L724.56 278.18 L725.36 278.67 L726.16 279.09 L726.96 278.24 L727.77 278.99 L728.57 279.03 L729.37 279.67 L729.37 274.33 L730.20 274.33 L731.03 273.75 L731.86 273.56 L732.69 274.58 L733.52 273.79 L734.34 272.97 L735.17 273.04 L736.00 273.01 L736.83 272.52 L737.66 273.50 L738.49 272.41 L739.32 272.08 L740.15 272.13 L740.97 271.97 L740.97 263.85 L741.78 263.85 L742.58 264.13 L743.38 264.00 L744.18 263.46 L744.99 263.18 L745.79 263.82 L746.59 263.24 L747.39 262.95 L748.19 262.90 L749.00 264.05 L749.80 263.19 L750.60 264.40 L751.40 263.84 L752.20 263.66 L752.20 252.55 L753.03 253.18 L753.86 253.44 L754.69 252.94 L755.52 252.74 L756.35 252.27 L757.18 252.50 L758.01 253.49 L758.84 253.07 L759.66 252.45 L760.49 251.83 L761.32 251.22 L762.15 251.01 L762.98 250.26 L763.81 249.69 L763.81 242.54 L764.64 242.16 L765.47 241.62 L766.30 241.08 L767.12 240.56 L767.95 240.14 L768.78 240.11 L769.61 239.14 L770.44 239.12 L771.27 239.03 L772.10 238.14 L772.93 238.97 L773.76 238.39 L774.58 238.62 L775.41 238.73 L775.41 234.90 L776.22 234.58 L777.03 235.84 L777.83 235.33 L778.64 235.02 L779.44 234.85 L780.25 235.07 L781.06 234.98 L781.86 234.76 L782.67 235.48 L783.48 235.11 L784.28 235.67 L785.09 235.93 L785.89 235.73 L785.89 230.72 L786.72 230.21 L787.55 230.26 L788.38 229.96 L789.21 229.93 L790.04 229.50 L790.87 229.79 L791.70 229.43 L792.52 229.31 L793.35 229.68 L794.18 228.50 L795.01 228.21 L795.84 227.51 L796.67 227.20 L797.50 227.38 L797.50 221.94 L798.30 221.70 L799.10 222.58 L799.90 222.43 L800.71 222.29 L801.51 222.90 L802.31 222.58 L803.11 222.06 L803.92 222.07 L804.72 222.83 L805.52 222.72 L806.32 222.10 L807.12 222.51 L807.93 222.58 L808.73 222.38 L808.73 213.75 L809.56 213.14 L810.39 212.69 L811.21 212.74 L812.04 212.92 L812.87 212.72 L813.70 212.66 L814.53 212.83 L815.36 212.46 L816.19 212.51 L817.02 211.96 L817.85 212.24 L818.67 212.91 L819.50 212.48 L820.33 211.92 L820.33 204.28 L821.13 204.91 L821.94 204.98 L822.74 205.05 L823.54 204.52 L824.34 204.84 L825.14 204.54 L825.95 204.58 L826.75 203.68 L827.55 204.19 L828.35 204.51 L829.16 205.03 L829.96 205.25 L830.76 205.25 L831.56 204.66 L831.56 195.86 L832.39 195.65 L833.22 195.89 L834.05 194.77 L834.88 194.72 L835.71 193.97 L836.54 193.89 L837.36 194.13 L838.19 194.21 L839.02 193.28 L839.85 193.15 L840.68 192.47 L841.51 193.11 L842.34 192.91 L843.17 192.92 L843.17 188.90 L843.99 188.62 L844.82 189.26 L845.65 188.47 L846.48 188.31 L847.31 187.42 L848.14 187.15 L848.97 187.73 L849.80 186.95 L850.63 186.60 L851.45 187.17 L852.28 187.22 L853.11 186.88 L853.94 185.49 L854.77 185.73 L854.77 179.36 L855.57 179.18 L856.37 179.73 L857.18 180.43 L857.98 181.48 L858.78 181.23 L859.58 181.14 L860.38 182.01 L861.19 182.66 L861.99 183.53 L862.79 183.70 L863.59 183.88 L864.40 183.23 L865.20 182.97 L866.00 182.90 L866.00 178.69 L866.83 179.40 L867.66 179.68 L868.49 180.93 L869.32 182.17 L870.14 182.92 L870.97 182.91 L871.80 181.12 L872.63 181.02 L873.46 180.17 L874.29 180.12 L875.12 179.31 L875.95 178.54 L876.78 177.87 L877.60 177.84 L877.60 172.58 L878.41 172.92 L879.21 172.66 L880.01 171.69 L880.81 171.17 L881.61 170.75 L882.42 169.90 L883.22 168.74 L884.02 168.53 L884.82 167.36 L885.63 166.51 L886.43 165.39 L887.23 164.02 L888.03 162.55 L888.83 161.89 L888.83 149.69 L889.66 149.50 L890.48 149.72 L891.31 150.21 L892.13 149.82 L892.95 150.21 L893.78 149.74 L894.60 149.80" stroke="#46bdc6"/>
<path d="M239.00 504.77 L239.83 504.76 L240.66 504.84 L241.49 504.82 L242.32 504.84 L243.15 504.75 L243.98 504.80 L244.81 504.81 L245.63 504.90 L246.46 504.89 L247.29 504.88 L248.12 504.84 L248.95 504.82 L249.78 504.87 L250.61 504.92 L250.61 499.27 L251.41 499.11 L252.21 499.35 L253.01 499.41 L253.82 499.38 L254.62 499.35 L255.42 499.29 L256.22 499.28 L257.02 499.22 L257.83 499.31 L258.63 499.29 L259.43 499.19 L260.23 499.23 L261.04 499.24 L261.84 499.28 L261.84 494.83 L262.67 494.83 L263.50 494.52 L264.32 494.58 L265.15 494.60 L265.98 494.58 L266.81 494.50 L267.64 494.26 L268.47 494.31 L269.30 494.24 L270.13 494.39 L270.95 494.25 L271.78 493.87 L272.61 494.19 L273.44 493.87 L273.44 488.24 L274.24 488.26 L275.05 488.05 L275.85 487.69 L276.65 487.73 L277.45 487.70 L278.25 487.76 L279.06 487.74 L279.86 487.96 L280.66 487.83 L281.46 487.86 L282.26 487.48 L283.07 487.42 L283.87 487.56 L284.67 487.46 L284.67 482.05 L285.50 482.03 L286.33 481.92 L287.16 482.32 L287.99 482.12 L288.82 482.12 L289.64 482.43 L290.47 482.34 L291.30 482.23 L292.13 482.43 L292.96 482.37 L293.79 482.59 L294.62 482.48 L295.45 482.36 L296.28 482.60 L296.28 477.59 L297.10 477.52 L297.93 477.32 L298.76 476.99 L299.59 476.92 L300.42 476.73 L301.25 476.90 L302.08 476.95 L302.91 476.66 L303.74 476.47 L304.56 476.46 L305.39 476.33 L306.22 476.30 L307.05 476.21 L307.88 476.03 L307.88 472.34 L308.68 472.09 L309.48 472.14 L310.29 471.69 L311.09 471.76 L311.89 471.66 L312.69 471.64 L313.49 471.48 L314.30 471.41 L315.10 471.02 L315.90 470.99 L316.70 470.87 L317.51 470.92 L318.31 470.84 L319.11 470.68 L319.11 466.87 L319.94 466.66 L320.77 466.64 L321.60 466.66 L322.42 466.64 L323.25 466.45 L324.08 466.19 L324.91 466.07 L325.74 466.19 L326.57 465.92 L327.40 465.86 L328.23 465.50 L329.06 465.78 L329.88 465.69 L330.71 465.57 L330.71 461.78 L331.52 461.81 L332.32 461.71 L333.12 461.70 L333.92 461.63 L334.72 461.41 L335.53 461.22 L336.33 461.52 L337.13 461.38 L337.93 461.55 L338.73 461.58 L339.54 461.32 L340.34 461.18 L341.14 461.12 L341.94 461.26 L341.94 447.82 L342.77 447.71 L343.60 447.77 L344.43 447.48 L345.26 447.39 L346.09 447.31 L346.92 447.31 L347.75 447.08 L348.57 447.05 L349.40 447.11 L350.23 446.92 L351.06 446.80 L351.89 446.92 L352.72 446.71 L353.55 446.77 L353.55 442.82 L354.38 442.79 L355.21 442.99 L356.03 442.75 L356.86 442.43 L357.69 442.56 L358.52 442.56 L359.35 442.61 L360.18 442.10 L361.01 442.24 L361.84 442.62 L362.66 442.47 L363.49 442.65 L364.32 442.16 L365.15 442.23 L365.15 436.51 L365.99 437.01 L366.82 436.48 L367.66 436.97 L368.49 437.53 L369.33 438.79 L370.16 439.44 L371.00 440.00 L371.83 440.73 L372.67 442.72 L373.50 444.06 L374.34 446.81 L375.17 449.46 L376.01 449.06 L376.01 447.12 L376.84 446.75 L377.66 446.58 L378.49 445.53 L379.32 445.29 L380.15 445.40 L380.98 444.88 L381.81 444.97 L382.64 444.33 L383.47 443.60 L384.30 443.76 L385.12 443.22 L385.95 442.70 L386.78 442.41 L387.61 442.23 L387.61 436.94 L388.41 437.14 L389.22 436.82 L390.02 436.85 L390.82 436.68 L391.62 436.84 L392.42 437.03 L393.23 437.09 L394.03 436.85 L394.83 436.64 L395.63 436.86 L396.43 437.09 L397.24 437.10 L398.04 437.69 L398.84 436.90 L398.84 429.49 L399.67 429.31 L400.50 429.57 L401.33 429.04 L402.16 429.01 L402.99 428.53 L403.81 428.70 L404.64 428.96 L405.47 429.09 L406.30 428.96 L407.13 428.97 L407.96 428.41 L408.79 428.82 L409.62 428.96 L410.44 428.13 L410.44 422.88 L411.25 423.02 L412.05 423.14 L412.85 423.32 L413.65 423.01 L414.46 422.53 L415.26 422.42 L416.06 422.97 L416.86 422.71 L417.66 422.09 L418.47 422.29 L419.27 422.58 L420.07 422.44 L420.87 422.55 L421.67 422.36 L421.67 417.52 L422.50 417.22 L423.33 417.39 L424.16 417.64 L424.99 417.33 L425.82 417.70 L426.65 418.07 L427.48 417.86 L428.31 417.66 L429.13 417.49 L429.96 417.15 L430.79 417.72 L431.62 417.36 L432.45 417.12 L433.28 417.44 L433.28 411.64 L434.11 411.48 L434.94 411.55 L435.77 411.59 L436.59 411.73 L437.42 411.00 L438.25 410.99 L439.08 410.85 L439.91 411.25 L440.74 411.13 L441.57 411.40 L442.40 411.90 L443.23 411.68 L444.05 411.18 L444.88 411.28 L444.88 406.53 L445.69 405.99 L446.49 406.61 L447.29 406.52 L448.09 406.63 L448.89 406.77 L449.70 406.52 L450.50 406.72 L451.30 406.53 L452.10 406.00 L452.90 406.09 L453.71 406.07 L454.51 406.30 L455.31 406.63 L456.11 405.94 L456.11 399.98 L456.94 400.07 L457.77 400.56 L458.60 401.11 L459.43 401.70 L460.26 401.15 L461.09 401.67 L461.91 402.37 L462.74 401.55 L463.57 401.46 L464.40 401.13 L465.23 401.06 L466.06 400.52 L466.89 399.32 L467.72 399.35 L467.72 392.46 L468.52 392.32 L469.32 392.26 L470.12 392.68 L470.93 392.13 L471.73 392.28 L472.53 392.55 L473.33 391.80 L474.13 392.10 L474.94 392.07 L475.74 391.91 L476.54 392.64 L477.34 392.06 L478.14 392.23 L478.95 391.94 L478.95 378.40 L479.79 378.26 L480.63 378.50 L481.47 378.06 L482.31 378.06 L483.15 377.69 L483.99 377.87 L484.83 377.53 L485.67 377.31 L486.51 377.29 L487.35 377.10 L488.19 376.80 L489.03 376.41 L489.87 376.35 L490.71 376.04 L491.55 376.12 L491.55 372.03 L492.37 372.24 L493.18 371.77 L494.00 371.92 L494.81 371.22 L495.63 371.23 L496.44 371.80 L497.26 371.63 L498.08 370.73 L498.89 370.92 L499.71 371.02 L500.52 370.83 L501.34 370.44 L502.15 370.79 L502.15 367.09 L502.96 366.89 L503.77 367.14 L504.57 367.16 L505.38 366.65 L506.19 366.78 L506.99 366.78 L507.80 366.35 L508.60 366.60 L509.41 366.61 L510.22 366.66 L511.02 366.44 L511.83 366.31 L512.64 366.47 L512.64 362.19 L513.46 362.34 L514.29 362.19 L515.12 361.94 L515.95 361.67 L516.78 361.71 L517.61 361.54 L518.44 361.22 L519.27 361.40 L520.10 361.75 L520.92 361.87 L521.75 361.38 L522.58 360.81 L523.41 361.72 L524.24 360.65 L524.24 355.88 L525.04 355.49 L525.84 355.52 L526.65 355.23 L527.45 355.00 L528.25 355.03 L529.05 355.03 L529.85 354.92 L530.66 355.05 L531.46 354.52 L532.26 355.22 L533.06 355.11 L533.87 355.37 L534.67 355.07 L535.47 355.78 L535.47 350.12 L536.30 349.89 L537.13 349.65 L537.96 349.43 L538.79 349.96 L539.61 349.36 L540.44 348.89 L541.27 348.79 L542.10 348.93 L542.93 348.77 L543.76 348.71 L544.59 348.73 L545.42 348.99 L546.25 349.20 L547.07 348.32 L547.07 342.58 L547.88 342.38 L548.68 342.68 L549.48 342.91 L550.28 342.72 L551.08 342.20 L551.89 342.11 L552.69 341.60 L553.49 341.66 L554.29 341.67 L555.10 341.34 L555.90 341.43 L556.70 341.76 L557.50 341.28 L558.30 341.23 L558.30 336.89 L559.13 336.03 L559.96 336.49 L560.79 335.86 L561.62 335.36 L562.45 335.72 L563.28 335.64 L564.11 335.59 L564.93 335.40 L565.76 335.47 L566.59 335.07 L567.42 335.04 L568.25 334.73 L569.08 333.90 L569.91 333.98 L569.91 330.34 L570.74 330.49 L571.57 330.43 L572.39 330.39 L573.22 330.95 L574.05 330.81 L574.88 330.35 L575.71 330.89 L576.54 330.82 L577.37 330.76 L578.20 330.69 L579.03 329.91 L579.85 329.62 L580.68 330.18 L581.51 330.86 L581.51 326.67 L582.31 326.07 L583.12 326.40 L583.92 326.64 L584.72 325.70 L585.52 325.42 L586.32 324.96 L587.13 324.83 L587.93 324.36 L588.73 324.43 L589.53 324.72 L590.34 324.70 L591.14 324.79 L591.94 324.75 L592.74 324.20 L592.74 317.88 L593.57 317.82 L594.40 317.90 L595.23 317.53 L596.06 318.03 L596.89 317.63 L597.71 317.82 L598.54 317.84 L599.37 318.14 L600.20 316.77 L601.03 316.34 L601.86 316.70 L602.69 317.65 L603.52 318.21 L604.35 317.24 L604.35 310.49 L605.15 311.80 L605.95 311.41 L606.75 311.85 L607.55 312.71 L608.36 313.17 L609.16 313.04 L609.96 313.82 L610.76 313.63 L611.57 312.67 L612.37 311.81 L613.17 312.04 L613.97 312.61 L614.77 311.54 L615.58 311.03 L615.58 300.41 L616.40 299.51 L617.23 299.11 L618.06 298.94 L618.89 298.32 L619.72 298.21 L620.55 297.45 L621.38 296.53 L622.21 296.76 L623.04 296.88 L623.86 297.30 L624.69 295.70 L625.52 295.37 L626.35 296.76 L627.18 295.64 L627.18 292.58 L628.01 293.27 L628.84 293.01 L629.67 293.07 L630.50 293.50 L631.32 294.89 L632.15 294.06 L632.98 294.31 L633.81 295.33 L634.64 295.71 L635.47 295.61 L636.30 295.75 L637.13 295.81 L637.96 296.11 L638.78 296.85 L638.78 292.40 L639.59 293.34 L640.40 294.28 L641.20 294.57 L642.01 293.95 L642.82 296.24 L643.62 295.89 L644.43 297.24 L645.23 298.88 L646.04 298.69 L646.85 300.53 L647.65 301.06 L648.46 300.80 L649.27 301.48 L649.27 296.85 L650.09 294.74 L650.92 293.42 L651.75 292.55 L652.58 291.27 L653.41 290.56 L654.24 290.78 L655.07 290.72 L655.90 289.94 L656.72 290.76 L657.55 290.97 L658.38 291.66 L659.21 291.88 L660.04 292.10 L660.87 292.10 L660.87 287.98 L661.67 288.82 L662.47 289.36 L663.28 289.85 L664.08 291.11 L664.88 290.67 L665.68 290.62 L666.48 291.86 L667.29 291.76 L668.09 292.22 L668.89 293.46 L669.69 294.34 L670.49 295.38 L671.30 293.92 L672.10 294.43 L672.10 288.50 L672.93 287.36 L673.76 288.40 L674.59 288.57 L675.41 286.92 L676.24 287.56 L677.07 288.03 L677.90 288.07 L678.73 288.05 L679.56 287.11 L680.39 287.79 L681.22 287.53 L682.05 287.98 L682.87 288.69 L683.70 288.84 L683.70 289.32 L684.51 288.64 L685.31 289.65 L686.11 288.57 L686.91 288.21 L687.71 288.58 L688.52 287.98 L689.32 287.54 L690.12 287.38 L690.92 286.54 L691.72 286.64 L692.53 286.87 L693.33 287.38 L694.13 287.86 L694.93 288.53 L694.93 280.10 L695.76 279.24 L696.59 278.38 L697.42 278.09 L698.25 278.19 L699.08 277.22 L699.91 277.03 L700.73 276.24 L701.56 276.45 L702.39 275.64 L703.22 274.08 L704.05 273.28 L704.88 274.65 L705.71 273.47 L706.54 273.81 L706.54 267.18 L707.37 266.59 L708.19 267.89 L709.02 267.45 L709.85 268.18 L710.68 268.56 L711.51 268.96 L712.34 270.44 L713.17 271.43 L714.00 272.57 L714.83 273.37 L715.65 274.00 L716.48 272.71 L717.31 273.34 L718.14 272.63 L718.14 269.60 L718.94 270.83 L719.75 272.02 L720.55 272.98 L721.35 273.21 L722.15 274.92 L722.95 276.11 L723.76 276.54 L724.56 278.00 L725.36 277.17 L726.16 277.98 L726.96 278.13 L727.77 278.51 L728.57 279.49 L729.37 279.26 L729.37 273.48 L730.20 274.74 L731.03 274.80 L731.86 272.55 L732.69 273.07 L733.52 272.52 L734.34 271.99 L735.17 271.63 L736.00 271.25 L736.83 271.55 L737.66 271.76 L738.49 271.97 L739.32 272.43 L740.15 271.97 L740.97 271.43 L740.97 263.77 L741.78 263.37 L742.58 262.72 L743.38 262.96 L744.18 262.59 L744.99 262.79 L745.79 263.40 L746.59 261.72 L747.39 263.03 L748.19 262.67 L749.00 262.63 L749.80 264.19 L750.60 262.60 L751.40 261.98 L752.20 262.98 L752.20 251.96 L753.03 251.86 L753.86 252.21 L754.69 251.75 L755.52 252.31 L756.35 252.57 L757.18 252.49 L758.01 253.07 L758.84 252.60 L759.66 251.90 L760.49 251.69 L761.32 250.99 L762.15 250.44 L762.98 249.57 L763.81 249.10 L763.81 241.69 L764.64 240.95 L765.47 240.70 L766.30 240.55 L767.12 240.06 L767.95 239.73 L768.78 240.18 L769.61 239.40 L770.44 239.31 L771.27 239.19 L772.10 239.08 L772.93 238.77 L773.76 238.28 L774.58 237.30 L775.41 237.80 L775.41 234.57 L776.22 234.88 L777.03 234.61 L777.83 235.16 L778.64 235.77 L779.44 234.91 L780.25 234.85 L781.06 235.21 L781.86 234.29 L782.67 234.83 L783.48 235.16 L784.28 235.60 L785.09 234.84 L785.89 235.61 L785.89 230.32 L786.72 230.30 L787.55 229.51 L788.38 229.72 L789.21 229.47 L790.04 229.74 L790.87 229.19 L791.70 229.12 L792.52 228.01 L793.35 228.55 L794.18 228.38 L795.01 227.69 L795.84 227.04 L796.67 227.18 L797.50 226.77 L797.50 219.44 L798.30 219.82 L799.10 219.86 L799.90 219.56 L800.71 219.69 L801.51 220.20 L802.31 220.60 L803.11 221.27 L803.92 220.50 L804.72 220.52 L805.52 220.83 L806.32 220.47 L807.12 220.04 L807.93 220.95 L808.73 221.10 L808.73 212.92 L809.56 213.68 L810.39 213.32 L811.21 212.77 L812.04 212.80 L812.87 212.49 L813.70 212.36 L814.53 213.13 L815.36 211.93 L816.19 212.73 L817.02 211.71 L817.85 211.49 L818.67 212.13 L819.50 211.46 L820.33 211.43 L820.33 203.08 L821.13 202.99 L821.94 203.31 L822.74 202.98 L823.54 203.68 L824.34 203.33 L825.14 203.41 L825.95 203.63 L826.75 203.03 L827.55 203.79 L828.35 203.42 L829.16 203.21 L829.96 204.10 L830.76 203.73 L831.56 203.66 L831.56 190.66 L832.39 190.17 L833.22 190.14 L834.05 190.07 L834.88 189.38 L835.71 189.55 L836.54 189.67 L837.36 189.91 L838.19 189.34 L839.02 188.53 L839.85 188.34 L840.68 188.12 L841.51 187.34 L842.34 186.86 L843.17 186.96 L843.17 184.00 L843.99 183.73 L844.82 183.79 L845.65 183.31 L846.48 183.03 L847.31 183.46 L848.14 182.69 L848.97 182.31 L849.80 182.03 L850.63 181.43 L851.45 180.97 L852.28 180.81 L853.11 180.65 L853.94 180.83 L854.77 180.28 L854.77 175.70 L855.57 176.29 L856.37 177.30 L857.18 178.17 L857.98 178.41 L858.78 178.45 L859.58 179.28 L860.38 179.70 L861.19 180.65 L861.99 181.18 L862.79 180.73 L863.59 181.02 L864.40 180.53 L865.20 179.56 L866.00 179.90 L866.00 176.30 L866.83 176.99 L867.66 177.61 L868.49 178.86 L869.32 179.84 L870.14 180.61 L870.97 179.36 L871.80 178.08 L872.63 176.73 L873.46 176.11 L874.29 175.45 L875.12 174.61 L875.95 173.72 L876.78 173.37 L877.60 173.43 L877.60 167.47 L878.41 167.34 L879.21 166.79 L880.01 166.26 L880.81 165.32 L881.61 165.42 L882.42 165.02 L883.22 163.55 L884.02 163.29 L884.82 162.85 L885.63 162.22 L886.43 160.87 L887.23 159.49 L888.03 157.96 L888.83 153.56 L888.83 139.60 L889.66 139.14 L890.48 139.46 L891.31 138.97 L892.13 139.30 L892.95 138.82 L893.78 139.29 L894.60 139.32" stroke="#7baaf7"/>
<path d="M60.50 585.71 L61.32 585.79 L62.14 585.71 L62.96 585.74 L63.77 585.65 L64.59 585.69 L65.41 585.63 L66.23 585.69 L67.05 585.69 L67.87 585.74 L68.69 585.70 L68.69 580.89 L69.51 580.85 L70.34 580.82 L71.17 580.99 L72.00 580.88 L72.83 580.95 L73.66 581.02 L74.49 581.01 L75.32 580.94 L76.14 581.03 L76.97 581.12 L77.80 581.16 L78.63 581.03 L79.46 581.08 L80.29 581.11 L80.29 575.95 L81.12 575.98 L81.95 575.97 L82.78 576.05 L83.60 575.92 L84.43 575.94 L85.26 575.87 L86.09 575.94 L86.92 575.96 L87.75 575.98 L88.58 576.07 L89.41 576.11 L90.24 576.12 L91.06 576.09 L91.89 576.09 L91.89 570.88 L92.70 570.91 L93.51 570.96 L94.31 570.93 L95.12 570.90 L95.92 570.90 L96.73 571.00 L97.54 571.08 L98.34 571.10 L99.15 571.01 L99.96 571.01 L100.76 571.00 L101.57 571.15 L102.37 571.12 L102.37 565.89 L103.20 565.93 L104.03 565.95 L104.86 565.96 L105.69 565.98 L106.52 565.94 L107.35 565.92 L108.18 566.01 L109.01 566.14 L109.83 566.00 L110.66 565.96 L111.49 566.06 L112.32 566.00 L113.15 565.90 L113.98 566.07 L113.98 560.51 L114.78 560.59 L115.58 560.62 L116.39 560.55 L117.19 560.60 L117.99 560.58 L118.79 560.58 L119.59 560.66 L120.40 560.61 L121.20 560.72 L122.00 560.76 L122.80 560.79 L123.60 560.80 L124.41 560.76 L125.21 560.84 L125.21 555.45 L126.04 555.47 L126.87 555.46 L127.70 555.44 L128.52 555.46 L129.35 555.55 L130.18 555.62 L131.01 555.55 L131.84 555.52 L132.67 555.51 L133.50 555.58 L134.33 555.60 L135.15 555.65 L135.98 555.69 L136.81 555.67 L136.81 550.80 L137.61 550.85 L138.42 550.82 L139.22 550.83 L140.02 550.79 L140.82 550.95 L141.63 550.99 L142.43 550.97 L143.23 551.04 L144.03 551.12 L144.83 551.16 L145.64 551.08 L146.44 551.08 L147.24 551.12 L148.04 551.15 L148.04 545.72 L148.87 545.75 L149.70 545.69 L150.53 545.85 L151.36 545.84 L152.19 545.90 L153.02 545.87 L153.84 545.99 L154.67 546.00 L155.50 545.94 L156.33 545.87 L157.16 545.99 L157.99 546.04 L158.82 546.02 L159.65 546.05 L159.65 541.18 L160.48 541.26 L161.30 541.33 L162.13 541.25 L162.96 541.23 L163.79 541.31 L164.62 541.23 L165.45 541.30 L166.28 541.36 L167.11 541.38 L167.94 541.49 L168.76 541.41 L169.59 541.48 L170.42 541.49 L171.25 541.49 L171.25 536.24 L172.05 536.30 L172.85 536.35 L173.66 536.34 L174.46 536.34 L175.26 536.50 L176.06 536.57 L176.87 536.58 L177.67 536.55 L178.47 536.65 L179.27 536.58 L180.07 536.65 L180.88 536.72 L181.68 536.75 L182.48 536.79 L182.48 531.78 L183.31 531.75 L184.14 531.93 L184.97 532.08 L185.80 532.09 L186.62 532.11 L187.45 532.05 L188.28 532.12 L189.11 532.09 L189.94 532.21 L190.77 532.33 L191.60 532.28 L192.43 532.38 L193.26 532.43 L194.08 532.58 L194.08 526.81 L194.89 526.94 L195.69 526.99 L196.49 527.09 L197.29 527.18 L198.10 527.19 L198.90 527.39 L199.70 527.44 L200.50 527.47 L201.30 527.60 L202.11 527.76 L202.91 527.88 L203.71 528.00 L204.51 528.07 L205.31 528.11 L205.31 521.13 L206.14 521.12 L206.97 521.26 L207.80 521.28 L208.63 521.37 L209.46 521.34 L210.29 521.39 L211.12 521.46 L211.95 521.45 L212.77 521.51 L213.60 521.56 L214.43 521.62 L215.26 521.58 L216.09 521.61 L216.92 521.70 L216.92 516.15 L217.75 516.15 L218.58 516.40 L219.40 516.32 L220.23 516.47 L221.06 516.51 L221.89 516.48 L222.72 516.54 L223.55 516.48 L224.38 516.55 L225.21 516.63 L226.04 516.83 L226.86 516.73 L227.69 516.75 L228.52 516.79 L228.52 510.42 L229.33 510.31 L230.13 510.41 L230.94 510.38 L231.75 510.35 L232.55 510.35 L233.36 510.30 L234.17 510.23 L234.97 510.28 L235.78 510.35 L236.58 510.26 L237.39 510.28 L238.20 510.22 L239.00 510.21 L239.00 504.71 L239.83 504.68 L240.66 504.78 L241.49 504.71 L242.32 504.61 L243.15 504.67 L243.98 504.71 L244.81 504.75 L245.63 504.75 L246.46 504.74 L247.29 504.90 L248.12 504.76 L248.95 504.76 L249.78 504.80 L250.61 504.81 L250.61 499.70 L251.41 499.76 L252.21 499.71 L253.01 499.79 L253.82 499.66 L254.62 499.71 L255.42 499.75 L256.22 499.68 L257.02 499.71 L257.83 499.74 L258.63 499.70 L259.43 499.70 L260.23 499.74 L261.04 499.77 L261.84 499.73 L261.84 495.22 L262.67 495.23 L263.50 495.18 L264.32 495.12 L265.15 495.01 L265.98 494.77 L266.81 494.86 L267.64 494.79 L268.47 494.69 L269.30 494.57 L270.13 494.47 L270.95 494.35 L271.78 494.15 L272.61 494.13 L273.44 494.29 L273.44 488.46 L274.24 488.39 L275.05 488.72 L275.85 488.48 L276.65 488.50 L277.45 488.21 L278.25 488.25 L279.06 488.10 L279.86 488.07 L280.66 487.84 L281.46 487.97 L282.26 488.04 L283.07 487.80 L283.87 487.83 L284.67 487.83 L284.67 482.32 L285.50 482.43 L286.33 482.36 L287.16 482.53 L287.99 482.71 L288.82 482.49 L289.64 482.66 L290.47 482.53 L291.30 482.64 L292.13 482.81 L292.96 482.58 L293.79 482.25 L294.62 482.60 L295.45 482.96 L296.28 482.86 L296.28 477.81 L297.10 477.64 L297.93 477.56 L298.76 477.45 L299.59 477.32 L300.42 477.29 L301.25 476.94 L302.08 477.11 L302.91 476.73 L303.74 477.02 L304.56 476.91 L305.39 476.60 L306.22 476.18 L307.05 476.42 L307.88 476.27 L307.88 472.71 L308.68 472.52 L309.48 472.66 L310.29 472.38 L311.09 472.32 L311.89 472.00 L312.69 471.88 L313.49 471.81 L314.30 471.81 L315.10 471.52 L315.90 471.54 L316.70 471.67 L317.51 471.28 L318.31 471.13 L319.11 471.11 L319.11 467.26 L319.94 467.09 L320.77 466.92 L321.60 466.87 L322.42 466.97 L323.25 466.78 L324.08 466.68 L324.91 466.69 L325.74 466.68 L326.57 466.49 L327.40 466.29 L328.23 466.27 L329.06 466.06 L329.88 466.11 L330.71 466.00 L330.71 462.35 L331.52 462.10 L332.32 462.26 L333.12 462.02 L333.92 461.97 L334.72 462.37 L335.53 462.18 L336.33 462.26 L337.13 462.01 L337.93 461.96 L338.73 461.79 L339.54 461.86 L340.34 461.82 L341.14 461.66 L341.94 461.70 L341.94 447.89 L342.77 447.98 L343.60 447.91 L344.43 447.92 L345.26 447.61 L346.09 447.70 L346.92 447.79 L347.75 447.51 L348.57 447.35 L349.40 447.36 L350.23 447.33 L351.06 446.99 L351.89 446.97 L352.72 447.05 L353.55 446.86 L353.55 443.33 L354.38 443.25 L355.21 443.11 L356.03 443.31 L356.86 443.30 L357.69 443.06 L358.52 443.17 L359.35 443.08 L360.18 443.19 L361.01 443.57 L361.84 442.96 L362.66 443.13 L363.49 442.82 L364.32 442.69 L365.15 442.78 L365.15 437.18 L365.99 437.26 L366.82 437.35 L367.66 437.31 L368.49 437.64 L369.33 439.42 L370.16 440.43 L371.00 441.68 L371.83 441.62 L372.67 444.15 L373.50 446.11 L374.34 448.76 L375.17 452.02 L376.01 451.41 L376.01 449.66 L376.84 449.17 L377.66 449.19 L378.49 449.13 L379.32 448.33 L380.15 447.89 L380.98 447.57 L381.81 447.08 L382.64 446.55 L383.47 446.05 L384.30 444.15 L385.12 443.59 L385.95 443.51 L386.78 442.55 L387.61 442.10 L387.61 437.23 L388.41 437.32 L389.22 437.18 L390.02 436.57 L390.82 436.63 L391.62 436.62 L392.42 436.99 L393.23 436.65 L394.03 436.69 L394.83 436.62 L395.63 436.95 L396.43 437.28 L397.24 436.95 L398.04 436.94 L398.84 436.79 L398.84 431.08 L399.67 431.05 L400.50 430.98 L401.33 430.68 L402.16 430.27 L402.99 429.92 L403.81 430.16 L404.64 430.50 L405.47 430.33 L406.30 430.33 L407.13 430.01 L407.96 429.80 L408.79 429.54 L409.62 429.33 L410.44 429.53 L410.44 423.73 L411.25 423.88 L412.05 423.53 L412.85 423.80 L413.65 423.34 L414.46 423.60 L415.26 423.46 L416.06 423.72 L416.86 423.47 L417.66 423.00 L418.47 422.79 L419.27 423.41 L420.07 422.96 L420.87 422.77 L421.67 422.90 L421.67 418.86 L422.50 419.34 L423.33 419.33 L424.16 418.68 L424.99 419.24 L425.82 419.25 L426.65 418.95 L427.48 418.34 L428.31 418.55 L429.13 418.79 L429.96 418.78 L430.79 418.39 L431.62 418.75 L432.45 418.46 L433.28 418.29 L433.28 413.02 L434.11 413.09 L434.94 413.34 L435.77 413.74 L436.59 412.91 L437.42 412.89 L438.25 413.49 L439.08 413.20 L439.91 412.69 L440.74 412.66 L441.57 413.15 L442.40 413.52 L443.23 413.46 L444.05 413.68 L444.88 413.14 L444.88 408.36 L445.69 408.27 L446.49 408.39 L447.29 408.06 L448.09 408.11 L448.89 407.96 L449.70 408.09 L450.50 408.41 L451.30 408.30 L452.10 408.05 L452.90 407.47 L453.71 407.23 L454.51 407.11 L455.31 407.06 L456.11 407.38 L456.11 402.79 L456.94 403.15 L457.77 403.32 L458.60 403.38 L459.43 403.83 L460.26 404.79 L461.09 404.48 L461.91 405.02 L462.74 404.87 L463.57 404.17 L464.40 403.98 L465.23 403.18 L466.06 402.59 L466.89 401.94 L467.72 401.85 L467.72 394.44 L468.52 394.67 L469.32 394.09 L470.12 393.86 L470.93 393.78 L471.73 393.98 L472.53 394.37 L473.33 394.34 L474.13 393.67 L474.94 393.85 L475.74 393.75 L476.54 393.80 L477.34 393.85 L478.14 394.21 L478.95 393.51 L478.95 380.00 L479.79 379.98 L480.63 379.48 L481.47 380.04 L482.31 379.86 L483.15 379.09 L483.99 379.63 L484.83 379.01 L485.67 379.12 L486.51 378.88 L487.35 378.96 L488.19 378.15 L489.03 378.57 L489.87 378.01 L490.71 378.05 L491.55 377.99 L491.55 373.48 L492.37 373.50 L493.18 374.09 L494.00 373.55 L494.81 373.17 L495.63 372.91 L496.44 372.71 L497.26 372.97 L498.08 373.07 L498.89 373.27 L499.71 373.51 L500.52 372.72 L501.34 372.88 L502.15 373.09 L502.15 367.89 L502.96 368.08 L503.77 367.65 L504.57 368.12 L505.38 368.35 L506.19 368.35 L506.99 367.64 L507.80 367.23 L508.60 366.81 L509.41 367.08 L510.22 366.99 L511.02 367.01 L511.83 367.12 L512.64 367.04 L512.64 359.26 L513.46 358.13 L514.29 359.21 L515.12 359.42 L515.95 358.98 L516.78 358.43 L517.61 358.24 L518.44 358.21 L519.27 358.20 L520.10 357.61 L520.92 357.79 L521.75 357.27 L522.58 356.89 L523.41 357.18 L524.24 357.03 L524.24 350.99 L525.04 350.80 L525.84 350.78 L526.65 351.14 L527.45 351.43 L528.25 351.35 L529.05 351.26 L529.85 351.45 L530.66 351.01 L531.46 351.04 L532.26 351.56 L533.06 351.04 L533.87 351.60 L534.67 351.45 L535.47 351.28 L535.47 346.19 L536.30 346.07 L537.13 346.24 L537.96 346.51 L538.79 346.67 L539.61 346.08 L540.44 346.02 L541.27 345.44 L542.10 345.46 L542.93 345.38 L543.76 345.08 L544.59 344.89 L545.42 344.76 L546.25 344.66 L547.07 344.55 L547.07 339.74 L547.88 340.20 L548.68 339.55 L549.48 339.05 L550.28 339.45 L551.08 339.83 L551.89 339.88 L552.69 339.55 L553.49 339.88 L554.29 339.00 L555.10 339.57 L555.90 339.39 L556.70 339.23 L557.50 339.54 L558.30 338.93 L558.30 335.85 L559.13 335.75 L559.96 335.09 L560.79 334.99 L561.62 334.38 L562.45 334.86 L563.28 334.81 L564.11 334.53 L564.93 333.88 L565.76 333.43 L566.59 333.03 L567.42 333.32 L568.25 333.26 L569.08 333.25 L569.91 332.72 L569.91 328.47 L570.74 328.77 L571.57 328.64 L572.39 329.57 L573.22 329.16 L574.05 328.86 L574.88 328.65 L575.71 329.13 L576.54 329.37 L577.37 329.64 L578.20 328.80 L579.03 329.15 L579.85 328.88 L580.68 329.70 L581.51 328.89 L581.51 325.10 L582.31 325.26 L583.12 324.00 L583.92 324.31 L584.72 324.03 L585.52 323.80 L586.32 323.86 L587.13 323.40 L587.93 323.18 L588.73 323.02 L589.53 322.64 L590.34 322.90 L591.14 323.15 L591.94 322.87 L592.74 322.36 L592.74 315.29 L593.57 315.35 L594.40 315.67 L595.23 315.25 L596.06 315.19 L596.89 315.00 L597.71 315.17 L598.54 315.52 L599.37 314.91 L600.20 315.35 L601.03 315.27 L601.86 315.25 L602.69 314.43 L603.52 314.48 L604.35 314.62 L604.35 309.81 L605.15 310.86 L605.95 312.53 L606.75 311.69 L607.55 311.94 L608.36 312.07 L609.16 312.05 L609.96 312.08 L610.76 312.86 L611.57 312.59 L612.37 311.60 L613.17 311.45 L613.97 311.62 L614.77 310.15 L615.58 310.14 L615.58 297.36 L616.40 297.73 L617.23 296.98 L618.06 296.34 L618.89 296.42 L619.72 295.01 L620.55 294.76 L621.38 295.41 L622.21 294.60 L623.04 294.61 L623.86 295.35 L624.69 294.79 L625.52 292.89 L626.35 292.94 L627.18 292.87 L627.18 288.80 L628.01 288.95 L628.84 289.14 L629.67 289.92 L630.50 290.26 L631.32 290.13 L632.15 291.91 L632.98 290.90 L633.81 290.98 L634.64 291.63 L635.47 291.27 L636.30 290.28 L637.13 291.75 L637.96 291.43 L638.78 291.56 L638.78 287.35 L639.59 288.54 L640.40 289.04 L641.20 291.13 L642.01 290.61 L642.82 292.16 L643.62 293.24 L644.43 296.03 L645.23 296.78 L646.04 297.60 L646.85 298.87 L647.65 300.23 L648.46 300.66 L649.27 301.19 L649.27 295.16 L650.09 292.16 L650.92 288.35 L651.75 284.44 L652.58 285.19 L653.41 284.07 L654.24 282.96 L655.07 282.88 L655.90 283.26 L656.72 283.91 L657.55 284.70 L658.38 284.05 L659.21 284.87 L660.04 284.56 L660.87 285.00 L660.87 279.24 L661.67 280.57 L662.47 279.85 L663.28 279.79 L664.08 280.04 L664.88 280.91 L665.68 281.62 L666.48 281.74 L667.29 281.37 L668.09 282.25 L668.89 283.22 L669.69 283.05 L670.49 283.66 L671.30 283.67 L672.10 284.74 L672.10 279.13 L672.93 279.87 L673.76 278.02 L674.59 278.42 L675.41 278.11 L676.24 278.61 L677.07 277.43 L677.90 276.77 L678.73 277.54 L679.56 276.47 L680.39 277.27 L681.22 277.40 L682.05 277.14 L682.87 277.99 L683.70 278.38 L683.70 273.74 L684.51 281.18 L685.31 279.69 L686.11 279.62 L686.91 279.39 L687.71 278.07 L688.52 278.69 L689.32 279.51 L690.12 280.45 L690.92 281.13 L691.72 280.91 L692.53 280.74 L693.33 280.90 L694.13 279.79 L694.93 279.15 L694.93 272.93 L695.76 273.08 L696.59 272.83 L697.42 271.71 L698.25 272.47 L699.08 271.88 L699.91 271.29 L700.73 270.22 L701.56 268.93 L702.39 269.63 L703.22 269.25 L704.05 268.97 L704.88 269.41 L705.71 268.63 L706.54 268.96 L706.54 261.75 L707.37 260.81 L708.19 261.06 L709.02 262.24 L709.85 262.67 L710.68 262.85 L711.51 264.10 L712.34 264.67 L713.17 265.20 L714.00 266.59 L714.83 265.28 L715.65 265.38 L716.48 264.80 L717.31 264.68 L718.14 264.44 L718.14 260.87 L718.94 262.63 L719.75 263.40 L720.55 264.06 L721.35 264.85 L722.15 266.29 L722.95 266.97 L723.76 267.76 L724.56 268.57 L725.36 267.99 L726.16 267.56 L726.96 267.71 L727.77 268.19 L728.57 267.56 L729.37 266.77 L729.37 261.43 L730.20 260.60 L731.03 260.16 L731.86 260.91 L732.69 260.71 L733.52 261.73 L734.34 261.84 L735.17 261.01 L736.00 260.75 L736.83 261.29 L737.66 260.99 L738.49 258.92 L739.32 259.20 L740.15 258.89 L740.97 259.33 L740.97 254.84 L741.78 255.22 L742.58 254.52 L743.38 253.88 L744.18 254.25 L744.99 254.17 L745.79 254.86 L746.59 254.87 L747.39 253.73 L748.19 253.43 L749.00 253.48 L749.80 253.76 L750.60 253.44 L751.40 253.93 L752.20 254.82 L752.20 243.30 L753.03 242.15 L753.86 244.35 L754.69 244.62 L755.52 244.32 L756.35 244.59 L757.18 244.29 L758.01 244.40 L758.84 245.22 L759.66 244.17 L760.49 242.99 L761.32 241.77 L762.15 240.94 L762.98 240.98 L763.81 240.48 L763.81 233.25 L764.64 233.46 L765.47 233.28 L766.30 232.70 L767.12 232.38 L767.95 231.48 L768.78 231.75 L769.61 231.31 L770.44 230.97 L771.27 230.86 L772.10 231.16 L772.93 231.08 L773.76 230.49 L774.58 230.95 L775.41 230.95 L775.41 226.95 L776.22 227.67 L777.03 227.37 L777.83 227.88 L778.64 227.54 L779.44 227.80 L780.25 228.44 L781.06 228.47 L781.86 228.39 L782.67 229.08 L783.48 229.04 L784.28 228.84 L785.09 228.63 L785.89 228.09 L785.89 223.72 L786.72 223.91 L787.55 223.04 L788.38 222.60 L789.21 222.55 L790.04 222.68 L790.87 222.73 L791.70 222.56 L792.52 222.00 L793.35 222.30 L794.18 222.02 L795.01 222.25 L795.84 221.87 L796.67 221.78 L797.50 221.88 L797.50 212.99 L798.30 212.51 L799.10 214.02 L799.90 213.78 L800.71 214.43 L801.51 214.59 L802.31 215.00 L803.11 215.45 L803.92 216.04 L804.72 216.19 L805.52 215.83 L806.32 215.92 L807.12 215.36 L807.93 215.59 L808.73 214.92 L808.73 209.36 L809.56 209.51 L810.39 209.05 L811.21 209.76 L812.04 209.33 L812.87 210.48 L813.70 210.31 L814.53 210.35 L815.36 210.09 L816.19 210.26 L817.02 209.96 L817.85 209.16 L818.67 209.63 L819.50 209.22 L820.33 208.84 L820.33 201.89 L821.13 202.03 L821.94 202.38 L822.74 202.46 L823.54 201.80 L824.34 202.22 L825.14 202.79 L825.95 202.15 L826.75 202.62 L827.55 203.03 L828.35 203.39 L829.16 203.03 L829.96 203.34 L830.76 203.42 L831.56 203.18 L831.56 194.51 L832.39 193.89 L833.22 194.70 L834.05 194.32 L834.88 193.66 L835.71 193.22 L836.54 192.70 L837.36 192.96 L838.19 192.86 L839.02 193.58 L839.85 193.20 L840.68 192.79 L841.51 192.25 L842.34 192.34 L843.17 192.04 L843.17 189.63 L843.99 189.18 L844.82 188.91 L845.65 188.78 L846.48 188.36 L847.31 188.53 L848.14 189.31 L848.97 188.51 L849.80 187.85 L850.63 187.52 L851.45 188.16 L852.28 187.62 L853.11 187.09 L853.94 187.32 L854.77 187.28 L854.77 182.66 L855.57 183.09 L856.37 183.37 L857.18 183.50 L857.98 184.76 L858.78 184.26 L859.58 184.64 L860.38 185.90 L861.19 186.77 L861.99 187.41 L862.79 186.83 L863.59 186.47 L864.40 186.82 L865.20 187.08 L866.00 186.03 L866.00 182.21 L866.83 182.74 L867.66 183.80 L868.49 183.89 L869.32 185.15 L870.14 185.74 L870.97 185.51 L871.80 185.72 L872.63 184.91 L873.46 183.86 L874.29 183.60 L875.12 182.88 L875.95 182.68 L876.78 181.99 L877.60 182.34 L877.60 175.35 L878.41 174.54 L879.21 174.39 L880.01 174.47 L880.81 173.75 L881.61 174.53 L882.42 174.16 L883.22 172.60 L884.02 171.00 L884.82 170.15 L885.63 169.75 L886.43 169.85 L887.23 168.66 L888.03 167.76 L888.83 166.75 L888.83 148.39 L889.66 148.31 L890.48 148.57 L891.31 147.98 L892.13 148.59 L892.95 148.17 L893.78 148.24 L894.60 148.28" stroke="#f07b72"/>
<path d="M60.50 587.40 L61.13 587.61 L61.76 587.31 L62.39 587.27 L63.02 587.45 L63.65 587.67 L64.28 587.49 L64.91 587.25 L65.54 587.28 L66.17 587.39 L66.80 587.55 L67.43 587.42 L68.06 587.36 L68.69 587.40 L68.69 584.80 L68.69 584.80 L69.33 584.84 L69.97 584.72 L70.62 584.83 L71.26 584.89 L71.91 585.11 L72.55 584.89 L73.20 585.03 L73.84 584.76 L74.49 585.02 L75.13 584.96 L75.78 584.86 L76.42 584.93 L77.07 585.08 L77.71 584.93 L78.36 585.12 L79.00 585.22 L79.64 585.26 L80.29 585.00 L80.29 581.60 L80.29 581.60 L80.93 581.46 L81.58 581.67 L82.22 581.55 L82.87 581.78 L83.51 581.69 L84.16 581.71 L84.80 581.76 L85.45 581.62 L86.09 581.72 L86.74 581.62 L87.38 582.03 L88.03 581.71 L88.67 581.75 L89.31 581.51 L89.96 581.53 L90.60 581.64 L91.25 581.90 L91.89 581.80 L91.89 578.80 L91.89 578.80 L92.55 578.88 L93.20 578.75 L93.86 579.11 L94.51 578.74 L95.17 578.73 L95.82 578.94 L96.48 578.76 L97.13 578.94 L97.79 579.07 L98.44 578.94 L99.10 579.01 L99.75 578.97 L100.41 578.88 L101.06 578.51 L101.72 578.77 L102.37 579.00 L102.37 576.30 L102.37 576.30 L103.02 576.08 L103.66 576.23 L104.31 576.36 L104.95 576.55 L105.60 576.18 L106.24 576.28 L106.89 576.41 L107.53 576.48 L108.18 576.22 L108.82 576.67 L109.47 576.34 L110.11 576.59 L110.76 576.44 L111.40 576.52 L112.04 576.73 L112.69 576.62 L113.33 576.53 L113.98 576.50 L113.98 573.30 L113.98 573.30 L114.60 573.21 L115.23 573.11 L115.85 573.62 L116.47 573.15 L117.10 572.97 L117.72 573.58 L118.35 573.60 L118.97 573.37 L119.59 573.53 L120.22 573.31 L120.84 573.34 L121.47 573.51 L122.09 573.52 L122.71 573.40 L123.34 573.71 L123.96 573.62 L124.58 573.53 L125.21 573.50 L125.21 570.40 L125.21 570.40 L125.85 570.42 L126.50 570.39 L127.14 570.43 L127.79 570.57 L128.43 570.39 L129.08 570.51 L129.72 570.61 L130.37 570.56 L131.01 570.86 L131.66 570.30 L132.30 570.50 L132.94 570.36 L133.59 570.53 L134.23 570.93 L134.88 570.37 L135.52 570.52 L136.17 570.69 L136.81 570.60 L136.81 568.20 L136.81 568.20 L137.44 568.35 L138.06 567.99 L138.68 568.33 L139.31 568.08 L139.93 568.02 L140.56 568.27 L141.18 568.29 L141.80 568.11 L142.43 568.08 L143.05 568.17 L143.68 568.20 L144.30 568.18 L144.92 568.06 L145.55 567.85 L146.17 568.37 L146.79 568.25 L147.42 568.03 L148.04 568.20 L148.04 565.00 L148.04 565.00 L148.69 564.88 L149.33 564.93 L149.98 564.68 L150.62 565.18 L151.27 565.09 L151.91 564.97 L152.56 565.06 L153.20 565.05 L153.84 565.17 L154.49 565.05 L155.13 565.20 L155.78 565.26 L156.42 564.99 L157.07 564.94 L157.71 564.87 L158.36 564.96 L159.00 564.89 L159.65 565.00 L159.65 562.30 L159.65 562.30 L160.29 562.35 L160.94 562.39 L161.58 562.14 L162.23 562.45 L162.87 562.28 L163.51 562.29 L164.16 562.23 L164.80 562.00 L165.45 562.31 L166.09 562.04 L166.74 562.44 L167.38 562.33 L168.03 562.54 L168.67 562.43 L169.32 562.42 L169.96 562.53 L170.61 562.32 L171.25 562.30 L171.25 558.10 L171.25 558.10 L171.87 558.14 L172.50 558.21 L173.12 558.11 L173.75 558.31 L174.37 558.38 L174.99 558.24 L175.62 558.14 L176.24 558.35 L176.87 558.47 L177.49 558.42 L178.11 558.33 L178.74 558.38 L179.36 558.49 L179.98 558.18 L180.61 558.48 L181.23 558.84 L181.86 558.50 L182.48 558.70 L182.48 556.90 L182.48 556.90 L183.12 557.18 L183.77 557.10 L184.41 557.16 L185.06 557.03 L185.70 556.87 L186.35 557.51 L186.99 557.22 L187.64 557.22 L188.28 557.45 L188.93 557.38 L189.57 557.30 L190.22 557.14 L190.86 557.30 L191.51 557.35 L192.15 557.30 L192.80 557.30 L193.44 557.31 L194.08 557.50 L194.08 555.60 L194.08 555.60 L194.71 555.45 L195.33 555.52 L195.96 555.56 L196.58 555.40 L197.20 555.28 L197.83 555.44 L198.45 555.26 L199.08 554.86 L199.70 554.88 L200.32 554.95 L200.95 554.74 L201.57 554.90 L202.19 554.49 L202.82 554.36 L203.44 554.72 L204.07 554.64 L204.69 554.24 L205.31 554.40 L205.31 552.50 L205.31 552.50 L206.04 553.64 L206.76 554.23 L207.49 555.13 L208.22 556.25 L208.99 555.51 L209.76 554.81 L210.54 554.50 L211.41 554.53 L212.28 555.00 L212.94 555.05 L213.60 554.31 L214.27 554.27 L214.93 554.05 L215.59 553.25 L216.26 553.27 L216.92 553.00 L216.92 549.40 L216.92 549.40 L217.56 549.32 L218.21 549.45 L218.85 549.24 L219.50 549.31 L220.14 549.17 L220.79 549.16 L221.43 549.03 L222.08 549.44 L222.72 549.10 L223.37 548.88 L224.01 549.28 L224.65 549.23 L225.30 548.93 L225.94 548.80 L226.59 548.74 L227.23 549.00 L227.88 548.76 L228.52 548.75 L228.52 545.00 L228.52 545.00 L229.18 545.19 L229.83 545.13 L230.49 545.21 L231.14 546.08 L231.80 545.81 L232.45 546.00 L233.11 545.76 L233.76 545.60 L234.46 545.40 L235.16 545.59 L235.86 545.46 L236.56 544.69 L237.26 544.09 L237.96 544.40 L239.00 544.40 L239.75 544.40 L239.75 541.25 L239.75 541.25 L240.41 540.92 L241.07 541.19 L241.73 541.26 L242.39 541.71 L243.05 541.41 L243.71 540.70 L244.38 540.93 L245.04 540.02 L245.70 540.52 L246.36 540.04 L247.02 540.34 L247.68 539.86 L248.34 539.47 L249.00 539.40 L249.80 538.93 L250.60 537.50 L251.23 537.76 L251.85 537.65 L252.48 536.60 L253.11 537.51 L253.73 537.18 L254.36 537.41 L254.99 537.44 L255.61 536.50 L256.24 536.96 L256.87 537.07 L257.49 537.22 L258.12 537.42 L258.75 536.76 L259.37 536.84 L260.00 536.90 L260.62 535.71 L261.25 535.90 L261.88 535.74 L262.50 536.67 L263.12 536.42 L263.75 537.20 L264.38 537.07 L265.00 536.75 L265.62 536.18 L266.25 536.96 L266.88 537.24 L267.50 537.47 L268.12 536.90 L268.75 537.50 L269.38 536.47 L270.00 536.19 L270.62 535.08 L271.25 534.63 L271.88 534.37 L272.50 533.18 L273.12 533.13 L273.75 531.90 L274.38 531.78 L275.00 532.24 L275.62 532.01 L276.25 531.64 L276.88 531.44 L277.50 531.59 L278.12 531.72 L278.75 532.00 L279.38 531.65 L280.00 531.22 L280.62 530.85 L281.25 531.40 L281.88 531.47 L282.50 531.25 L283.12 530.01 L283.75 528.56 L284.38 528.28 L285.00 526.90 L285.62 526.58 L286.25 527.82 L286.88 527.77 L287.50 527.58 L288.12 527.78 L288.75 527.53 L289.38 528.33 L290.00 528.10 L290.62 528.16 L291.25 528.45 L291.88 528.36 L292.50 529.42 L293.12 529.99 L293.75 529.91 L294.38 529.00 L295.00 530.00 L296.00 532.50 L296.25 526.25 L296.88 525.34 L297.50 525.15 L298.12 525.72 L298.75 526.26 L299.38 525.78 L300.00 526.59 L300.62 525.39 L301.25 525.54 L301.88 525.40 L302.50 525.03 L303.12 525.69 L303.75 524.71 L304.38 524.64 L305.00 525.00 L305.62 524.18 L306.24 524.20 L306.86 522.99 L307.48 522.71 L308.10 521.90 L308.73 522.54 L309.35 522.24 L309.98 522.45 L310.61 521.85 L311.23 522.84 L311.86 522.53 L312.49 523.24 L313.12 523.28 L313.74 523.43 L314.37 523.80 L315.00 523.67 L315.62 523.29 L316.25 523.75 L316.94 522.58 L317.62 520.80 L318.31 520.21 L319.00 518.75 L319.68 518.74 L320.36 518.47 L321.04 518.41 L321.71 518.50 L322.39 517.70 L323.07 518.05 L323.75 517.50 L324.38 517.57 L325.00 517.48 L325.62 516.65 L326.25 517.22 L326.88 516.99 L327.50 516.11 L328.12 516.39 L328.75 516.24 L329.38 516.01 L330.00 516.25 L330.62 514.39 L331.25 513.10 L331.88 512.61 L332.50 512.81 L333.12 513.59 L333.75 513.05 L334.38 512.15 L335.00 512.23 L335.62 512.49 L336.25 512.50 L336.88 512.73 L337.50 512.33 L338.12 512.19 L338.75 512.13 L339.38 511.74 L340.00 511.90 L340.63 509.59 L341.27 509.04 L341.90 508.75 L342.52 508.89 L343.14 508.44 L343.77 507.62 L344.39 508.00 L345.01 508.06 L345.63 507.42 L346.26 508.28 L346.88 507.26 L347.50 507.50 L348.12 507.00 L348.75 507.68 L349.38 506.82 L350.00 506.81 L350.62 507.54 L351.25 506.60 L351.88 506.73 L352.50 506.90 L353.25 504.87 L354.00 502.50 L354.67 502.89 L355.33 502.83 L356.00 503.62 L356.67 502.72 L357.33 503.80 L358.00 503.96 L358.67 503.86 L359.33 504.02 L360.00 504.40 L360.62 503.09 L361.25 502.73 L361.88 501.68 L362.50 501.99 L363.12 502.04 L363.75 499.03 L364.38 499.92 L365.00 499.40 L365.63 500.88 L366.27 498.36 L366.90 498.75 L367.82 500.30 L368.75 502.50 L369.38 506.57 L370.00 510.00 L370.62 506.24 L371.25 503.10 L372.18 508.71 L373.10 511.25 L373.73 512.58 L374.37 513.60 L375.00 515.00 L375.62 518.25 L376.25 524.40 L377.18 526.92 L378.10 528.75 L378.93 521.14 L379.75 513.75 L380.50 516.88 L381.25 522.50 L382.18 520.70 L383.10 517.50 L383.73 514.74 L384.37 513.61 L385.00 513.75 L385.62 512.62 L386.24 512.72 L386.86 511.03 L387.48 508.15 L388.10 506.25 L388.73 507.88 L389.37 507.96 L390.00 510.60 L390.62 510.23 L391.25 508.59 L391.88 507.50 L392.50 505.00 L393.12 505.23 L393.75 506.82 L394.38 506.61 L395.00 506.90 L395.62 507.51 L396.25 508.14 L396.88 506.38 L397.50 508.10 L398.12 506.56 L398.74 505.65 L399.36 503.15 L399.98 501.97 L400.60 500.60 L401.23 501.95 L401.87 502.08 L402.50 501.90 L403.12 500.55 L403.75 499.59 L404.38 498.69 L405.00 499.01 L405.62 497.19 L406.25 495.83 L406.88 492.49 L407.50 493.10 L408.12 494.87 L408.75 500.00 L409.38 499.19 L410.00 496.72 L410.62 493.87 L411.25 493.10 L411.88 492.67 L412.50 495.58 L413.12 496.10 L413.75 495.64 L414.38 497.25 L415.00 496.25 L415.62 495.02 L416.25 494.79 L416.88 495.01 L417.50 493.94 L418.12 495.39 L418.75 492.78 L419.38 492.20 L420.00 491.90 L420.63 490.84 L421.27 489.89 L421.90 487.50 L422.52 486.09 L423.14 485.88 L423.76 488.62 L424.39 488.49 L425.01 487.92 L425.63 488.39 L426.25 487.50 L426.88 487.58 L427.50 484.82 L428.12 486.41 L428.75 486.33 L429.38 486.34 L430.00 485.70 L430.62 483.40 L431.25 483.75 L431.88 481.51 L432.50 482.50 L433.12 480.48 L433.75 481.75 L434.38 479.63 L435.00 478.76 L435.62 477.96 L436.25 477.86 L436.88 477.99 L437.50 476.90 L438.12 475.63 L438.75 475.63 L439.38 474.66 L440.00 472.50 L440.62 474.30 L441.25 477.19 L441.88 479.87 L442.50 481.25 L443.12 481.04 L443.75 478.75 L444.38 478.01 L445.00 477.50 L445.62 477.70 L446.25 478.36 L446.88 480.12 L447.50 481.25 L448.12 479.89 L448.75 480.58 L449.38 477.75 L450.00 477.46 L450.62 477.57 L451.25 476.30 L451.88 475.69 L452.50 476.25 L453.12 475.99 L453.75 474.16 L454.38 472.93 L455.00 471.16 L455.62 470.67 L456.25 471.25 L456.88 471.72 L457.50 470.96 L458.12 472.53 L458.75 471.79 L459.38 469.65 L460.00 471.90 L460.62 475.91 L461.25 478.40 L461.88 476.29 L462.50 474.51 L463.12 473.28 L463.75 471.90 L464.38 469.39 L465.00 467.92 L465.62 468.28 L466.25 464.39 L466.88 466.53 L467.50 463.75 L468.12 466.19 L468.75 466.25 L469.38 465.32 L470.00 463.86 L470.62 466.02 L471.25 463.86 L471.88 461.98 L472.50 463.42 L473.12 462.22 L473.75 462.30 L474.38 460.80 L475.00 460.60 L475.62 461.53 L476.24 461.45 L476.86 460.00 L477.48 462.50 L478.10 462.50 L478.75 460.35 L479.40 456.90 L480.02 458.12 L480.64 457.17 L481.26 458.77 L481.88 457.73 L482.50 458.10 L483.12 456.23 L483.75 458.26 L484.38 457.73 L485.00 457.22 L485.62 455.50 L486.25 455.60 L486.88 455.76 L487.51 454.58 L488.14 453.46 L488.77 452.89 L489.40 453.10 L490.32 451.99 L491.25 455.00 L492.18 453.03 L493.10 449.40 L493.73 450.38 L494.35 450.54 L494.98 451.55 L495.60 454.40 L496.23 454.59 L496.87 452.28 L497.50 449.40 L498.12 449.24 L498.75 448.94 L499.38 447.46 L500.00 446.86 L500.62 446.15 L501.25 444.58 L501.88 443.18 L502.50 443.75 L503.13 445.56 L503.77 443.41 L504.40 445.60 L505.60 442.50 L506.23 444.70 L506.85 446.41 L507.48 449.89 L508.10 451.25 L508.73 449.57 L509.37 448.71 L510.00 446.25 L510.62 445.60 L511.25 444.07 L511.88 439.83 L512.50 439.40 L513.12 439.22 L513.75 440.19 L514.38 442.10 L515.00 441.90 L515.62 442.01 L516.24 441.20 L516.86 440.08 L517.48 441.80 L518.10 438.75 L518.73 436.25 L519.36 437.28 L519.99 436.35 L520.62 434.63 L521.25 434.40 L521.88 430.88 L522.51 433.44 L523.14 429.16 L523.77 430.73 L524.40 428.10 L525.02 426.23 L525.64 428.86 L526.26 429.96 L526.88 430.91 L527.50 430.00 L528.12 431.23 L528.75 429.51 L529.38 428.83 L530.00 428.53 L530.62 429.01 L531.25 427.19 L531.88 426.59 L532.50 427.50 L533.13 431.10 L533.77 433.41 L534.40 434.40 L535.60 426.90 L536.23 425.95 L536.86 425.17 L537.49 424.90 L538.12 423.48 L538.75 424.80 L539.41 425.06 L540.08 425.38 L540.74 424.47 L541.41 423.38 L542.07 426.08 L542.74 425.02 L543.40 423.60 L544.04 423.95 L544.68 422.00 L545.32 422.29 L545.96 420.09 L546.60 420.10 L547.23 422.14 L547.87 422.94 L548.50 422.80 L549.17 421.72 L549.83 420.49 L550.50 418.90 L551.12 417.90 L551.74 418.41 L552.36 417.97 L552.98 415.17 L553.60 415.80 L554.23 416.45 L554.87 416.47 L555.50 417.30 L556.20 414.64 L556.90 413.48 L557.60 411.66 L558.30 412.30 L559.50 418.50 L560.25 411.87 L561.00 410.70 L561.80 412.31 L562.60 409.50 L563.27 409.88 L563.95 410.89 L564.62 410.42 L565.30 411.10 L566.10 408.96 L566.90 409.10 L567.58 406.59 L568.25 405.93 L568.92 405.84 L569.60 405.20 L570.80 407.20 L571.42 405.53 L572.04 404.10 L572.66 405.89 L573.28 405.34 L573.90 403.70 L574.60 403.33 L575.30 400.85 L576.00 402.01 L576.70 400.49 L577.40 402.10 L578.02 405.60 L578.64 403.79 L579.26 405.07 L579.88 407.49 L580.50 406.80 L581.30 401.70 L581.97 403.01 L582.63 404.06 L583.30 406.80 L584.05 403.14 L584.80 402.50 L585.60 405.37 L586.40 407.06 L587.20 410.30 L587.83 406.61 L588.47 402.90 L589.10 405.60 L589.77 405.31 L590.43 407.45 L591.10 406.80 L591.72 401.90 L592.34 400.70 L592.96 401.64 L593.58 399.03 L594.20 396.25 L594.98 396.78 L595.75 395.14 L596.52 395.32 L597.30 394.70 L598.05 390.04 L598.80 392.13 L599.55 392.14 L600.30 390.00 L600.96 391.73 L601.62 389.68 L602.29 391.21 L602.95 389.34 L603.61 389.56 L604.27 386.98 L604.94 384.50 L605.60 386.20 L606.24 389.62 L606.89 389.82 L607.53 388.52 L608.17 392.14 L608.81 390.72 L609.46 393.94 L610.10 394.50 L610.73 394.01 L611.37 390.36 L612.00 391.12 L612.63 389.31 L613.27 388.43 L613.90 386.20 L614.65 383.13 L615.40 381.60 L616.15 382.16 L616.90 389.20 L617.65 385.92 L618.40 386.44 L619.15 383.10 L619.90 380.10 L620.52 380.49 L621.14 380.57 L621.76 379.41 L622.38 380.18 L623.00 379.40 L623.74 381.66 L624.48 378.84 L625.22 381.09 L625.96 382.32 L626.70 383.90 L627.36 385.67 L628.01 386.31 L628.67 389.66 L629.33 387.64 L629.99 392.13 L630.64 395.27 L631.30 397.50 L632.05 396.34 L632.80 392.48 L633.55 390.80 L634.30 387.70 L635.05 386.62 L635.80 383.20 L636.57 384.04 L637.33 391.02 L638.10 392.20 L638.85 388.01 L639.60 387.70 L640.35 393.56 L641.10 395.33 L641.85 397.22 L642.60 400.60 L643.35 395.16 L644.10 392.20 L644.73 394.34 L645.37 394.08 L646.00 397.70 L646.63 395.57 L647.27 400.42 L647.90 402.10 L648.67 394.22 L649.43 393.34 L650.20 384.70 L650.90 382.90 L651.60 380.19 L652.30 382.37 L653.00 379.37 L653.70 376.55 L654.40 376.30 L655.06 378.45 L655.72 379.88 L656.38 380.75 L657.04 379.63 L657.70 382.40 L658.47 385.50 L659.23 385.55 L660.00 387.70 L660.77 382.47 L661.53 383.85 L662.30 383.20 L662.93 385.19 L663.57 389.87 L664.20 390.75 L664.83 392.90 L665.47 394.39 L666.10 395.30 L666.85 392.14 L667.60 391.50 L668.35 396.72 L669.10 398.48 L669.85 399.03 L670.60 405.80 L671.37 403.07 L672.13 399.47 L672.90 397.50 L673.65 399.96 L674.40 405.10 L675.04 402.60 L675.69 399.24 L676.33 398.58 L676.97 396.68 L677.61 395.56 L678.26 392.56 L678.90 390.00 L679.67 391.84 L680.43 393.10 L681.20 395.30 L681.95 398.53 L682.70 404.08 L683.45 406.96 L684.20 413.40 L684.95 410.17 L685.70 409.39 L686.45 406.21 L687.20 402.10 L687.97 408.47 L688.73 408.52 L689.50 408.00 L690.12 407.39 L690.75 404.87 L691.38 403.12 L692.00 403.50 L692.90 404.78 L693.80 407.60 L694.43 403.33 L695.07 403.21 L695.70 402.68 L696.33 399.05 L696.97 399.08 L697.60 394.00 L698.33 390.70 L699.07 389.72 L699.80 388.70 L700.43 390.53 L701.07 387.63 L701.70 384.76 L702.33 386.38 L702.97 386.78 L703.60 387.20 L704.35 384.20 L705.10 381.85 L705.85 378.01 L706.60 376.60 L707.22 377.19 L707.84 378.54 L708.46 380.12 L709.08 383.16 L709.70 383.40 L710.44 386.76 L711.18 387.17 L711.92 387.98 L712.66 392.47 L713.40 395.50 L714.10 393.37 L714.80 390.40 L715.50 386.65 L716.20 387.18 L716.90 384.90 L717.80 387.53 L718.70 395.50 L719.33 397.31 L719.97 400.79 L720.60 399.07 L721.23 400.27 L721.87 404.23 L722.50 406.10 L723.15 405.04 L723.80 404.03 L724.45 399.60 L725.10 400.10 L725.77 400.29 L726.45 402.02 L727.12 408.13 L727.80 409.90 L728.55 406.51 L729.30 405.09 L730.05 403.32 L730.80 400.10 L731.42 398.26 L732.04 396.92 L732.66 393.37 L733.28 391.02 L733.90 391.00 L734.63 397.43 L735.37 396.78 L736.10 400.10 L736.73 400.26 L737.37 394.29 L738.00 391.30 L738.63 392.63 L739.27 388.68 L739.90 384.90 L740.58 381.21 L741.26 385.24 L741.94 382.85 L742.62 383.92 L743.30 382.81 L743.98 384.09 L744.66 382.19 L745.34 382.93 L746.02 378.80 L746.70 378.90 L747.33 380.93 L747.97 380.22 L748.60 379.78 L749.23 382.35 L749.87 382.53 L750.50 384.90 L751.18 384.49 L751.86 384.67 L752.53 386.21 L753.21 386.80 L753.89 385.54 L754.57 386.12 L755.24 388.03 L755.92 387.50 L756.60 388.70 L757.33 387.97 L758.07 387.34 L758.80 391.00 L759.46 387.68 L760.12 387.29 L760.79 385.39 L761.45 383.52 L762.11 383.72 L762.77 379.67 L763.44 380.67 L764.10 377.40 L764.85 383.65 L765.60 381.90 L766.22 378.97 L766.84 378.71 L767.46 377.65 L768.08 374.30 L768.70 372.80 L769.43 370.58 L770.17 365.67 L770.90 365.30 L771.67 368.32 L772.43 369.48 L773.20 370.50 L773.97 366.91 L774.73 366.93 L775.50 363.70 L776.25 364.49 L777.00 369.74 L777.75 369.05 L778.50 374.30 L779.13 370.05 L779.77 373.13 L780.40 374.44 L781.03 371.23 L781.67 370.84 L782.30 372.80 L783.07 375.17 L783.83 378.75 L784.60 381.10 L785.35 377.48 L786.10 377.15 L786.85 372.00 L787.60 372.80 L788.26 369.71 L788.92 366.24 L789.59 369.70 L790.25 369.59 L790.91 367.99 L791.58 363.62 L792.24 363.45 L792.90 363.70 L793.57 362.62 L794.23 361.11 L794.90 363.67 L795.57 362.47 L796.23 359.38 L796.90 362.72 L797.57 360.72 L798.23 361.06 L798.90 359.20 L799.53 361.16 L800.17 361.10 L800.80 360.59 L801.43 361.45 L802.07 360.37 L802.70 359.20 L803.35 359.23 L804.00 358.09 L804.65 363.99 L805.30 363.50 L805.97 360.40 L806.63 361.47 L807.30 359.14 L807.97 357.37 L808.63 358.40 L809.30 354.00 L810.10 353.77 L810.90 357.18 L811.70 358.80 L812.42 358.76 L813.14 355.99 L813.86 352.60 L814.58 351.67 L815.30 349.20 L816.05 350.59 L816.80 348.71 L817.55 347.51 L818.30 348.00 L818.93 344.74 L819.57 339.93 L820.20 337.70 L820.92 337.19 L821.64 342.36 L822.36 341.05 L823.08 342.83 L823.80 343.10 L824.55 340.62 L825.30 340.92 L826.05 338.06 L826.80 336.50 L827.70 336.10 L828.60 338.90 L829.32 336.22 L830.03 337.04 L830.75 329.58 L831.47 332.59 L832.18 331.68 L832.90 327.40 L833.60 326.42 L834.30 325.70 L835.00 328.61 L835.70 327.83 L836.40 327.01 L837.10 326.20 L837.82 327.13 L838.54 327.28 L839.26 332.87 L839.98 333.82 L840.70 333.40 L841.33 334.52 L841.95 332.91 L842.58 329.09 L843.20 331.60 L844.00 331.96 L844.80 334.83 L845.60 335.80 L846.35 332.17 L847.10 330.98 L847.85 331.06 L848.60 327.40 L849.30 326.51 L850.00 326.39 L850.70 328.37 L851.40 331.44 L852.10 332.17 L852.80 331.60 L853.43 331.09 L854.07 331.22 L854.70 327.40 L855.42 332.04 L856.14 330.28 L856.86 332.20 L857.58 336.28 L858.30 337.10 L859.05 337.70 L859.80 339.15 L860.55 342.10 L861.30 341.90 L862.20 336.86 L863.10 334.00 L863.73 332.19 L864.35 332.72 L864.98 331.32 L865.60 329.80 L866.40 331.31 L867.20 336.88 L868.00 338.30 L868.80 340.39 L869.60 341.81 L870.40 344.30 L871.20 339.75 L872.00 337.71 L872.80 332.20 L873.55 329.20 L874.30 327.22 L875.05 328.64 L875.80 326.20 L876.43 325.64 L877.07 322.26 L877.70 318.90 L878.50 315.84 L879.30 315.82 L880.10 315.30 L880.77 313.49 L881.45 315.95 L882.12 314.90 L882.80 316.29 L883.48 314.28 L884.15 313.31 L884.83 315.40 L885.50 314.10 L886.12 310.89 L886.75 310.78 L887.38 307.51 L888.00 306.80 L888.80 304.95 L889.60 300.56 L890.40 298.90 L891.30 299.44 L892.20 300.10 L893.00 301.50 L893.80 300.23 L894.60 300.10" stroke="#fcd04f"/>
<path d="M60.50 587.60 L61.13 587.60 L61.76 587.89 L62.39 587.69 L63.02 587.63 L63.65 587.64 L64.28 587.56 L64.91 587.53 L65.54 587.64 L66.17 587.57 L66.80 587.66 L67.43 587.59 L68.06 587.45 L68.69 587.60 L68.69 585.00 L68.69 585.00 L69.33 584.92 L69.97 584.84 L70.62 585.00 L71.26 585.02 L71.91 585.13 L72.55 585.01 L73.20 585.05 L73.84 585.13 L74.49 585.17 L75.13 585.04 L75.78 585.24 L76.42 585.10 L77.07 585.24 L77.71 585.15 L78.36 585.13 L79.00 585.07 L79.64 585.16 L80.29 585.20 L80.29 581.90 L80.29 581.90 L80.93 581.89 L81.58 582.05 L82.22 582.06 L82.87 581.93 L83.51 582.05 L84.16 582.10 L84.80 581.97 L85.45 581.94 L86.09 582.09 L86.74 582.05 L87.38 582.21 L88.03 582.10 L88.67 581.96 L89.31 582.04 L89.96 581.96 L90.60 582.13 L91.25 582.16 L91.89 582.10 L91.89 579.10 L91.89 579.10 L92.55 579.03 L93.20 579.19 L93.86 579.12 L94.51 579.25 L95.17 579.10 L95.82 579.14 L96.48 579.14 L97.13 579.11 L97.79 579.43 L98.44 579.40 L99.10 579.21 L99.75 579.31 L100.41 579.12 L101.06 579.36 L101.72 579.39 L102.37 579.30 L102.37 576.60 L102.37 576.60 L103.02 576.58 L103.66 576.64 L104.31 576.68 L104.95 576.62 L105.60 576.58 L106.24 576.63 L106.89 576.64 L107.53 576.75 L108.18 576.72 L108.82 576.73 L109.47 576.59 L110.11 576.68 L110.76 576.70 L111.40 576.71 L112.04 576.75 L112.69 576.75 L113.33 576.66 L113.98 576.80 L113.98 573.70 L113.98 573.70 L114.60 573.80 L115.23 573.69 L115.85 573.78 L116.47 573.67 L117.10 573.64 L117.72 573.73 L118.35 573.91 L118.97 573.80 L119.59 573.67 L120.22 573.81 L120.84 573.78 L121.47 573.77 L122.09 573.87 L122.71 573.71 L123.34 573.70 L123.96 573.73 L124.58 573.96 L125.21 573.90 L125.21 570.80 L125.21 570.80 L125.85 570.77 L126.50 570.76 L127.14 570.88 L127.79 570.96 L128.43 570.82 L129.08 570.89 L129.72 571.08 L130.37 570.97 L131.01 570.89 L131.66 570.94 L132.30 570.94 L132.94 571.00 L133.59 570.99 L134.23 570.92 L134.88 570.96 L135.52 571.01 L136.17 570.94 L136.81 571.00 L136.81 568.75 L136.81 568.75 L137.44 568.69 L138.06 568.86 L138.68 568.93 L139.31 568.74 L139.93 568.86 L140.56 568.83 L141.18 568.83 L141.80 568.80 L142.43 568.85 L143.05 568.93 L143.68 568.76 L144.30 568.93 L144.92 568.85 L145.55 568.78 L146.17 568.86 L146.79 568.94 L147.42 568.90 L148.04 568.90 L148.04 565.60 L148.04 565.60 L148.69 565.60 L149.33 565.59 L149.98 565.73 L150.62 565.61 L151.27 565.76 L151.91 565.75 L152.56 565.70 L153.20 565.72 L153.84 565.73 L154.49 565.77 L155.13 565.78 L155.78 565.79 L156.42 565.66 L157.07 565.64 L157.71 565.85 L158.36 565.82 L159.00 565.83 L159.65 565.90 L159.65 563.10 L159.65 563.10 L160.29 563.02 L160.94 563.24 L161.58 563.16 L162.23 563.14 L162.87 563.07 L163.51 563.23 L164.16 563.25 L164.80 563.33 L165.45 563.30 L166.09 563.16 L166.74 563.11 L167.38 563.34 L168.03 563.21 L168.67 563.25 L169.32 563.26 L169.96 563.32 L170.61 563.35 L171.25 563.30 L171.25 559.40 L171.25 559.40 L171.87 559.39 L172.50 559.35 L173.12 559.58 L173.75 559.60 L174.37 559.51 L174.99 559.77 L175.62 559.77 L176.24 559.72 L176.87 559.81 L177.49 559.85 L178.11 559.96 L178.74 560.02 L179.36 560.01 L179.98 560.13 L180.61 559.94 L181.23 560.15 L181.86 560.30 L182.48 560.30 L182.48 558.10 L182.48 558.10 L183.12 558.20 L183.77 558.05 L184.41 557.99 L185.06 558.10 L185.70 558.34 L186.35 558.22 L186.99 558.13 L187.64 558.05 L188.28 558.20 L188.93 558.18 L189.57 558.26 L190.22 558.26 L190.86 558.06 L191.51 558.22 L192.15 558.33 L192.80 558.24 L193.44 558.19 L194.08 558.30 L194.08 555.00 L194.08 555.00 L194.71 554.91 L195.33 555.23 L195.96 555.25 L196.58 555.11 L197.20 555.28 L197.83 555.13 L198.45 555.18 L199.08 555.20 L199.70 555.28 L200.32 555.39 L200.95 555.55 L201.57 555.49 L202.19 555.44 L202.82 555.49 L203.44 555.49 L204.07 555.57 L204.69 555.50 L205.31 555.60 L205.31 553.10 L205.31 553.10 L205.96 553.18 L206.60 553.26 L207.25 553.16 L207.89 553.28 L208.54 553.31 L209.18 553.26 L209.83 553.19 L210.47 553.32 L211.12 553.49 L211.76 553.45 L212.41 553.69 L213.05 553.61 L213.69 553.53 L214.34 553.59 L214.98 553.68 L215.63 553.73 L216.27 553.71 L216.92 553.75 L216.92 550.60 L216.92 550.60 L217.56 550.82 L218.21 550.65 L218.85 550.53 L219.50 550.44 L220.14 550.29 L220.79 550.40 L221.43 550.34 L222.08 550.33 L222.72 550.26 L223.37 550.33 L224.01 550.33 L224.65 550.16 L225.30 550.05 L225.94 550.15 L226.59 550.22 L227.23 550.12 L227.88 550.08 L228.52 550.00 L228.52 546.90 L228.52 546.90 L229.18 546.85 L229.83 546.95 L230.49 547.07 L231.14 546.96 L231.80 547.12 L232.45 547.24 L233.11 547.03 L233.76 546.76 L234.42 546.51 L235.07 546.97 L235.73 546.93 L236.38 546.93 L237.04 547.33 L237.69 546.85 L238.35 546.90 L239.00 547.00 L239.75 546.90 L239.75 543.10 L239.75 543.10 L240.41 542.46 L241.07 542.93 L241.73 543.46 L242.39 543.14 L243.05 543.25 L243.71 542.81 L244.38 543.72 L245.04 542.99 L245.70 543.25 L246.36 543.48 L247.02 544.20 L247.68 543.79 L248.34 543.51 L249.00 543.75 L249.80 541.72 L250.60 540.00 L251.23 539.72 L251.85 539.91 L252.48 540.26 L253.11 539.57 L253.73 540.19 L254.36 539.23 L254.99 540.24 L255.61 539.57 L256.24 539.52 L256.87 539.45 L257.49 539.62 L258.12 539.52 L258.75 539.39 L259.37 539.22 L260.00 539.40 L260.62 537.82 L261.25 536.25 L261.88 536.07 L262.50 535.88 L263.12 536.34 L263.75 536.59 L264.38 536.20 L265.00 536.80 L265.62 536.61 L266.25 536.67 L266.88 536.16 L267.50 536.84 L268.12 537.17 L268.75 537.47 L269.38 536.78 L270.00 536.90 L270.62 536.40 L271.25 535.64 L271.88 534.55 L272.50 533.97 L273.12 533.54 L273.75 532.50 L274.38 532.56 L275.00 532.91 L275.62 532.22 L276.25 532.73 L276.88 532.51 L277.50 532.60 L278.12 533.00 L278.75 533.37 L279.38 533.07 L280.00 532.96 L280.62 533.44 L281.25 533.27 L281.88 532.38 L282.50 532.76 L283.12 532.83 L283.75 533.10 L284.38 530.45 L285.00 528.75 L285.62 528.88 L286.25 529.38 L286.88 528.88 L287.50 528.96 L288.12 528.75 L288.75 529.28 L289.38 529.47 L290.00 529.66 L290.62 529.53 L291.25 529.06 L291.88 529.56 L292.50 529.03 L293.12 529.08 L293.75 529.25 L294.38 530.00 L295.00 529.40 L295.62 527.85 L296.25 526.90 L296.88 527.32 L297.50 527.23 L298.12 527.25 L298.75 526.87 L299.38 526.98 L300.00 527.54 L300.62 527.31 L301.25 527.08 L301.88 527.18 L302.50 527.74 L303.12 527.97 L303.75 527.65 L304.38 527.27 L305.00 527.50 L305.62 526.78 L306.24 526.30 L306.86 525.79 L307.48 525.06 L308.10 524.40 L308.73 524.64 L309.36 524.07 L309.99 523.24 L310.62 523.15 L311.25 523.10 L311.88 522.53 L312.50 521.90 L313.12 522.39 L313.75 522.57 L314.38 522.66 L315.00 523.03 L315.62 523.00 L316.25 523.35 L316.88 523.73 L317.50 523.75 L318.25 521.30 L319.00 518.10 L319.68 518.62 L320.36 518.06 L321.04 518.00 L321.71 517.44 L322.39 517.88 L323.07 517.39 L323.75 517.50 L324.38 517.74 L325.00 517.67 L325.62 518.59 L326.25 518.41 L326.88 518.34 L327.50 518.54 L328.12 518.93 L328.75 519.07 L329.38 519.50 L330.00 519.40 L330.62 517.27 L331.25 515.00 L331.88 514.72 L332.50 515.09 L333.12 514.59 L333.75 514.21 L334.38 514.77 L335.00 514.44 L335.62 514.65 L336.25 514.40 L336.88 514.92 L337.50 515.10 L338.12 515.83 L338.75 515.42 L339.38 516.28 L340.00 516.25 L340.63 515.12 L341.27 513.67 L341.90 512.50 L342.52 512.64 L343.15 512.28 L343.77 512.31 L344.39 512.38 L345.02 512.14 L345.64 512.83 L346.26 512.30 L346.89 511.87 L347.51 512.16 L348.14 511.92 L348.76 511.59 L349.38 511.53 L350.01 511.08 L350.63 511.66 L351.25 511.91 L351.88 511.40 L352.50 511.25 L353.12 508.86 L353.75 507.50 L354.38 507.62 L355.00 507.65 L355.62 507.93 L356.25 507.90 L356.88 508.23 L357.50 508.39 L358.12 508.67 L358.75 508.75 L359.38 508.78 L360.00 508.22 L360.62 508.38 L361.25 507.80 L361.88 508.08 L362.50 508.34 L363.12 508.61 L363.75 507.53 L364.38 507.55 L365.00 508.10 L365.60 505.60 L366.23 505.59 L366.87 505.94 L367.50 506.25 L368.13 508.87 L368.77 509.53 L369.40 511.25 L370.02 510.78 L370.64 512.65 L371.26 513.05 L371.88 513.47 L372.50 513.75 L373.13 516.50 L373.77 519.21 L374.40 522.50 L375.00 529.40 L375.62 529.45 L376.25 529.73 L376.88 531.04 L377.50 530.60 L378.12 529.45 L378.75 530.00 L379.38 529.60 L380.00 528.31 L380.62 527.89 L381.25 526.90 L381.88 527.11 L382.50 525.95 L383.12 524.57 L383.75 523.75 L384.38 522.74 L385.00 520.60 L385.62 520.40 L386.25 519.45 L386.88 520.54 L387.50 520.13 L388.12 518.88 L388.75 517.33 L389.38 519.30 L390.00 519.40 L390.62 519.21 L391.25 519.56 L391.88 520.16 L392.50 519.55 L393.12 521.23 L393.75 520.16 L394.38 520.99 L395.00 521.25 L395.62 520.80 L396.25 520.38 L396.88 521.11 L397.50 519.58 L398.12 520.12 L398.75 520.00 L399.68 517.86 L400.60 516.25 L401.23 515.41 L401.86 513.58 L402.49 514.21 L403.11 513.68 L403.74 513.43 L404.37 512.97 L405.00 513.10 L405.75 513.05 L406.50 512.24 L407.25 513.37 L408.00 512.50 L408.65 512.84 L409.30 511.37 L409.95 510.46 L410.60 510.18 L411.25 510.00 L411.88 510.64 L412.50 510.88 L413.12 510.29 L413.75 511.53 L414.38 511.90 L415.00 512.50 L415.62 511.90 L416.25 511.25 L416.88 512.76 L417.50 511.54 L418.12 512.19 L418.75 512.16 L419.38 511.81 L420.00 511.63 L420.62 511.80 L421.25 511.25 L421.88 510.28 L422.50 509.40 L423.12 509.69 L423.75 509.50 L424.38 508.15 L425.00 509.64 L425.62 509.24 L426.25 510.73 L426.88 511.10 L427.50 510.66 L428.12 510.70 L428.75 510.60 L429.38 510.14 L430.00 509.72 L430.62 511.04 L431.25 509.18 L431.88 510.87 L432.50 509.40 L433.13 507.38 L433.77 508.66 L434.40 506.90 L435.02 507.00 L435.64 507.33 L436.27 505.65 L436.89 505.93 L437.51 506.22 L438.13 506.83 L438.76 505.93 L439.38 506.13 L440.00 505.60 L440.62 506.12 L441.25 505.75 L441.88 506.31 L442.50 506.90 L443.12 506.52 L443.75 504.70 L444.38 504.29 L445.00 503.10 L445.62 503.18 L446.25 502.31 L446.88 503.04 L447.50 501.90 L448.12 501.46 L448.75 503.06 L449.38 502.29 L450.00 503.20 L450.62 503.56 L451.25 502.38 L451.88 503.23 L452.50 503.75 L453.13 503.30 L453.76 502.16 L454.39 502.68 L455.01 502.47 L455.64 501.35 L456.27 501.55 L456.90 501.25 L457.52 500.50 L458.15 501.55 L458.77 502.48 L459.40 502.73 L460.02 501.86 L460.65 502.12 L461.27 502.82 L461.90 503.10 L462.52 503.15 L463.14 502.25 L463.76 502.13 L464.38 500.80 L465.00 500.60 L465.62 499.30 L466.24 497.31 L466.86 496.08 L467.48 494.00 L468.10 493.75 L468.73 493.31 L469.36 493.66 L469.99 493.94 L470.61 492.64 L471.24 492.36 L471.87 493.03 L472.50 492.50 L473.13 492.23 L473.77 491.08 L474.40 490.00 L475.02 489.58 L475.64 489.01 L476.26 489.44 L476.89 490.67 L477.51 491.04 L478.13 489.99 L478.75 490.00 L479.38 490.62 L480.00 488.99 L480.62 488.35 L481.25 488.47 L481.88 487.40 L482.50 488.71 L483.12 488.22 L483.75 487.82 L484.38 487.75 L485.00 487.50 L485.62 486.69 L486.24 485.09 L486.87 485.26 L487.49 483.87 L488.11 483.45 L488.73 482.09 L489.36 481.60 L489.98 479.87 L490.60 480.00 L491.23 480.29 L491.86 481.59 L492.49 481.09 L493.12 481.39 L493.75 482.50 L494.38 481.28 L495.00 482.56 L495.62 482.27 L496.25 481.96 L496.88 482.19 L497.50 481.95 L498.12 481.48 L498.75 482.34 L499.38 481.45 L500.00 481.90 L500.62 480.49 L501.24 478.89 L501.86 477.64 L502.48 476.93 L503.10 475.60 L503.73 476.49 L504.36 476.49 L504.98 475.83 L505.61 476.72 L506.24 474.96 L506.87 477.26 L507.49 475.92 L508.12 475.85 L508.75 476.90 L509.38 475.14 L510.00 474.62 L510.62 474.47 L511.25 472.31 L511.88 472.43 L512.50 471.90 L513.12 471.71 L513.75 473.09 L514.38 472.06 L515.00 473.46 L515.62 473.23 L516.25 473.10 L516.88 472.63 L517.50 471.84 L518.12 472.68 L518.75 471.20 L519.38 471.42 L520.00 471.62 L520.62 471.24 L521.25 471.05 L521.88 469.97 L522.50 470.00 L523.12 469.67 L523.75 469.25 L524.38 469.65 L525.00 467.63 L525.62 468.23 L526.25 468.30 L526.88 467.53 L527.50 466.45 L528.12 467.01 L528.75 467.44 L529.38 466.20 L530.00 466.25 L530.62 464.89 L531.24 464.26 L531.87 463.15 L532.49 465.41 L533.11 463.19 L533.73 463.18 L534.36 462.64 L534.98 460.97 L535.60 460.60 L536.23 461.90 L536.86 461.92 L537.49 461.88 L538.11 461.00 L538.74 461.07 L539.37 461.65 L540.00 461.90 L540.62 461.34 L541.25 461.75 L541.88 461.89 L542.50 461.48 L543.12 460.73 L543.75 460.01 L544.38 460.50 L545.00 459.75 L545.62 459.85 L546.25 459.40 L547.17 456.53 L548.10 454.40 L548.73 453.61 L549.36 454.59 L549.99 453.25 L550.62 453.99 L551.25 453.75 L551.88 454.44 L552.50 453.66 L553.12 454.91 L553.75 455.49 L554.38 456.77 L555.00 457.09 L555.62 457.13 L556.25 457.24 L556.88 457.69 L557.50 458.10 L558.12 458.67 L558.75 457.97 L559.38 457.97 L560.00 455.89 L560.62 457.12 L561.25 457.82 L561.88 456.27 L562.50 455.25 L563.12 456.31 L563.75 455.00 L564.38 455.32 L565.00 453.43 L565.62 454.04 L566.25 452.55 L566.88 453.96 L567.50 452.76 L568.12 451.74 L568.75 451.66 L569.38 452.35 L570.00 450.90 L570.63 451.29 L571.27 450.81 L571.90 452.02 L572.53 451.18 L573.17 450.51 L573.80 452.27 L574.43 449.90 L575.07 450.97 L575.70 452.10 L576.33 451.39 L576.97 451.14 L577.60 450.80 L578.27 449.97 L578.93 450.20 L579.60 449.97 L580.27 450.47 L580.93 449.90 L581.60 449.29 L582.27 449.82 L582.93 449.73 L583.60 448.20 L584.26 449.35 L584.91 447.34 L585.57 445.76 L586.23 446.52 L586.89 442.88 L587.54 442.62 L588.20 442.90 L588.87 442.10 L589.53 441.22 L590.20 441.41 L590.87 442.40 L591.53 441.11 L592.20 441.15 L592.87 440.72 L593.53 439.74 L594.20 439.10 L594.95 438.57 L595.70 438.98 L596.45 439.31 L597.20 438.40 L597.98 439.45 L598.75 440.79 L599.52 441.50 L600.30 442.20 L600.97 440.66 L601.63 441.74 L602.30 440.11 L602.97 441.25 L603.63 440.54 L604.30 439.93 L604.97 438.97 L605.63 440.11 L606.30 439.10 L606.98 438.96 L607.66 437.96 L608.33 440.42 L609.01 439.33 L609.69 439.02 L610.37 440.52 L611.04 440.37 L611.72 438.20 L612.40 439.90 L613.15 439.76 L613.90 437.35 L614.65 435.51 L615.40 434.60 L616.04 435.03 L616.69 433.51 L617.33 433.16 L617.97 432.91 L618.61 432.61 L619.26 431.74 L619.90 432.30 L620.52 431.61 L621.14 428.93 L621.76 429.40 L622.38 428.07 L623.00 426.30 L623.74 426.45 L624.48 424.67 L625.22 423.33 L625.96 424.58 L626.70 423.20 L627.45 420.64 L628.20 417.20 L628.97 419.00 L629.73 422.20 L630.50 424.80 L631.16 423.85 L631.81 423.49 L632.47 423.80 L633.13 423.83 L633.79 424.22 L634.44 423.73 L635.10 422.50 L635.84 421.67 L636.58 421.23 L637.32 420.30 L638.06 419.32 L638.80 418.70 L639.60 425.50 L640.80 419.50 L641.70 425.12 L642.60 430.10 L643.23 430.29 L643.87 431.90 L644.50 435.05 L645.13 436.16 L645.77 436.40 L646.40 437.60 L647.15 434.99 L647.90 431.62 L648.65 428.53 L649.40 425.50 L650.06 424.19 L650.71 424.26 L651.37 423.13 L652.03 423.56 L652.69 422.68 L653.34 421.67 L654.00 421.70 L654.74 420.51 L655.48 419.96 L656.22 418.82 L656.96 419.18 L657.70 418.00 L658.36 417.48 L659.03 416.96 L659.69 416.98 L660.35 415.88 L661.01 414.33 L661.67 416.27 L662.34 414.98 L663.00 414.20 L663.66 413.82 L664.33 413.21 L664.99 413.54 L665.65 414.90 L666.31 414.45 L666.97 414.62 L667.64 414.50 L668.30 414.90 L669.07 417.24 L669.83 416.95 L670.60 418.70 L671.23 417.31 L671.87 417.85 L672.50 418.17 L673.13 417.04 L673.77 416.60 L674.40 415.70 L675.03 416.53 L675.67 415.70 L676.30 415.54 L676.93 414.28 L677.57 415.58 L678.20 415.22 L678.83 414.16 L679.47 413.68 L680.10 414.27 L680.73 412.96 L681.37 413.60 L682.00 413.40 L682.73 414.64 L683.47 418.19 L684.20 419.50 L684.86 417.85 L685.51 419.85 L686.17 418.36 L686.83 419.16 L687.49 418.25 L688.14 417.16 L688.80 417.50 L689.43 417.99 L690.07 419.26 L690.70 419.44 L691.33 420.31 L691.97 420.81 L692.60 422.03 L693.23 423.06 L693.87 423.61 L694.50 424.50 L695.16 422.86 L695.81 422.38 L696.47 421.50 L697.13 419.61 L697.79 419.52 L698.44 418.07 L699.10 418.40 L699.85 418.81 L700.60 418.39 L701.35 420.10 L702.10 419.70 L702.74 417.49 L703.39 417.74 L704.03 415.66 L704.67 416.05 L705.31 415.66 L705.96 414.99 L706.60 412.90 L707.26 412.04 L707.91 412.95 L708.57 411.80 L709.23 413.06 L709.89 413.52 L710.54 412.88 L711.20 412.90 L711.84 412.71 L712.49 413.12 L713.13 412.96 L713.77 412.75 L714.41 414.39 L715.06 414.85 L715.70 415.20 L716.47 413.19 L717.23 411.44 L718.00 411.40 L718.75 412.44 L719.50 412.24 L720.25 412.79 L721.00 413.70 L721.75 414.49 L722.50 416.85 L723.25 418.93 L724.00 419.70 L724.63 419.62 L725.27 418.10 L725.90 417.84 L726.53 416.59 L727.17 416.64 L727.80 416.70 L728.57 415.45 L729.33 416.54 L730.10 413.70 L730.87 413.99 L731.63 414.42 L732.40 415.20 L733.15 414.61 L733.90 412.90 L734.65 414.11 L735.40 415.35 L736.15 414.65 L736.90 417.50 L737.54 416.19 L738.19 416.48 L738.83 415.45 L739.47 415.67 L740.11 414.61 L740.76 414.66 L741.40 413.70 L742.08 414.12 L742.76 412.57 L743.43 414.45 L744.11 412.43 L744.79 413.13 L745.47 412.40 L746.14 413.05 L746.82 413.74 L747.50 412.90 L748.13 412.56 L748.77 412.53 L749.40 410.73 L750.03 411.41 L750.67 410.05 L751.30 409.90 L751.93 408.39 L752.57 410.51 L753.20 407.82 L753.83 405.37 L754.47 406.18 L755.10 405.30 L755.76 403.44 L756.42 403.55 L757.09 402.36 L757.75 402.63 L758.41 401.33 L759.08 400.51 L759.74 400.73 L760.40 400.10 L761.15 397.83 L761.90 395.75 L762.65 393.23 L763.40 391.00 L764.13 392.13 L764.87 392.28 L765.60 391.70 L766.37 391.40 L767.13 387.63 L767.90 387.20 L768.56 385.53 L769.21 385.80 L769.87 385.41 L770.53 386.12 L771.19 386.63 L771.84 384.89 L772.50 384.90 L773.14 384.50 L773.79 383.11 L774.43 381.25 L775.07 382.87 L775.71 381.10 L776.36 379.94 L777.00 378.90 L777.63 377.39 L778.27 376.75 L778.90 375.21 L779.53 374.72 L780.17 371.57 L780.80 371.30 L781.55 371.47 L782.30 369.40 L783.05 370.00 L783.80 369.00 L784.57 370.90 L785.33 372.58 L786.10 372.80 L786.84 372.58 L787.58 371.65 L788.32 371.33 L789.06 371.71 L789.80 371.30 L790.48 370.18 L791.16 370.45 L791.83 369.19 L792.51 370.40 L793.19 369.91 L793.87 368.88 L794.54 369.18 L795.22 367.88 L795.90 367.50 L796.65 366.80 L797.40 364.68 L798.15 363.07 L798.90 363.70 L799.53 363.29 L800.17 364.75 L800.80 366.23 L801.43 366.10 L802.07 366.19 L802.70 367.50 L803.38 367.08 L804.07 366.58 L804.75 366.31 L805.43 364.62 L806.12 365.56 L806.80 364.30 L807.43 364.13 L808.07 363.47 L808.70 361.90 L809.35 361.06 L810.00 361.15 L810.65 361.09 L811.30 360.86 L811.95 361.08 L812.60 360.24 L813.25 361.36 L813.90 361.45 L814.55 362.22 L815.20 361.15 L815.85 362.59 L816.50 361.30 L817.24 359.64 L817.98 358.41 L818.72 357.99 L819.46 356.37 L820.20 354.00 L820.92 352.87 L821.64 351.29 L822.36 349.38 L823.08 348.92 L823.80 348.00 L824.50 349.57 L825.20 348.65 L825.90 350.16 L826.60 349.82 L827.30 349.78 L828.00 350.40 L828.62 348.37 L829.24 347.80 L829.86 350.05 L830.48 348.91 L831.10 348.00 L831.85 345.95 L832.60 344.14 L833.35 342.01 L834.10 340.10 L834.85 340.69 L835.60 341.23 L836.35 341.90 L837.10 341.90 L837.85 338.77 L838.60 337.63 L839.35 333.65 L840.10 331.00 L840.73 334.40 L841.37 337.24 L842.00 340.70 L842.90 337.71 L843.80 333.40 L844.46 333.97 L845.12 332.47 L845.78 331.75 L846.44 332.42 L847.10 333.61 L847.76 331.87 L848.42 333.48 L849.08 332.36 L849.74 333.68 L850.40 332.80 L851.20 331.54 L852.00 329.39 L852.80 330.40 L853.45 330.86 L854.10 334.60 L855.30 323.70 L856.50 331.00 L857.20 330.69 L857.90 330.21 L858.60 331.22 L859.30 330.26 L860.00 330.91 L860.70 331.00 L861.50 333.65 L862.30 336.38 L863.10 340.70 L863.73 340.54 L864.37 337.86 L865.00 336.50 L865.70 336.65 L866.40 336.54 L867.10 336.41 L867.80 339.00 L868.50 339.16 L869.20 339.50 L869.90 339.72 L870.60 337.63 L871.30 336.43 L872.00 336.05 L872.70 334.05 L873.40 333.40 L874.12 332.99 L874.83 332.56 L875.55 331.63 L876.27 331.68 L876.98 330.64 L877.70 329.20 L878.42 330.03 L879.14 329.10 L879.86 328.83 L880.58 329.36 L881.30 329.80 L882.02 327.62 L882.74 327.24 L883.46 325.25 L884.18 324.01 L884.90 323.10 L885.52 321.42 L886.14 323.43 L886.76 322.29 L887.38 322.12 L888.00 321.90 L888.75 318.04 L889.50 318.97 L890.25 317.78 L891.00 314.70 L891.80 315.10 L892.60 315.61 L893.40 315.30 L894.60 312.20" stroke="#1a1a1a" stroke-width="1.2"/>
</g>
<rect x="60.2" y="590.05" width="834.80" height="0.8" fill="#444"/>
<text x="33.3" y="41.3" font-size="8.9" fill="#587380" textLength="49.8" lengthAdjust="spacingAndGlyphs">Bruto vs Neto</text>
<text x="57.1" y="70.90" font-size="7.2" fill="#3a3a3a" stroke="#3a3a3a" stroke-width="0.08" text-anchor="end" textLength="23.5" lengthAdjust="spacingAndGlyphs">6000,00</text>
<text x="57.1" y="245.00" font-size="7.2" fill="#3a3a3a" stroke="#3a3a3a" stroke-width="0.08" text-anchor="end" textLength="23.5" lengthAdjust="spacingAndGlyphs">4000,00</text>
<text x="57.1" y="419.00" font-size="7.2" fill="#3a3a3a" stroke="#3a3a3a" stroke-width="0.08" text-anchor="end" textLength="23.5" lengthAdjust="spacingAndGlyphs">2000,00</text>
<text x="57.1" y="593.05" font-size="7.2" fill="#3a3a3a" stroke="#3a3a3a" stroke-width="0.08" text-anchor="end" textLength="12.0" lengthAdjust="spacingAndGlyphs">0,00</text>
<g font-size="7.2" fill="#1a1a1a" stroke="#1a1a1a" stroke-width="0.18" text-anchor="end">
<text transform="translate(63.10 593.9) rotate(-90)" textLength="33" lengthAdjust="spacingAndGlyphs">2017-11-23</text>
<text transform="translate(70.96 593.9) rotate(-90)" textLength="33" lengthAdjust="spacingAndGlyphs">2017-12-14</text>
<text transform="translate(78.82 593.9) rotate(-90)" textLength="33" lengthAdjust="spacingAndGlyphs">2018-01-04</text>
<text transform="translate(86.68 593.9) rotate(-90)" textLength="33" lengthAdjust="spacingAndGlyphs">2018-01-25</text>
<text transform="translate(94.54 593.9) rotate(-90)" textLength="33" lengthAdjust="spacingAndGlyphs">2018-02-15</text>
<text transform="translate(102.40 593.9) rotate(-90)" textLength="33" lengthAdjust="spacingAndGlyphs">2018-03-08</text>
<text transform="translate(110.27 593.9) rotate(-90)" textLength="33" lengthAdjust="spacingAndGlyphs">2018-03-29</text>
<text transform="translate(118.13 593.9) rotate(-90)" textLength="33" lengthAdjust="spacingAndGlyphs">2018-04-19</text>
<text transform="translate(125.99 593.9) rotate(-90)" textLength="33" lengthAdjust="spacingAndGlyphs">2018-05-10</text>
<text transform="translate(133.85 593.9) rotate(-90)" textLength="33" lengthAdjust="spacingAndGlyphs">2018-05-31</text>
<text transform="translate(141.71 593.9) rotate(-90)" textLength="33" lengthAdjust="spacingAndGlyphs">2018-06-21</text>
<text transform="translate(149.57 593.9) rotate(-90)" textLength="33" lengthAdjust="spacingAndGlyphs">2018-07-12</text>
<text transform="translate(157.43 593.9) rotate(-90)" textLength="33" lengthAdjust="spacingAndGlyphs">2018-08-02</text>
<text transform="translate(165.29 593.9) rotate(-90)" textLength="33" lengthAdjust="spacingAndGlyphs">2018-08-23</text>
<text transform="translate(173.15 593.9) rotate(-90)" textLength="33" lengthAdjust="spacingAndGlyphs">2018-09-13</text>
<text transform="translate(181.01 593.9) rotate(-90)" textLength="33" lengthAdjust="spacingAndGlyphs">2018-10-04</text>
<text transform="translate(188.87 593.9) rotate(-90)" textLength="33" lengthAdjust="spacingAndGlyphs">2018-10-25</text>
<text transform="translate(196.73 593.9) rotate(-90)" textLength="33" lengthAdjust="spacingAndGlyphs">2018-11-15</text>
<text transform="translate(204.60 593.9) rotate(-90)" textLength="33" lengthAdjust="spacingAndGlyphs">2018-12-06</text>
<text transform="translate(212.46 593.9) rotate(-90)" textLength="33" lengthAdjust="spacingAndGlyphs">2018-12-27</text>
<text transform="translate(220.32 593.9) rotate(-90)" textLength="33" lengthAdjust="spacingAndGlyphs">2019-01-17</text>
<text transform="translate(228.18 593.9) rotate(-90)" textLength="33" lengthAdjust="spacingAndGlyphs">2019-02-07</text>
<text transform="translate(236.04 593.9) rotate(-90)" textLength="33" lengthAdjust="spacingAndGlyphs">2019-02-28</text>
<text transform="translate(243.90 593.9) rotate(-90)" textLength="33" lengthAdjust="spacingAndGlyphs">2019-03-21</text>
<text transform="translate(251.76 593.9) rotate(-90)" textLength="33" lengthAdjust="spacingAndGlyphs">2019-04-11</text>
<text transform="translate(259.62 593.9) rotate(-90)" textLength="33" lengthAdjust="spacingAndGlyphs">2019-05-02</text>
<text transform="translate(267.48 593.9) rotate(-90)" textLength="33" lengthAdjust="spacingAndGlyphs">2019-05-23</text>
<text transform="translate(275.34 593.9) rotate(-90)" textLength="33" lengthAdjust="spacingAndGlyphs">2019-06-13</text>
<text transform="translate(283.20 593.9) rotate(-90)" textLength="33" lengthAdjust="spacingAndGlyphs">2019-07-04</text>
<text transform="translate(291.06 593.9) rotate(-90)" textLength="33" lengthAdjust="spacingAndGlyphs">2019-07-25</text>
<text transform="translate(298.93 593.9) rotate(-90)" textLength="33" lengthAdjust="spacingAndGlyphs">2019-08-15</text>
<text transform="translate(306.79 593.9) rotate(-90)" textLength="33" lengthAdjust="spacingAndGlyphs">2019-09-05</text>
<text transform="translate(314.65 593.9) rotate(-90)" textLength="33" lengthAdjust="spacingAndGlyphs">2019-09-26</text>
<text transform="translate(322.51 593.9) rotate(-90)" textLength="33" lengthAdjust="spacingAndGlyphs">2019-10-17</text>
<text transform="translate(330.37 593.9) rotate(-90)" textLength="33" lengthAdjust="spacingAndGlyphs">2019-11-07</text>
<text transform="translate(338.23 593.9) rotate(-90)" textLength="33" lengthAdjust="spacingAndGlyphs">2019-11-28</text>
<text transform="translate(346.09 593.9) rotate(-90)" textLength="33" lengthAdjust="spacingAndGlyphs">2019-12-19</text>
<text transform="translate(353.95 593.9) rotate(-90)" textLength="33" lengthAdjust="spacingAndGlyphs">2020-01-09</text>
<text transform="translate(361.81 593.9) rotate(-90)" textLength="33" lengthAdjust="spacingAndGlyphs">2020-01-30</text>
<text transform="translate(369.67 593.9) rotate(-90)" textLength="33" lengthAdjust="spacingAndGlyphs">2020-02-20</text>
<text transform="translate(377.53 593.9) rotate(-90)" textLength="33" lengthAdjust="spacingAndGlyphs">2020-03-12</text>
<text transform="translate(385.39 593.9) rotate(-90)" textLength="33" lengthAdjust="spacingAndGlyphs">2020-04-02</text>
<text transform="translate(393.26 593.9) rotate(-90)" textLength="33" lengthAdjust="spacingAndGlyphs">2020-04-23</text>
<text transform="translate(401.12 593.9) rotate(-90)" textLength="33" lengthAdjust="spacingAndGlyphs">2020-05-14</text>
<text transform="translate(408.98 593.9) rotate(-90)" textLength="33" lengthAdjust="spacingAndGlyphs">2020-06-04</text>
<text transform="translate(416.84 593.9) rotate(-90)" textLength="33" lengthAdjust="spacingAndGlyphs">2020-06-25</text>
<text transform="translate(424.70 593.9) rotate(-90)" textLength="33" lengthAdjust="spacingAndGlyphs">2020-07-16</text>
<text transform="translate(432.56 593.9) rotate(-90)" textLength="33" lengthAdjust="spacingAndGlyphs">2020-08-06</text>
<text transform="translate(440.42 593.9) rotate(-90)" textLength="33" lengthAdjust="spacingAndGlyphs">2020-08-27</text>
<text transform="translate(448.28 593.9) rotate(-90)" textLength="33" lengthAdjust="spacingAndGlyphs">2020-09-17</text>
<text transform="translate(456.14 593.9) rotate(-90)" textLength="33" lengthAdjust="spacingAndGlyphs">2020-10-08</text>
<text transform="translate(464.00 593.9) rotate(-90)" textLength="33" lengthAdjust="spacingAndGlyphs">2020-10-29</text>
<text transform="translate(471.86 593.9) rotate(-90)" textLength="33" lengthAdjust="spacingAndGlyphs">2020-11-19</text>
<text transform="translate(479.73 593.9) rotate(-90)" textLength="33" lengthAdjust="spacingAndGlyphs">2020-12-10</text>
<text transform="translate(487.59 593.9) rotate(-90)" textLength="33" lengthAdjust="spacingAndGlyphs">2020-12-31</text>
<text transform="translate(495.45 593.9) rotate(-90)" textLength="33" lengthAdjust="spacingAndGlyphs">2021-01-21</text>
<text transform="translate(503.31 593.9) rotate(-90)" textLength="33" lengthAdjust="spacingAndGlyphs">2021-02-11</text>
<text transform="translate(511.17 593.9) rotate(-90)" textLength="33" lengthAdjust="spacingAndGlyphs">2021-03-04</text>
<text transform="translate(519.03 593.9) rotate(-90)" textLength="33" lengthAdjust="spacingAndGlyphs">2021-03-25</text>
<text transform="translate(526.89 593.9) rotate(-90)" textLength="33" lengthAdjust="spacingAndGlyphs">2021-04-15</text>
<text transform="translate(534.75 593.9) rotate(-90)" textLength="33" lengthAdjust="spacingAndGlyphs">2021-05-06</text>
<text transform="translate(542.61 593.9) rotate(-90)" textLength="33" lengthAdjust="spacingAndGlyphs">2021-05-27</text>
<text transform="translate(550.47 593.9) rotate(-90)" textLength="33" lengthAdjust="spacingAndGlyphs">2021-06-17</text>
<text transform="translate(558.33 593.9) rotate(-90)" textLength="33" lengthAdjust="spacingAndGlyphs">2021-07-08</text>
<text transform="translate(566.19 593.9) rotate(-90)" textLength="33" lengthAdjust="spacingAndGlyphs">2021-07-29</text>
<text transform="translate(574.06 593.9) rotate(-90)" textLength="33" lengthAdjust="spacingAndGlyphs">2021-08-19</text>
<text transform="translate(581.92 593.9) rotate(-90)" textLength="33" lengthAdjust="spacingAndGlyphs">2021-09-09</text>
<text transform="translate(589.78 593.9) rotate(-90)" textLength="33" lengthAdjust="spacingAndGlyphs">2021-09-30</text>
<text transform="translate(597.64 593.9) rotate(-90)" textLength="33" lengthAdjust="spacingAndGlyphs">2021-10-21</text>
<text transform="translate(605.50 593.9) rotate(-90)" textLength="33" lengthAdjust="spacingAndGlyphs">2021-11-11</text>
<text transform="translate(613.36 593.9) rotate(-90)" textLength="33" lengthAdjust="spacingAndGlyphs">2021-12-02</text>
<text transform="translate(621.22 593.9) rotate(-90)" textLength="33" lengthAdjust="spacingAndGlyphs">2021-12-23</text>
<text transform="translate(629.08 593.9) rotate(-90)" textLength="33" lengthAdjust="spacingAndGlyphs">2022-01-13</text>
<text transform="translate(636.94 593.9) rotate(-90)" textLength="33" lengthAdjust="spacingAndGlyphs">2022-02-03</text>
<text transform="translate(644.80 593.9) rotate(-90)" textLength="33" lengthAdjust="spacingAndGlyphs">2022-02-24</text>
<text transform="translate(652.66 593.9) rotate(-90)" textLength="33" lengthAdjust="spacingAndGlyphs">2022-03-17</text>
<text transform="translate(660.52 593.9) rotate(-90)" textLength="33" lengthAdjust="spacingAndGlyphs">2022-04-07</text>
<text transform="translate(668.39 593.9) rotate(-90)" textLength="33" lengthAdjust="spacingAndGlyphs">2022-04-28</text>
<text transform="translate(676.25 593.9) rotate(-90)" textLength="33" lengthAdjust="spacingAndGlyphs">2022-05-19</text>
<text transform="translate(684.11 593.9) rotate(-90)" textLength="33" lengthAdjust="spacingAndGlyphs">2022-06-09</text>
<text transform="translate(691.97 593.9) rotate(-90)" textLength="33" lengthAdjust="spacingAndGlyphs">2022-06-30</text>
<text transform="translate(699.83 593.9) rotate(-90)" textLength="33" lengthAdjust="spacingAndGlyphs">2022-07-21</text>
<text transform="translate(707.69 593.9) rotate(-90)" textLength="33" lengthAdjust="spacingAndGlyphs">2022-08-11</text>
<text transform="translate(715.55 593.9) rotate(-90)" textLength="33" lengthAdjust="spacingAndGlyphs">2022-09-01</text>
<text transform="translate(723.41 593.9) rotate(-90)" textLength="33" lengthAdjust="spacingAndGlyphs">2022-09-22</text>
<text transform="translate(731.27 593.9) rotate(-90)" textLength="33" lengthAdjust="spacingAndGlyphs">2022-10-13</text>
<text transform="translate(739.13 593.9) rotate(-90)" textLength="33" lengthAdjust="spacingAndGlyphs">2022-11-03</text>
<text transform="translate(746.99 593.9) rotate(-90)" textLength="33" lengthAdjust="spacingAndGlyphs">2022-11-24</text>
<text transform="translate(754.85 593.9) rotate(-90)" textLength="33" lengthAdjust="spacingAndGlyphs">2022-12-15</text>
<text transform="translate(762.72 593.9) rotate(-90)" textLength="33" lengthAdjust="spacingAndGlyphs">2023-01-05</text>
<text transform="translate(770.58 593.9) rotate(-90)" textLength="33" lengthAdjust="spacingAndGlyphs">2023-01-26</text>
<text transform="translate(778.44 593.9) rotate(-90)" textLength="33" lengthAdjust="spacingAndGlyphs">2023-02-16</text>
<text transform="translate(786.30 593.9) rotate(-90)" textLength="33" lengthAdjust="spacingAndGlyphs">2023-03-09</text>
<text transform="translate(794.16 593.9) rotate(-90)" textLength="33" lengthAdjust="spacingAndGlyphs">2023-03-30</text>
<text transform="translate(802.02 593.9) rotate(-90)" textLength="33" lengthAdjust="spacingAndGlyphs">2023-04-20</text>
<text transform="translate(809.88 593.9) rotate(-90)" textLength="33" lengthAdjust="spacingAndGlyphs">2023-05-11</text>
<text transform="translate(817.74 593.9) rotate(-90)" textLength="33" lengthAdjust="spacingAndGlyphs">2023-06-01</text>
<text transform="translate(825.60 593.9) rotate(-90)" textLength="33" lengthAdjust="spacingAndGlyphs">2023-06-22</text>
<text transform="translate(833.46 593.9) rotate(-90)" textLength="33" lengthAdjust="spacingAndGlyphs">2023-07-13</text>
<text transform="translate(841.32 593.9) rotate(-90)" textLength="33" lengthAdjust="spacingAndGlyphs">2023-08-03</text>
<text transform="translate(849.18 593.9) rotate(-90)" textLength="33" lengthAdjust="spacingAndGlyphs">2023-08-24</text>
<text transform="translate(857.05 593.9) rotate(-90)" textLength="33" lengthAdjust="spacingAndGlyphs">2023-09-14</text>
<text transform="translate(864.91 593.9) rotate(-90)" textLength="33" lengthAdjust="spacingAndGlyphs">2023-10-05</text>
<text transform="translate(872.77 593.9) rotate(-90)" textLength="33" lengthAdjust="spacingAndGlyphs">2023-10-26</text>
<text transform="translate(880.63 593.9) rotate(-90)" textLength="33" lengthAdjust="spacingAndGlyphs">2023-11-16</text>
<text transform="translate(888.49 593.9) rotate(-90)" textLength="33" lengthAdjust="spacingAndGlyphs">2023-12-07</text>
<text transform="translate(896.35 593.9) rotate(-90)" textLength="33" lengthAdjust="spacingAndGlyphs">2023-12-28</text>
</g>
<g font-size="7.5" fill="#222">
<rect x="932.5" y="68.00" width="6.5" height="2.1" rx="1" fill="#4285f4"/>
<text x="943.9" y="71.55" transform="rotate(0.03 943.9 71.55)" textLength="28.9" lengthAdjust="spacingAndGlyphs">CO1000C</text>
<rect x="932.5" y="80.85" width="6.5" height="2.1" rx="1" fill="#ea4335"/>
<text x="943.9" y="84.40" transform="rotate(0.03 943.9 84.40)" textLength="28.1" lengthAdjust="spacingAndGlyphs">CO1000A</text>
<rect x="932.5" y="93.70" width="6.5" height="2.1" rx="1" fill="#fbbc04"/>
<text x="943.9" y="97.25" transform="rotate(0.03 943.9 97.25)" textLength="12.0" lengthAdjust="spacingAndGlyphs">EPP</text>
<rect x="932.5" y="106.55" width="6.5" height="2.1" rx="1" fill="#34a853"/>
<text x="943.9" y="110.10" transform="rotate(0.03 943.9 110.10)" textLength="12.1" lengthAdjust="spacingAndGlyphs">EPE</text>
<rect x="932.5" y="119.40" width="6.5" height="2.1" rx="1" fill="#ff6d01"/>
<text x="943.9" y="122.95" transform="rotate(0.03 943.9 122.95)" textLength="13.2" lengthAdjust="spacingAndGlyphs">AZ B</text>
<rect x="932.5" y="132.25" width="6.5" height="2.1" rx="1" fill="#46bdc6"/>
<text x="943.9" y="135.80" transform="rotate(0.03 943.9 135.80)" textLength="22.7" lengthAdjust="spacingAndGlyphs">CO dmf</text>
<rect x="932.5" y="145.10" width="6.5" height="2.1" rx="1" fill="#7baaf7"/>
<text x="943.9" y="148.65" transform="rotate(0.03 943.9 148.65)" textLength="13.2" lengthAdjust="spacingAndGlyphs">AZ P</text>
<rect x="932.5" y="157.95" width="6.5" height="2.1" rx="1" fill="#f07b72"/>
<text x="943.9" y="161.50" transform="rotate(0.03 943.9 161.50)" textLength="17.7" lengthAdjust="spacingAndGlyphs">R dmf</text>
<rect x="932.5" y="170.80" width="6.5" height="2.1" rx="1" fill="#fcd04f"/>
<text x="943.9" y="174.35" transform="rotate(0.03 943.9 174.35)" textLength="35.1" lengthAdjust="spacingAndGlyphs">S&amp;P500 NU</text>
<rect x="932.5" y="183.65" width="6.5" height="2.1" rx="1" fill="#1a1a1a"/>
<text x="943.9" y="187.20" transform="rotate(0.03 943.9 187.20)" textLength="37.4" lengthAdjust="spacingAndGlyphs">CROBEX NU</text>
</g>
</svg>
</body></html>
